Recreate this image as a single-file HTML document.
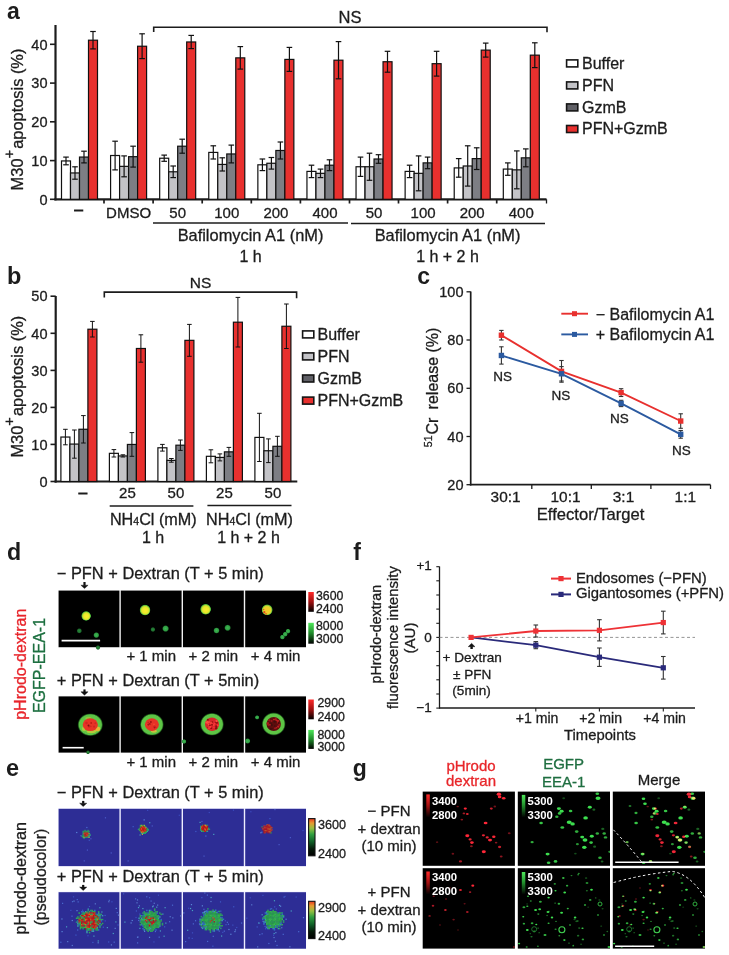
<!DOCTYPE html>
<html><head><meta charset="utf-8"><title>Figure</title>
<style>
html,body{margin:0;padding:0;background:#fff;}
svg{display:block;font-family:"Liberation Sans", Arial, sans-serif;}
</style></head><body>
<svg width="729" height="955" viewBox="0 0 729 955">
<defs>
<radialGradient id="gyel"><stop offset="0" stop-color="#f6f22a"/><stop offset="0.55" stop-color="#e2e426"/><stop offset="0.78" stop-color="#6cc83a"/><stop offset="1" stop-color="#2aa036" stop-opacity="0"/></radialGradient>
<radialGradient id="ggrn"><stop offset="0" stop-color="#4cd050"/><stop offset="0.6" stop-color="#32b03e"/><stop offset="1" stop-color="#1e8a2c" stop-opacity="0"/></radialGradient>
<radialGradient id="ggrn2"><stop offset="0" stop-color="#3cb448"/><stop offset="0.6" stop-color="#2a9a38"/><stop offset="1" stop-color="#1e8a2c" stop-opacity="0"/></radialGradient>
<radialGradient id="gring"><stop offset="0" stop-color="#5cc45c"/><stop offset="0.85" stop-color="#58c258"/><stop offset="1" stop-color="#3aa840" stop-opacity="0.2"/></radialGradient>
<radialGradient id="gred"><stop offset="0" stop-color="#e82a22"/><stop offset="0.8" stop-color="#e02a20"/><stop offset="1" stop-color="#c83a20"/></radialGradient>
<radialGradient id="gdred"><stop offset="0" stop-color="#7a1010"/><stop offset="0.8" stop-color="#5c0c0c"/><stop offset="1" stop-color="#6a2a10"/></radialGradient>
<linearGradient id="cbr" x1="0" y1="0" x2="0" y2="1"><stop offset="0" stop-color="#ff2a2a"/><stop offset="0.5" stop-color="#a01010"/><stop offset="1" stop-color="#000"/></linearGradient>
<linearGradient id="cbg" x1="0" y1="0" x2="0" y2="1"><stop offset="0" stop-color="#4ee85a"/><stop offset="0.5" stop-color="#1f8a2a"/><stop offset="1" stop-color="#000"/></linearGradient>
<linearGradient id="cbj" x1="0" y1="0" x2="0" y2="1"><stop offset="0" stop-color="#e83820"/><stop offset="0.12" stop-color="#e89a30"/><stop offset="0.26" stop-color="#98c040"/><stop offset="0.42" stop-color="#30a040"/><stop offset="0.62" stop-color="#106028"/><stop offset="0.82" stop-color="#041808"/><stop offset="1" stop-color="#000"/></linearGradient>
<radialGradient id="eg1"><stop offset="0" stop-color="#cc1a10"/><stop offset="0.45" stop-color="#d02818"/><stop offset="0.6" stop-color="#c8c030"/><stop offset="0.75" stop-color="#30b060"/><stop offset="1" stop-color="#2e5ab0" stop-opacity="0"/></radialGradient>
<radialGradient id="gdot_r"><stop offset="0" stop-color="#ff3040"/><stop offset="1" stop-color="#c01020" stop-opacity="0"/></radialGradient>
<radialGradient id="gdot_g"><stop offset="0" stop-color="#50e060"/><stop offset="1" stop-color="#20a030" stop-opacity="0"/></radialGradient>

<filter id="bl6" x="-50%" y="-50%" width="200%" height="200%"><feGaussianBlur stdDeviation="0.6"/></filter>
<filter id="bl9" x="-50%" y="-50%" width="200%" height="200%"><feGaussianBlur stdDeviation="0.9"/></filter>
<filter id="bl4" x="-50%" y="-50%" width="200%" height="200%"><feGaussianBlur stdDeviation="0.4"/></filter>
<radialGradient id="dyel" fx="0.56" fy="0.58"><stop offset="0" stop-color="#f6ee30"/><stop offset="0.5" stop-color="#ece82a"/><stop offset="0.7" stop-color="#c4de30"/><stop offset="0.85" stop-color="#50b838"/><stop offset="1" stop-color="#1a7a22" stop-opacity="0"/></radialGradient>
<radialGradient id="dyel2" fx="0.45" fy="0.6"><stop offset="0" stop-color="#f4c82a"/><stop offset="0.5" stop-color="#f0d02a"/><stop offset="0.7" stop-color="#d8d830"/><stop offset="0.85" stop-color="#60b838"/><stop offset="1" stop-color="#1a7a22" stop-opacity="0"/></radialGradient>
<radialGradient id="dgrn"><stop offset="0" stop-color="#40b855"/><stop offset="0.65" stop-color="#2e9c42"/><stop offset="1" stop-color="#1a6e28" stop-opacity="0"/></radialGradient>
<radialGradient id="dgrn2"><stop offset="0" stop-color="#2a8a3a"/><stop offset="0.6" stop-color="#207030"/><stop offset="1" stop-color="#154a20" stop-opacity="0"/></radialGradient>
<radialGradient id="dring"><stop offset="0" stop-color="#66c846"/><stop offset="0.88" stop-color="#5cc444"/><stop offset="1" stop-color="#2a8a2a" stop-opacity="0.3"/></radialGradient>

<radialGradient id="eg1"><stop offset="0" stop-color="#d01c10"/><stop offset="0.5" stop-color="#d42414"/><stop offset="0.66" stop-color="#c0b830"/><stop offset="0.8" stop-color="#30a860"/><stop offset="1" stop-color="#2e3a9e" stop-opacity="0"/></radialGradient>
<radialGradient id="egb"><stop offset="0" stop-color="#30b048"/><stop offset="0.75" stop-color="#2eae4a"/><stop offset="0.9" stop-color="#2c8a80"/><stop offset="1" stop-color="#2e3a9e" stop-opacity="0"/></radialGradient>
<clipPath id="gclip"><rect x="422.7" y="791.6" width="92.2" height="74.2"/><rect x="517.8" y="791.6" width="92.2" height="74.2"/><rect x="612.8" y="791.6" width="92.2" height="74.2"/><rect x="422.7" y="868.2" width="92.2" height="80.4"/><rect x="517.8" y="868.2" width="92.2" height="80.4"/><rect x="612.8" y="868.2" width="92.2" height="80.4"/></clipPath></defs>
<rect width="729" height="955" fill="#fff"/>
<text x="7.0" y="18.5" font-size="23" text-anchor="start" fill="#1c1c1c" font-weight="bold">a</text>
<line x1="55.5" y1="25.0" x2="55.5" y2="200.4" stroke="#1c1c1c" stroke-width="2.2"/>
<line x1="50.0" y1="199.3" x2="55.5" y2="199.3" stroke="#1c1c1c" stroke-width="1.6"/>
<text x="47.5" y="204.5" font-size="14.5" text-anchor="end" fill="#1c1c1c" stroke="#1c1c1c" stroke-width="0.3">0</text>
<line x1="50.0" y1="160.6" x2="55.5" y2="160.6" stroke="#1c1c1c" stroke-width="1.6"/>
<text x="47.5" y="165.8" font-size="14.5" text-anchor="end" fill="#1c1c1c" stroke="#1c1c1c" stroke-width="0.3">10</text>
<line x1="50.0" y1="121.8" x2="55.5" y2="121.8" stroke="#1c1c1c" stroke-width="1.6"/>
<text x="47.5" y="127.0" font-size="14.5" text-anchor="end" fill="#1c1c1c" stroke="#1c1c1c" stroke-width="0.3">20</text>
<line x1="50.0" y1="83.1" x2="55.5" y2="83.1" stroke="#1c1c1c" stroke-width="1.6"/>
<text x="47.5" y="88.3" font-size="14.5" text-anchor="end" fill="#1c1c1c" stroke="#1c1c1c" stroke-width="0.3">30</text>
<line x1="50.0" y1="44.3" x2="55.5" y2="44.3" stroke="#1c1c1c" stroke-width="1.6"/>
<text x="47.5" y="49.5" font-size="14.5" text-anchor="end" fill="#1c1c1c" stroke="#1c1c1c" stroke-width="0.3">40</text>
<line x1="54.4" y1="199.3" x2="546.5" y2="199.3" stroke="#1c1c1c" stroke-width="2.2"/>
<line x1="104.0" y1="199.3" x2="104.0" y2="203.5" stroke="#1c1c1c" stroke-width="1.7"/>
<line x1="153.1" y1="199.3" x2="153.1" y2="203.5" stroke="#1c1c1c" stroke-width="1.7"/>
<line x1="202.2" y1="199.3" x2="202.2" y2="203.5" stroke="#1c1c1c" stroke-width="1.7"/>
<line x1="251.3" y1="199.3" x2="251.3" y2="203.5" stroke="#1c1c1c" stroke-width="1.7"/>
<line x1="300.4" y1="199.3" x2="300.4" y2="203.5" stroke="#1c1c1c" stroke-width="1.7"/>
<line x1="349.5" y1="199.3" x2="349.5" y2="203.5" stroke="#1c1c1c" stroke-width="1.7"/>
<line x1="398.5" y1="199.3" x2="398.5" y2="203.5" stroke="#1c1c1c" stroke-width="1.7"/>
<line x1="447.6" y1="199.3" x2="447.6" y2="203.5" stroke="#1c1c1c" stroke-width="1.7"/>
<line x1="496.7" y1="199.3" x2="496.7" y2="203.5" stroke="#1c1c1c" stroke-width="1.7"/>
<line x1="546.5" y1="199.3" x2="546.5" y2="203.5" stroke="#1c1c1c" stroke-width="1.3"/>
<rect x="61.50" y="160.94" width="9.00" height="38.36" fill="#ffffff" stroke="#111" stroke-width="1.2"/>
<rect x="70.50" y="172.95" width="9.00" height="26.35" fill="#c3c3c7" stroke="#111" stroke-width="1.2"/>
<rect x="79.50" y="157.06" width="9.00" height="42.24" fill="#7d7e84" stroke="#111" stroke-width="1.2"/>
<rect x="88.50" y="40.19" width="9.00" height="159.11" fill="#e8302e" stroke="#111" stroke-width="1.2"/>
<line x1="66.0" y1="157.1" x2="66.0" y2="164.8" stroke="#111" stroke-width="1.2"/>
<line x1="63.2" y1="157.1" x2="68.8" y2="157.1" stroke="#111" stroke-width="1.2"/>
<line x1="63.2" y1="164.8" x2="68.8" y2="164.8" stroke="#111" stroke-width="1.2"/>
<line x1="75.0" y1="166.8" x2="75.0" y2="179.2" stroke="#111" stroke-width="1.2"/>
<line x1="72.2" y1="166.8" x2="77.8" y2="166.8" stroke="#111" stroke-width="1.2"/>
<line x1="72.2" y1="179.2" x2="77.8" y2="179.2" stroke="#111" stroke-width="1.2"/>
<line x1="84.0" y1="151.2" x2="84.0" y2="162.9" stroke="#111" stroke-width="1.2"/>
<line x1="81.2" y1="151.2" x2="86.8" y2="151.2" stroke="#111" stroke-width="1.2"/>
<line x1="81.2" y1="162.9" x2="86.8" y2="162.9" stroke="#111" stroke-width="1.2"/>
<line x1="93.0" y1="31.5" x2="93.0" y2="48.9" stroke="#111" stroke-width="1.2"/>
<line x1="90.2" y1="31.5" x2="95.8" y2="31.5" stroke="#111" stroke-width="1.2"/>
<line x1="90.2" y1="48.9" x2="95.8" y2="48.9" stroke="#111" stroke-width="1.2"/>
<rect x="110.59" y="155.51" width="9.00" height="43.79" fill="#ffffff" stroke="#111" stroke-width="1.2"/>
<rect x="119.59" y="166.36" width="9.00" height="32.94" fill="#c3c3c7" stroke="#111" stroke-width="1.2"/>
<rect x="128.59" y="156.68" width="9.00" height="42.62" fill="#7d7e84" stroke="#111" stroke-width="1.2"/>
<rect x="137.59" y="46.24" width="9.00" height="153.06" fill="#e8302e" stroke="#111" stroke-width="1.2"/>
<line x1="115.1" y1="141.2" x2="115.1" y2="169.9" stroke="#111" stroke-width="1.2"/>
<line x1="112.3" y1="141.2" x2="117.9" y2="141.2" stroke="#111" stroke-width="1.2"/>
<line x1="112.3" y1="169.9" x2="117.9" y2="169.9" stroke="#111" stroke-width="1.2"/>
<line x1="124.1" y1="155.9" x2="124.1" y2="176.8" stroke="#111" stroke-width="1.2"/>
<line x1="121.3" y1="155.9" x2="126.9" y2="155.9" stroke="#111" stroke-width="1.2"/>
<line x1="121.3" y1="176.8" x2="126.9" y2="176.8" stroke="#111" stroke-width="1.2"/>
<line x1="133.1" y1="146.2" x2="133.1" y2="167.1" stroke="#111" stroke-width="1.2"/>
<line x1="130.3" y1="146.2" x2="135.9" y2="146.2" stroke="#111" stroke-width="1.2"/>
<line x1="130.3" y1="167.1" x2="135.9" y2="167.1" stroke="#111" stroke-width="1.2"/>
<line x1="142.1" y1="33.8" x2="142.1" y2="58.6" stroke="#111" stroke-width="1.2"/>
<line x1="139.3" y1="33.8" x2="144.9" y2="33.8" stroke="#111" stroke-width="1.2"/>
<line x1="139.3" y1="58.6" x2="144.9" y2="58.6" stroke="#111" stroke-width="1.2"/>
<rect x="159.68" y="158.23" width="9.00" height="41.07" fill="#ffffff" stroke="#111" stroke-width="1.2"/>
<rect x="168.68" y="171.79" width="9.00" height="27.51" fill="#c3c3c7" stroke="#111" stroke-width="1.2"/>
<rect x="177.68" y="146.21" width="9.00" height="53.09" fill="#7d7e84" stroke="#111" stroke-width="1.2"/>
<rect x="186.68" y="41.97" width="9.00" height="157.33" fill="#e8302e" stroke="#111" stroke-width="1.2"/>
<line x1="164.2" y1="155.1" x2="164.2" y2="161.3" stroke="#111" stroke-width="1.2"/>
<line x1="161.4" y1="155.1" x2="167.0" y2="155.1" stroke="#111" stroke-width="1.2"/>
<line x1="161.4" y1="161.3" x2="167.0" y2="161.3" stroke="#111" stroke-width="1.2"/>
<line x1="173.2" y1="166.0" x2="173.2" y2="177.6" stroke="#111" stroke-width="1.2"/>
<line x1="170.4" y1="166.0" x2="176.0" y2="166.0" stroke="#111" stroke-width="1.2"/>
<line x1="170.4" y1="177.6" x2="176.0" y2="177.6" stroke="#111" stroke-width="1.2"/>
<line x1="182.2" y1="139.2" x2="182.2" y2="153.2" stroke="#111" stroke-width="1.2"/>
<line x1="179.4" y1="139.2" x2="185.0" y2="139.2" stroke="#111" stroke-width="1.2"/>
<line x1="179.4" y1="153.2" x2="185.0" y2="153.2" stroke="#111" stroke-width="1.2"/>
<line x1="191.2" y1="35.4" x2="191.2" y2="48.6" stroke="#111" stroke-width="1.2"/>
<line x1="188.4" y1="35.4" x2="194.0" y2="35.4" stroke="#111" stroke-width="1.2"/>
<line x1="188.4" y1="48.6" x2="194.0" y2="48.6" stroke="#111" stroke-width="1.2"/>
<rect x="208.77" y="152.41" width="9.00" height="46.89" fill="#ffffff" stroke="#111" stroke-width="1.2"/>
<rect x="217.77" y="164.43" width="9.00" height="34.88" fill="#c3c3c7" stroke="#111" stroke-width="1.2"/>
<rect x="226.77" y="153.96" width="9.00" height="45.34" fill="#7d7e84" stroke="#111" stroke-width="1.2"/>
<rect x="235.77" y="57.86" width="9.00" height="141.44" fill="#e8302e" stroke="#111" stroke-width="1.2"/>
<line x1="213.3" y1="145.8" x2="213.3" y2="159.0" stroke="#111" stroke-width="1.2"/>
<line x1="210.5" y1="145.8" x2="216.1" y2="145.8" stroke="#111" stroke-width="1.2"/>
<line x1="210.5" y1="159.0" x2="216.1" y2="159.0" stroke="#111" stroke-width="1.2"/>
<line x1="222.3" y1="157.8" x2="222.3" y2="171.0" stroke="#111" stroke-width="1.2"/>
<line x1="219.5" y1="157.8" x2="225.1" y2="157.8" stroke="#111" stroke-width="1.2"/>
<line x1="219.5" y1="171.0" x2="225.1" y2="171.0" stroke="#111" stroke-width="1.2"/>
<line x1="231.3" y1="145.1" x2="231.3" y2="162.9" stroke="#111" stroke-width="1.2"/>
<line x1="228.5" y1="145.1" x2="234.1" y2="145.1" stroke="#111" stroke-width="1.2"/>
<line x1="228.5" y1="162.9" x2="234.1" y2="162.9" stroke="#111" stroke-width="1.2"/>
<line x1="240.3" y1="46.6" x2="240.3" y2="69.1" stroke="#111" stroke-width="1.2"/>
<line x1="237.5" y1="46.6" x2="243.1" y2="46.6" stroke="#111" stroke-width="1.2"/>
<line x1="237.5" y1="69.1" x2="243.1" y2="69.1" stroke="#111" stroke-width="1.2"/>
<rect x="257.86" y="164.81" width="9.00" height="34.49" fill="#ffffff" stroke="#111" stroke-width="1.2"/>
<rect x="266.86" y="163.26" width="9.00" height="36.04" fill="#c3c3c7" stroke="#111" stroke-width="1.2"/>
<rect x="275.86" y="150.48" width="9.00" height="48.82" fill="#7d7e84" stroke="#111" stroke-width="1.2"/>
<rect x="284.86" y="59.41" width="9.00" height="139.89" fill="#e8302e" stroke="#111" stroke-width="1.2"/>
<line x1="262.4" y1="159.0" x2="262.4" y2="170.6" stroke="#111" stroke-width="1.2"/>
<line x1="259.6" y1="159.0" x2="265.2" y2="159.0" stroke="#111" stroke-width="1.2"/>
<line x1="259.6" y1="170.6" x2="265.2" y2="170.6" stroke="#111" stroke-width="1.2"/>
<line x1="271.4" y1="157.5" x2="271.4" y2="169.1" stroke="#111" stroke-width="1.2"/>
<line x1="268.6" y1="157.5" x2="274.2" y2="157.5" stroke="#111" stroke-width="1.2"/>
<line x1="268.6" y1="169.1" x2="274.2" y2="169.1" stroke="#111" stroke-width="1.2"/>
<line x1="280.4" y1="142.0" x2="280.4" y2="159.0" stroke="#111" stroke-width="1.2"/>
<line x1="277.6" y1="142.0" x2="283.2" y2="142.0" stroke="#111" stroke-width="1.2"/>
<line x1="277.6" y1="159.0" x2="283.2" y2="159.0" stroke="#111" stroke-width="1.2"/>
<line x1="289.4" y1="47.4" x2="289.4" y2="71.4" stroke="#111" stroke-width="1.2"/>
<line x1="286.6" y1="47.4" x2="292.2" y2="47.4" stroke="#111" stroke-width="1.2"/>
<line x1="286.6" y1="71.4" x2="292.2" y2="71.4" stroke="#111" stroke-width="1.2"/>
<rect x="306.95" y="171.40" width="9.00" height="27.90" fill="#ffffff" stroke="#111" stroke-width="1.2"/>
<rect x="315.95" y="173.34" width="9.00" height="25.96" fill="#c3c3c7" stroke="#111" stroke-width="1.2"/>
<rect x="324.95" y="165.20" width="9.00" height="34.10" fill="#7d7e84" stroke="#111" stroke-width="1.2"/>
<rect x="333.95" y="60.19" width="9.00" height="139.11" fill="#e8302e" stroke="#111" stroke-width="1.2"/>
<line x1="311.5" y1="165.2" x2="311.5" y2="177.6" stroke="#111" stroke-width="1.2"/>
<line x1="308.7" y1="165.2" x2="314.3" y2="165.2" stroke="#111" stroke-width="1.2"/>
<line x1="308.7" y1="177.6" x2="314.3" y2="177.6" stroke="#111" stroke-width="1.2"/>
<line x1="320.5" y1="169.1" x2="320.5" y2="177.6" stroke="#111" stroke-width="1.2"/>
<line x1="317.7" y1="169.1" x2="323.3" y2="169.1" stroke="#111" stroke-width="1.2"/>
<line x1="317.7" y1="177.6" x2="323.3" y2="177.6" stroke="#111" stroke-width="1.2"/>
<line x1="329.5" y1="159.8" x2="329.5" y2="170.6" stroke="#111" stroke-width="1.2"/>
<line x1="326.7" y1="159.8" x2="332.3" y2="159.8" stroke="#111" stroke-width="1.2"/>
<line x1="326.7" y1="170.6" x2="332.3" y2="170.6" stroke="#111" stroke-width="1.2"/>
<line x1="338.5" y1="41.6" x2="338.5" y2="78.8" stroke="#111" stroke-width="1.2"/>
<line x1="335.7" y1="41.6" x2="341.3" y2="41.6" stroke="#111" stroke-width="1.2"/>
<line x1="335.7" y1="78.8" x2="341.3" y2="78.8" stroke="#111" stroke-width="1.2"/>
<rect x="356.04" y="166.75" width="9.00" height="32.55" fill="#ffffff" stroke="#111" stroke-width="1.2"/>
<rect x="365.04" y="166.75" width="9.00" height="32.55" fill="#c3c3c7" stroke="#111" stroke-width="1.2"/>
<rect x="374.04" y="159.00" width="9.00" height="40.30" fill="#7d7e84" stroke="#111" stroke-width="1.2"/>
<rect x="383.04" y="61.74" width="9.00" height="137.56" fill="#e8302e" stroke="#111" stroke-width="1.2"/>
<line x1="360.5" y1="157.1" x2="360.5" y2="176.4" stroke="#111" stroke-width="1.2"/>
<line x1="357.7" y1="157.1" x2="363.3" y2="157.1" stroke="#111" stroke-width="1.2"/>
<line x1="357.7" y1="176.4" x2="363.3" y2="176.4" stroke="#111" stroke-width="1.2"/>
<line x1="369.5" y1="153.2" x2="369.5" y2="180.3" stroke="#111" stroke-width="1.2"/>
<line x1="366.7" y1="153.2" x2="372.3" y2="153.2" stroke="#111" stroke-width="1.2"/>
<line x1="366.7" y1="180.3" x2="372.3" y2="180.3" stroke="#111" stroke-width="1.2"/>
<line x1="378.5" y1="154.7" x2="378.5" y2="163.3" stroke="#111" stroke-width="1.2"/>
<line x1="375.7" y1="154.7" x2="381.3" y2="154.7" stroke="#111" stroke-width="1.2"/>
<line x1="375.7" y1="163.3" x2="381.3" y2="163.3" stroke="#111" stroke-width="1.2"/>
<line x1="387.5" y1="51.3" x2="387.5" y2="72.2" stroke="#111" stroke-width="1.2"/>
<line x1="384.7" y1="51.3" x2="390.3" y2="51.3" stroke="#111" stroke-width="1.2"/>
<line x1="384.7" y1="72.2" x2="390.3" y2="72.2" stroke="#111" stroke-width="1.2"/>
<rect x="405.13" y="171.40" width="9.00" height="27.90" fill="#ffffff" stroke="#111" stroke-width="1.2"/>
<rect x="414.13" y="173.34" width="9.00" height="25.96" fill="#c3c3c7" stroke="#111" stroke-width="1.2"/>
<rect x="423.13" y="162.88" width="9.00" height="36.43" fill="#7d7e84" stroke="#111" stroke-width="1.2"/>
<rect x="432.13" y="63.68" width="9.00" height="135.62" fill="#e8302e" stroke="#111" stroke-width="1.2"/>
<line x1="409.6" y1="165.2" x2="409.6" y2="177.6" stroke="#111" stroke-width="1.2"/>
<line x1="406.8" y1="165.2" x2="412.4" y2="165.2" stroke="#111" stroke-width="1.2"/>
<line x1="406.8" y1="177.6" x2="412.4" y2="177.6" stroke="#111" stroke-width="1.2"/>
<line x1="418.6" y1="155.9" x2="418.6" y2="190.8" stroke="#111" stroke-width="1.2"/>
<line x1="415.8" y1="155.9" x2="421.4" y2="155.9" stroke="#111" stroke-width="1.2"/>
<line x1="415.8" y1="190.8" x2="421.4" y2="190.8" stroke="#111" stroke-width="1.2"/>
<line x1="427.6" y1="157.1" x2="427.6" y2="168.7" stroke="#111" stroke-width="1.2"/>
<line x1="424.8" y1="157.1" x2="430.4" y2="157.1" stroke="#111" stroke-width="1.2"/>
<line x1="424.8" y1="168.7" x2="430.4" y2="168.7" stroke="#111" stroke-width="1.2"/>
<line x1="436.6" y1="51.3" x2="436.6" y2="76.1" stroke="#111" stroke-width="1.2"/>
<line x1="433.8" y1="51.3" x2="439.4" y2="51.3" stroke="#111" stroke-width="1.2"/>
<line x1="433.8" y1="76.1" x2="439.4" y2="76.1" stroke="#111" stroke-width="1.2"/>
<rect x="454.22" y="167.91" width="9.00" height="31.39" fill="#ffffff" stroke="#111" stroke-width="1.2"/>
<rect x="463.22" y="165.98" width="9.00" height="33.32" fill="#c3c3c7" stroke="#111" stroke-width="1.2"/>
<rect x="472.22" y="158.61" width="9.00" height="40.69" fill="#7d7e84" stroke="#111" stroke-width="1.2"/>
<rect x="481.22" y="50.11" width="9.00" height="149.19" fill="#e8302e" stroke="#111" stroke-width="1.2"/>
<line x1="458.7" y1="158.6" x2="458.7" y2="177.2" stroke="#111" stroke-width="1.2"/>
<line x1="455.9" y1="158.6" x2="461.5" y2="158.6" stroke="#111" stroke-width="1.2"/>
<line x1="455.9" y1="177.2" x2="461.5" y2="177.2" stroke="#111" stroke-width="1.2"/>
<line x1="467.7" y1="145.8" x2="467.7" y2="186.1" stroke="#111" stroke-width="1.2"/>
<line x1="464.9" y1="145.8" x2="470.5" y2="145.8" stroke="#111" stroke-width="1.2"/>
<line x1="464.9" y1="186.1" x2="470.5" y2="186.1" stroke="#111" stroke-width="1.2"/>
<line x1="476.7" y1="147.8" x2="476.7" y2="169.5" stroke="#111" stroke-width="1.2"/>
<line x1="473.9" y1="147.8" x2="479.5" y2="147.8" stroke="#111" stroke-width="1.2"/>
<line x1="473.9" y1="169.5" x2="479.5" y2="169.5" stroke="#111" stroke-width="1.2"/>
<line x1="485.7" y1="43.1" x2="485.7" y2="57.1" stroke="#111" stroke-width="1.2"/>
<line x1="482.9" y1="43.1" x2="488.5" y2="43.1" stroke="#111" stroke-width="1.2"/>
<line x1="482.9" y1="57.1" x2="488.5" y2="57.1" stroke="#111" stroke-width="1.2"/>
<rect x="503.31" y="169.08" width="9.00" height="30.22" fill="#ffffff" stroke="#111" stroke-width="1.2"/>
<rect x="512.31" y="169.85" width="9.00" height="29.45" fill="#c3c3c7" stroke="#111" stroke-width="1.2"/>
<rect x="521.31" y="157.84" width="9.00" height="41.46" fill="#7d7e84" stroke="#111" stroke-width="1.2"/>
<rect x="530.31" y="55.15" width="9.00" height="144.15" fill="#e8302e" stroke="#111" stroke-width="1.2"/>
<line x1="507.8" y1="162.9" x2="507.8" y2="175.3" stroke="#111" stroke-width="1.2"/>
<line x1="505.0" y1="162.9" x2="510.6" y2="162.9" stroke="#111" stroke-width="1.2"/>
<line x1="505.0" y1="175.3" x2="510.6" y2="175.3" stroke="#111" stroke-width="1.2"/>
<line x1="516.8" y1="150.9" x2="516.8" y2="188.8" stroke="#111" stroke-width="1.2"/>
<line x1="514.0" y1="150.9" x2="519.6" y2="150.9" stroke="#111" stroke-width="1.2"/>
<line x1="514.0" y1="188.8" x2="519.6" y2="188.8" stroke="#111" stroke-width="1.2"/>
<line x1="525.8" y1="148.9" x2="525.8" y2="166.8" stroke="#111" stroke-width="1.2"/>
<line x1="523.0" y1="148.9" x2="528.6" y2="148.9" stroke="#111" stroke-width="1.2"/>
<line x1="523.0" y1="166.8" x2="528.6" y2="166.8" stroke="#111" stroke-width="1.2"/>
<line x1="534.8" y1="42.8" x2="534.8" y2="67.6" stroke="#111" stroke-width="1.2"/>
<line x1="532.0" y1="42.8" x2="537.6" y2="42.8" stroke="#111" stroke-width="1.2"/>
<line x1="532.0" y1="67.6" x2="537.6" y2="67.6" stroke="#111" stroke-width="1.2"/>
<path d="M153.7,32 V27.2 H547 V32.2" stroke="#1c1c1c" stroke-width="1.6" fill="none"/>
<text x="350.0" y="23.0" font-size="16.5" text-anchor="middle" fill="#1c1c1c" stroke="#1c1c1c" stroke-width="0.3">NS</text>
<text x="78.7" y="214.3" font-size="15" text-anchor="middle" fill="#1c1c1c" stroke="#1c1c1c" stroke-width="0.9">–</text>
<text x="128.6" y="218.0" font-size="15" text-anchor="middle" fill="#1c1c1c" stroke="#1c1c1c" stroke-width="0.3">DMSO</text>
<text x="177.7" y="218.0" font-size="15" text-anchor="middle" fill="#1c1c1c" stroke="#1c1c1c" stroke-width="0.3">50</text>
<text x="226.8" y="218.0" font-size="15" text-anchor="middle" fill="#1c1c1c" stroke="#1c1c1c" stroke-width="0.3">100</text>
<text x="275.9" y="218.0" font-size="15" text-anchor="middle" fill="#1c1c1c" stroke="#1c1c1c" stroke-width="0.3">200</text>
<text x="325.0" y="218.0" font-size="15" text-anchor="middle" fill="#1c1c1c" stroke="#1c1c1c" stroke-width="0.3">400</text>
<text x="374.0" y="218.0" font-size="15" text-anchor="middle" fill="#1c1c1c" stroke="#1c1c1c" stroke-width="0.3">50</text>
<text x="423.1" y="218.0" font-size="15" text-anchor="middle" fill="#1c1c1c" stroke="#1c1c1c" stroke-width="0.3">100</text>
<text x="472.2" y="218.0" font-size="15" text-anchor="middle" fill="#1c1c1c" stroke="#1c1c1c" stroke-width="0.3">200</text>
<text x="521.3" y="218.0" font-size="15" text-anchor="middle" fill="#1c1c1c" stroke="#1c1c1c" stroke-width="0.3">400</text>
<line x1="153.0" y1="223.0" x2="348.0" y2="223.0" stroke="#1c1c1c" stroke-width="1.5"/>
<line x1="351.0" y1="223.5" x2="545.0" y2="223.5" stroke="#1c1c1c" stroke-width="1.5"/>
<text x="250.5" y="241.3" font-size="16.4" text-anchor="middle" fill="#1c1c1c" stroke="#1c1c1c" stroke-width="0.3">Bafilomycin A1 (nM)</text>
<text x="250.5" y="261.5" font-size="16" text-anchor="middle" fill="#1c1c1c" stroke="#1c1c1c" stroke-width="0.3">1 h</text>
<text x="447.5" y="241.3" font-size="16.4" text-anchor="middle" fill="#1c1c1c" stroke="#1c1c1c" stroke-width="0.3">Bafilomycin A1 (nM)</text>
<text x="447.5" y="261.5" font-size="16" text-anchor="middle" fill="#1c1c1c" stroke="#1c1c1c" stroke-width="0.3">1 h + 2 h</text>
<text transform="translate(23,119.5) rotate(-90)" font-size="16.4" text-anchor="middle" fill="#1c1c1c" stroke="#1c1c1c" stroke-width="0.3">M30<tspan dy="-9" font-size="14.5">+</tspan><tspan dy="9" dx="1.2">apoptosis (%)</tspan></text>
<rect x="566.60" y="59.90" width="11.20" height="7.00" fill="#ffffff" stroke="#151515" stroke-width="1.6"/>
<text x="582.0" y="68.6" font-size="16" text-anchor="start" fill="#1c1c1c" stroke="#1c1c1c" stroke-width="0.3">Buffer</text>
<rect x="566.60" y="81.90" width="11.20" height="7.00" fill="#c3c3c7" stroke="#151515" stroke-width="1.6"/>
<text x="582.0" y="90.6" font-size="16" text-anchor="start" fill="#1c1c1c" stroke="#1c1c1c" stroke-width="0.3">PFN</text>
<rect x="566.60" y="103.90" width="11.20" height="7.00" fill="#606066" stroke="#151515" stroke-width="1.6"/>
<text x="582.0" y="112.6" font-size="16" text-anchor="start" fill="#1c1c1c" stroke="#1c1c1c" stroke-width="0.3">GzmB</text>
<rect x="566.60" y="125.50" width="11.20" height="7.00" fill="#e8302e" stroke="#151515" stroke-width="1.6"/>
<text x="582.0" y="134.2" font-size="16" text-anchor="start" fill="#1c1c1c" stroke="#1c1c1c" stroke-width="0.3">PFN+GzmB</text>
<text x="7.0" y="284.0" font-size="23.5" text-anchor="start" fill="#1c1c1c" font-weight="bold">b</text>
<line x1="55.7" y1="296.0" x2="55.7" y2="482.6" stroke="#1c1c1c" stroke-width="2.2"/>
<line x1="50.5" y1="481.5" x2="55.7" y2="481.5" stroke="#1c1c1c" stroke-width="1.6"/>
<text x="47.5" y="486.7" font-size="14.5" text-anchor="end" fill="#1c1c1c" stroke="#1c1c1c" stroke-width="0.3">0</text>
<line x1="50.5" y1="444.4" x2="55.7" y2="444.4" stroke="#1c1c1c" stroke-width="1.6"/>
<text x="47.5" y="449.6" font-size="14.5" text-anchor="end" fill="#1c1c1c" stroke="#1c1c1c" stroke-width="0.3">10</text>
<line x1="50.5" y1="407.4" x2="55.7" y2="407.4" stroke="#1c1c1c" stroke-width="1.6"/>
<text x="47.5" y="412.6" font-size="14.5" text-anchor="end" fill="#1c1c1c" stroke="#1c1c1c" stroke-width="0.3">20</text>
<line x1="50.5" y1="370.4" x2="55.7" y2="370.4" stroke="#1c1c1c" stroke-width="1.6"/>
<text x="47.5" y="375.6" font-size="14.5" text-anchor="end" fill="#1c1c1c" stroke="#1c1c1c" stroke-width="0.3">30</text>
<line x1="50.5" y1="333.3" x2="55.7" y2="333.3" stroke="#1c1c1c" stroke-width="1.6"/>
<text x="47.5" y="338.5" font-size="14.5" text-anchor="end" fill="#1c1c1c" stroke="#1c1c1c" stroke-width="0.3">40</text>
<line x1="50.5" y1="296.2" x2="55.7" y2="296.2" stroke="#1c1c1c" stroke-width="1.6"/>
<text x="47.5" y="301.4" font-size="14.5" text-anchor="end" fill="#1c1c1c" stroke="#1c1c1c" stroke-width="0.3">50</text>
<line x1="54.6" y1="481.5" x2="297.3" y2="481.5" stroke="#1c1c1c" stroke-width="2.2"/>
<rect x="60.90" y="437.04" width="9.00" height="44.46" fill="#ffffff" stroke="#111" stroke-width="1.2"/>
<rect x="69.90" y="444.08" width="9.00" height="37.42" fill="#c3c3c7" stroke="#111" stroke-width="1.2"/>
<rect x="78.90" y="429.26" width="9.00" height="52.24" fill="#7d7e84" stroke="#111" stroke-width="1.2"/>
<rect x="87.90" y="329.22" width="9.00" height="152.28" fill="#e8302e" stroke="#111" stroke-width="1.2"/>
<line x1="65.4" y1="429.3" x2="65.4" y2="444.8" stroke="#111" stroke-width="1.0"/>
<line x1="63.1" y1="429.3" x2="67.7" y2="429.3" stroke="#111" stroke-width="1.0"/>
<line x1="63.1" y1="444.8" x2="67.7" y2="444.8" stroke="#111" stroke-width="1.0"/>
<line x1="74.4" y1="430.0" x2="74.4" y2="458.2" stroke="#111" stroke-width="1.0"/>
<line x1="72.1" y1="430.0" x2="76.7" y2="430.0" stroke="#111" stroke-width="1.0"/>
<line x1="72.1" y1="458.2" x2="76.7" y2="458.2" stroke="#111" stroke-width="1.0"/>
<line x1="83.4" y1="415.6" x2="83.4" y2="443.0" stroke="#111" stroke-width="1.0"/>
<line x1="81.1" y1="415.6" x2="85.7" y2="415.6" stroke="#111" stroke-width="1.0"/>
<line x1="81.1" y1="443.0" x2="85.7" y2="443.0" stroke="#111" stroke-width="1.0"/>
<line x1="92.4" y1="321.4" x2="92.4" y2="337.0" stroke="#111" stroke-width="1.0"/>
<line x1="90.1" y1="321.4" x2="94.7" y2="321.4" stroke="#111" stroke-width="1.0"/>
<line x1="90.1" y1="337.0" x2="94.7" y2="337.0" stroke="#111" stroke-width="1.0"/>
<rect x="109.40" y="453.34" width="9.00" height="28.16" fill="#ffffff" stroke="#111" stroke-width="1.2"/>
<rect x="118.40" y="455.94" width="9.00" height="25.56" fill="#c3c3c7" stroke="#111" stroke-width="1.2"/>
<rect x="127.40" y="444.45" width="9.00" height="37.05" fill="#7d7e84" stroke="#111" stroke-width="1.2"/>
<rect x="136.40" y="348.49" width="9.00" height="133.01" fill="#e8302e" stroke="#111" stroke-width="1.2"/>
<line x1="113.9" y1="449.6" x2="113.9" y2="457.0" stroke="#111" stroke-width="1.0"/>
<line x1="111.6" y1="449.6" x2="116.2" y2="449.6" stroke="#111" stroke-width="1.0"/>
<line x1="111.6" y1="457.0" x2="116.2" y2="457.0" stroke="#111" stroke-width="1.0"/>
<line x1="122.9" y1="454.8" x2="122.9" y2="457.0" stroke="#111" stroke-width="1.0"/>
<line x1="120.6" y1="454.8" x2="125.2" y2="454.8" stroke="#111" stroke-width="1.0"/>
<line x1="120.6" y1="457.0" x2="125.2" y2="457.0" stroke="#111" stroke-width="1.0"/>
<line x1="131.9" y1="432.6" x2="131.9" y2="456.3" stroke="#111" stroke-width="1.0"/>
<line x1="129.6" y1="432.6" x2="134.2" y2="432.6" stroke="#111" stroke-width="1.0"/>
<line x1="129.6" y1="456.3" x2="134.2" y2="456.3" stroke="#111" stroke-width="1.0"/>
<line x1="140.9" y1="334.8" x2="140.9" y2="362.2" stroke="#111" stroke-width="1.0"/>
<line x1="138.6" y1="334.8" x2="143.2" y2="334.8" stroke="#111" stroke-width="1.0"/>
<line x1="138.6" y1="362.2" x2="143.2" y2="362.2" stroke="#111" stroke-width="1.0"/>
<rect x="157.90" y="447.78" width="9.00" height="33.72" fill="#ffffff" stroke="#111" stroke-width="1.2"/>
<rect x="166.90" y="460.38" width="9.00" height="21.12" fill="#c3c3c7" stroke="#111" stroke-width="1.2"/>
<rect x="175.90" y="445.19" width="9.00" height="36.31" fill="#7d7e84" stroke="#111" stroke-width="1.2"/>
<rect x="184.90" y="340.34" width="9.00" height="141.16" fill="#e8302e" stroke="#111" stroke-width="1.2"/>
<line x1="162.4" y1="444.4" x2="162.4" y2="451.1" stroke="#111" stroke-width="1.0"/>
<line x1="160.1" y1="444.4" x2="164.7" y2="444.4" stroke="#111" stroke-width="1.0"/>
<line x1="160.1" y1="451.1" x2="164.7" y2="451.1" stroke="#111" stroke-width="1.0"/>
<line x1="171.4" y1="458.5" x2="171.4" y2="462.2" stroke="#111" stroke-width="1.0"/>
<line x1="169.1" y1="458.5" x2="173.7" y2="458.5" stroke="#111" stroke-width="1.0"/>
<line x1="169.1" y1="462.2" x2="173.7" y2="462.2" stroke="#111" stroke-width="1.0"/>
<line x1="180.4" y1="440.0" x2="180.4" y2="450.4" stroke="#111" stroke-width="1.0"/>
<line x1="178.1" y1="440.0" x2="182.7" y2="440.0" stroke="#111" stroke-width="1.0"/>
<line x1="178.1" y1="450.4" x2="182.7" y2="450.4" stroke="#111" stroke-width="1.0"/>
<line x1="189.4" y1="324.4" x2="189.4" y2="356.3" stroke="#111" stroke-width="1.0"/>
<line x1="187.1" y1="324.4" x2="191.7" y2="324.4" stroke="#111" stroke-width="1.0"/>
<line x1="187.1" y1="356.3" x2="191.7" y2="356.3" stroke="#111" stroke-width="1.0"/>
<rect x="206.40" y="456.31" width="9.00" height="25.19" fill="#ffffff" stroke="#111" stroke-width="1.2"/>
<rect x="215.40" y="457.42" width="9.00" height="24.08" fill="#c3c3c7" stroke="#111" stroke-width="1.2"/>
<rect x="224.40" y="451.86" width="9.00" height="29.64" fill="#7d7e84" stroke="#111" stroke-width="1.2"/>
<rect x="233.40" y="322.19" width="9.00" height="159.31" fill="#e8302e" stroke="#111" stroke-width="1.2"/>
<line x1="210.9" y1="449.8" x2="210.9" y2="462.8" stroke="#111" stroke-width="1.0"/>
<line x1="208.6" y1="449.8" x2="213.2" y2="449.8" stroke="#111" stroke-width="1.0"/>
<line x1="208.6" y1="462.8" x2="213.2" y2="462.8" stroke="#111" stroke-width="1.0"/>
<line x1="219.9" y1="453.9" x2="219.9" y2="460.9" stroke="#111" stroke-width="1.0"/>
<line x1="217.6" y1="453.9" x2="222.2" y2="453.9" stroke="#111" stroke-width="1.0"/>
<line x1="217.6" y1="460.9" x2="222.2" y2="460.9" stroke="#111" stroke-width="1.0"/>
<line x1="228.9" y1="447.4" x2="228.9" y2="456.3" stroke="#111" stroke-width="1.0"/>
<line x1="226.6" y1="447.4" x2="231.2" y2="447.4" stroke="#111" stroke-width="1.0"/>
<line x1="226.6" y1="456.3" x2="231.2" y2="456.3" stroke="#111" stroke-width="1.0"/>
<line x1="237.9" y1="297.4" x2="237.9" y2="347.0" stroke="#111" stroke-width="1.0"/>
<line x1="235.6" y1="297.4" x2="240.2" y2="297.4" stroke="#111" stroke-width="1.0"/>
<line x1="235.6" y1="347.0" x2="240.2" y2="347.0" stroke="#111" stroke-width="1.0"/>
<rect x="254.90" y="437.41" width="9.00" height="44.09" fill="#ffffff" stroke="#111" stroke-width="1.2"/>
<rect x="263.90" y="450.75" width="9.00" height="30.75" fill="#c3c3c7" stroke="#111" stroke-width="1.2"/>
<rect x="272.90" y="446.30" width="9.00" height="35.20" fill="#7d7e84" stroke="#111" stroke-width="1.2"/>
<rect x="281.90" y="326.26" width="9.00" height="155.24" fill="#e8302e" stroke="#111" stroke-width="1.2"/>
<line x1="259.4" y1="413.3" x2="259.4" y2="461.5" stroke="#111" stroke-width="1.0"/>
<line x1="257.1" y1="413.3" x2="261.7" y2="413.3" stroke="#111" stroke-width="1.0"/>
<line x1="257.1" y1="461.5" x2="261.7" y2="461.5" stroke="#111" stroke-width="1.0"/>
<line x1="268.4" y1="438.9" x2="268.4" y2="462.6" stroke="#111" stroke-width="1.0"/>
<line x1="266.1" y1="438.9" x2="270.7" y2="438.9" stroke="#111" stroke-width="1.0"/>
<line x1="266.1" y1="462.6" x2="270.7" y2="462.6" stroke="#111" stroke-width="1.0"/>
<line x1="277.4" y1="436.3" x2="277.4" y2="456.3" stroke="#111" stroke-width="1.0"/>
<line x1="275.1" y1="436.3" x2="279.7" y2="436.3" stroke="#111" stroke-width="1.0"/>
<line x1="275.1" y1="456.3" x2="279.7" y2="456.3" stroke="#111" stroke-width="1.0"/>
<line x1="286.4" y1="304.0" x2="286.4" y2="348.5" stroke="#111" stroke-width="1.0"/>
<line x1="284.1" y1="304.0" x2="288.7" y2="304.0" stroke="#111" stroke-width="1.0"/>
<line x1="284.1" y1="348.5" x2="288.7" y2="348.5" stroke="#111" stroke-width="1.0"/>
<path d="M104.3,297.4 V292.1 H296.6 V298.3" stroke="#1c1c1c" stroke-width="1.6" fill="none"/>
<text x="200.5" y="288.0" font-size="15.5" text-anchor="middle" fill="#1c1c1c" stroke="#1c1c1c" stroke-width="0.3">NS</text>
<text x="82.8" y="497.3" font-size="15" text-anchor="middle" fill="#1c1c1c" stroke="#1c1c1c" stroke-width="0.9">–</text>
<text x="127.4" y="498.3" font-size="15" text-anchor="middle" fill="#1c1c1c" stroke="#1c1c1c" stroke-width="0.3">25</text>
<text x="175.9" y="498.3" font-size="15" text-anchor="middle" fill="#1c1c1c" stroke="#1c1c1c" stroke-width="0.3">50</text>
<text x="224.4" y="498.3" font-size="15" text-anchor="middle" fill="#1c1c1c" stroke="#1c1c1c" stroke-width="0.3">25</text>
<text x="272.9" y="498.3" font-size="15" text-anchor="middle" fill="#1c1c1c" stroke="#1c1c1c" stroke-width="0.3">50</text>
<line x1="109.7" y1="506.0" x2="193.4" y2="506.0" stroke="#1c1c1c" stroke-width="1.5"/>
<line x1="207.4" y1="505.5" x2="291.5" y2="505.5" stroke="#1c1c1c" stroke-width="1.5"/>
<text x="153.3" y="524.5" font-size="16.2" text-anchor="middle" fill="#1c1c1c" stroke="#1c1c1c" stroke-width="0.3">NH<tspan font-size="10.5" dy="0.3">4</tspan><tspan dy="-0.3">Cl (mM)</tspan></text>
<text x="249.5" y="524.5" font-size="16.2" text-anchor="middle" fill="#1c1c1c" stroke="#1c1c1c" stroke-width="0.3">NH<tspan font-size="10.5" dy="0.3">4</tspan><tspan dy="-0.3">Cl (mM)</tspan></text>
<text x="153.0" y="543.0" font-size="16" text-anchor="middle" fill="#1c1c1c" stroke="#1c1c1c" stroke-width="0.3">1 h</text>
<text x="248.5" y="543.0" font-size="16" text-anchor="middle" fill="#1c1c1c" stroke="#1c1c1c" stroke-width="0.3">1 h + 2 h</text>
<text transform="translate(23,386.7) rotate(-90)" font-size="16.4" text-anchor="middle" fill="#1c1c1c" stroke="#1c1c1c" stroke-width="0.3">M30<tspan dy="-9" font-size="14.5">+</tspan><tspan dy="9" dx="1.2">apoptosis (%)</tspan></text>
<rect x="302.60" y="330.90" width="11.20" height="7.00" fill="#ffffff" stroke="#151515" stroke-width="1.6"/>
<text x="317.5" y="339.6" font-size="16" text-anchor="start" fill="#1c1c1c" stroke="#1c1c1c" stroke-width="0.3">Buffer</text>
<rect x="302.60" y="352.90" width="11.20" height="7.00" fill="#c3c3c7" stroke="#151515" stroke-width="1.6"/>
<text x="317.5" y="361.6" font-size="16" text-anchor="start" fill="#1c1c1c" stroke="#1c1c1c" stroke-width="0.3">PFN</text>
<rect x="302.60" y="375.00" width="11.20" height="7.00" fill="#606066" stroke="#151515" stroke-width="1.6"/>
<text x="317.5" y="383.7" font-size="16" text-anchor="start" fill="#1c1c1c" stroke="#1c1c1c" stroke-width="0.3">GzmB</text>
<rect x="302.60" y="397.10" width="11.20" height="7.00" fill="#e8302e" stroke="#151515" stroke-width="1.6"/>
<text x="317.5" y="405.8" font-size="16" text-anchor="start" fill="#1c1c1c" stroke="#1c1c1c" stroke-width="0.3">PFN+GzmB</text>
<text x="417.2" y="284.4" font-size="23" text-anchor="start" fill="#1c1c1c" font-weight="bold">c</text>
<line x1="470.7" y1="291.5" x2="470.7" y2="485.5" stroke="#1c1c1c" stroke-width="1.7"/>
<line x1="466.5" y1="484.7" x2="470.7" y2="484.7" stroke="#1c1c1c" stroke-width="1.3"/>
<text x="463.5" y="489.7" font-size="14.5" text-anchor="end" fill="#1c1c1c" stroke="#1c1c1c" stroke-width="0.3">20</text>
<line x1="466.5" y1="436.5" x2="470.7" y2="436.5" stroke="#1c1c1c" stroke-width="1.3"/>
<text x="463.5" y="441.5" font-size="14.5" text-anchor="end" fill="#1c1c1c" stroke="#1c1c1c" stroke-width="0.3">40</text>
<line x1="466.5" y1="388.3" x2="470.7" y2="388.3" stroke="#1c1c1c" stroke-width="1.3"/>
<text x="463.5" y="393.3" font-size="14.5" text-anchor="end" fill="#1c1c1c" stroke="#1c1c1c" stroke-width="0.3">60</text>
<line x1="466.5" y1="340.0" x2="470.7" y2="340.0" stroke="#1c1c1c" stroke-width="1.3"/>
<text x="463.5" y="345.0" font-size="14.5" text-anchor="end" fill="#1c1c1c" stroke="#1c1c1c" stroke-width="0.3">80</text>
<line x1="466.5" y1="291.8" x2="470.7" y2="291.8" stroke="#1c1c1c" stroke-width="1.3"/>
<text x="463.5" y="296.8" font-size="14.5" text-anchor="end" fill="#1c1c1c" stroke="#1c1c1c" stroke-width="0.3">100</text>
<line x1="469.9" y1="484.7" x2="710.5" y2="484.7" stroke="#1c1c1c" stroke-width="1.7"/>
<line x1="531.8" y1="484.7" x2="531.8" y2="489.0" stroke="#1c1c1c" stroke-width="1.3"/>
<line x1="591.3" y1="484.7" x2="591.3" y2="489.0" stroke="#1c1c1c" stroke-width="1.3"/>
<line x1="650.9" y1="484.7" x2="650.9" y2="489.0" stroke="#1c1c1c" stroke-width="1.3"/>
<line x1="710.5" y1="484.7" x2="710.5" y2="489.0" stroke="#1c1c1c" stroke-width="1.3"/>
<path d="M501.4,355.5 L561.5,373.8 L621.1,403.4 L680.7,434.3" stroke="#2b5aa0" stroke-width="1.9" fill="none"/>
<path d="M501.4,335.2 L561.5,371.4 L621.1,392.6 L680.7,421.0" stroke="#e8302e" stroke-width="1.9" fill="none"/>
<line x1="501.4" y1="330.4" x2="501.4" y2="340.0" stroke="#333" stroke-width="1.1"/>
<line x1="499.2" y1="330.4" x2="503.6" y2="330.4" stroke="#333" stroke-width="1.1"/>
<line x1="499.2" y1="340.0" x2="503.6" y2="340.0" stroke="#333" stroke-width="1.1"/>
<line x1="561.5" y1="360.5" x2="561.5" y2="382.2" stroke="#333" stroke-width="1.1"/>
<line x1="559.3" y1="360.5" x2="563.7" y2="360.5" stroke="#333" stroke-width="1.1"/>
<line x1="559.3" y1="382.2" x2="563.7" y2="382.2" stroke="#333" stroke-width="1.1"/>
<line x1="621.1" y1="388.7" x2="621.1" y2="396.5" stroke="#333" stroke-width="1.1"/>
<line x1="618.9" y1="388.7" x2="623.3" y2="388.7" stroke="#333" stroke-width="1.1"/>
<line x1="618.9" y1="396.5" x2="623.3" y2="396.5" stroke="#333" stroke-width="1.1"/>
<line x1="680.7" y1="413.8" x2="680.7" y2="428.3" stroke="#333" stroke-width="1.1"/>
<line x1="678.5" y1="413.8" x2="682.9" y2="413.8" stroke="#333" stroke-width="1.1"/>
<line x1="678.5" y1="428.3" x2="682.9" y2="428.3" stroke="#333" stroke-width="1.1"/>
<line x1="501.4" y1="346.8" x2="501.4" y2="364.1" stroke="#333" stroke-width="1.1"/>
<line x1="499.2" y1="346.8" x2="503.6" y2="346.8" stroke="#333" stroke-width="1.1"/>
<line x1="499.2" y1="364.1" x2="503.6" y2="364.1" stroke="#333" stroke-width="1.1"/>
<line x1="561.5" y1="366.6" x2="561.5" y2="381.0" stroke="#333" stroke-width="1.1"/>
<line x1="559.3" y1="366.6" x2="563.7" y2="366.6" stroke="#333" stroke-width="1.1"/>
<line x1="559.3" y1="381.0" x2="563.7" y2="381.0" stroke="#333" stroke-width="1.1"/>
<line x1="621.1" y1="400.3" x2="621.1" y2="406.6" stroke="#333" stroke-width="1.1"/>
<line x1="618.9" y1="400.3" x2="623.3" y2="400.3" stroke="#333" stroke-width="1.1"/>
<line x1="618.9" y1="406.6" x2="623.3" y2="406.6" stroke="#333" stroke-width="1.1"/>
<line x1="680.7" y1="430.5" x2="680.7" y2="438.2" stroke="#333" stroke-width="1.1"/>
<line x1="678.5" y1="430.5" x2="682.9" y2="430.5" stroke="#333" stroke-width="1.1"/>
<line x1="678.5" y1="438.2" x2="682.9" y2="438.2" stroke="#333" stroke-width="1.1"/>
<rect x="498.70" y="332.52" width="5.40" height="5.40" fill="#e8302e"/>
<rect x="558.80" y="368.68" width="5.40" height="5.40" fill="#e8302e"/>
<rect x="618.40" y="389.90" width="5.40" height="5.40" fill="#e8302e"/>
<rect x="678.00" y="418.35" width="5.40" height="5.40" fill="#e8302e"/>
<rect x="498.70" y="352.77" width="5.40" height="5.40" fill="#2b5aa0"/>
<rect x="558.80" y="371.09" width="5.40" height="5.40" fill="#2b5aa0"/>
<rect x="618.40" y="400.75" width="5.40" height="5.40" fill="#2b5aa0"/>
<rect x="678.00" y="431.61" width="5.40" height="5.40" fill="#2b5aa0"/>
<text x="502.7" y="381.4" font-size="13.5" text-anchor="middle" fill="#1c1c1c" stroke="#1c1c1c" stroke-width="0.3">NS</text>
<text x="560.9" y="400.3" font-size="13.5" text-anchor="middle" fill="#1c1c1c" stroke="#1c1c1c" stroke-width="0.3">NS</text>
<text x="619.3" y="422.9" font-size="13.5" text-anchor="middle" fill="#1c1c1c" stroke="#1c1c1c" stroke-width="0.3">NS</text>
<text x="681.5" y="454.5" font-size="13.5" text-anchor="middle" fill="#1c1c1c" stroke="#1c1c1c" stroke-width="0.3">NS</text>
<text x="505.6" y="501.5" font-size="15.4" text-anchor="middle" fill="#1c1c1c" stroke="#1c1c1c" stroke-width="0.3">30:1</text>
<text x="565.5" y="501.5" font-size="15.4" text-anchor="middle" fill="#1c1c1c" stroke="#1c1c1c" stroke-width="0.3">10:1</text>
<text x="623.5" y="501.5" font-size="15.4" text-anchor="middle" fill="#1c1c1c" stroke="#1c1c1c" stroke-width="0.3">3:1</text>
<text x="685.3" y="501.5" font-size="15.4" text-anchor="middle" fill="#1c1c1c" stroke="#1c1c1c" stroke-width="0.3">1:1</text>
<text x="590.6" y="520.0" font-size="16.6" text-anchor="middle" fill="#1c1c1c" stroke="#1c1c1c" stroke-width="0.3">Effector/Target</text>
<text transform="translate(437.6,387.4) rotate(-90)" font-size="16" text-anchor="middle" fill="#1c1c1c" stroke="#1c1c1c" stroke-width="0.3"><tspan font-size="10.5" dy="-6">51</tspan><tspan dy="6" dx="1">Cr</tspan><tspan dx="3.8"> release (%)</tspan></text>
<line x1="561.3" y1="313.7" x2="588.0" y2="313.7" stroke="#e8302e" stroke-width="1.9"/>
<rect x="572.00" y="311.20" width="5.00" height="5.00" fill="#e8302e"/>
<line x1="561.3" y1="334.4" x2="588.0" y2="334.4" stroke="#2b5aa0" stroke-width="1.9"/>
<rect x="572.00" y="331.90" width="5.00" height="5.00" fill="#2b5aa0"/>
<text x="595.7" y="319.5" font-size="16" text-anchor="start" fill="#1c1c1c" stroke="#1c1c1c" stroke-width="0.3">− Bafilomycin A1</text>
<text x="595.7" y="340.2" font-size="16" text-anchor="start" fill="#1c1c1c" stroke="#1c1c1c" stroke-width="0.3">+ Bafilomycin A1</text>
<text x="6.9" y="560.3" font-size="23.2" text-anchor="start" fill="#1c1c1c" font-weight="bold">d</text>
<text x="56.8" y="579.4" font-size="16.4" text-anchor="start" fill="#1c1c1c" stroke="#1c1c1c" stroke-width="0.3">− PFN + Dextran (T + 5 min)</text>
<line x1="84.5" y1="582.0" x2="84.5" y2="585.6" stroke="#111" stroke-width="2.2"/>
<path d="M80.9,585.2 L88.1,585.2 L84.5,588.6 Z" stroke="#111" stroke-width="0.4" fill="#111"/>
<rect x="58.00" y="590.00" width="248.20" height="57.60" fill="#f2f2f2"/>
<rect x="58.60" y="590.60" width="60.80" height="56.60" fill="#000"/>
<rect x="120.80" y="590.60" width="60.80" height="56.60" fill="#000"/>
<rect x="183.00" y="590.60" width="60.80" height="56.60" fill="#000"/>
<rect x="245.20" y="590.60" width="60.80" height="56.60" fill="#000"/>
<g filter="url(#bl4)">
<circle cx="86.1" cy="615.9" r="5.10" fill="url(#dyel)"/>
<circle cx="79.3" cy="630.8" r="2.90" fill="url(#dgrn2)"/>
<circle cx="96.3" cy="635.1" r="3.20" fill="url(#dgrn)"/>
<circle cx="98.0" cy="647.5" r="2.60" fill="url(#dgrn2)"/>
<circle cx="145.0" cy="610.0" r="5.70" fill="url(#dyel)"/>
<circle cx="152.9" cy="629.5" r="2.70" fill="url(#dgrn2)"/>
<circle cx="165.6" cy="628.6" r="3.60" fill="url(#dgrn)"/>
<circle cx="205.6" cy="609.2" r="5.70" fill="url(#dyel)"/>
<circle cx="216.5" cy="630.5" r="3.30" fill="url(#dgrn)"/>
<circle cx="227.6" cy="627.8" r="3.50" fill="url(#dgrn)"/>
<circle cx="267.2" cy="609.8" r="5.80" fill="url(#dyel2)"/>
<circle cx="264.3" cy="612.2" r="1.10" fill="#e04a20"/>
<circle cx="266.0" cy="613.8" r="0.90" fill="#e85a20"/>
<circle cx="263.6" cy="609.5" r="0.80" fill="#e06020"/>
<circle cx="282.4" cy="637.1" r="2.70" fill="url(#dgrn)"/>
<circle cx="285.2" cy="634.2" r="2.70" fill="url(#dgrn)"/>
<circle cx="288.0" cy="631.2" r="2.70" fill="url(#dgrn)"/>
</g>
<line x1="61.6" y1="640.6" x2="100.1" y2="640.6" stroke="#fff" stroke-width="1.6"/>
<text x="151.2" y="661.4" font-size="15" text-anchor="middle" fill="#1c1c1c" stroke="#1c1c1c" stroke-width="0.3">+ 1 min</text>
<text x="213.4" y="661.4" font-size="15" text-anchor="middle" fill="#1c1c1c" stroke="#1c1c1c" stroke-width="0.3">+ 2 min</text>
<text x="275.6" y="661.4" font-size="15" text-anchor="middle" fill="#1c1c1c" stroke="#1c1c1c" stroke-width="0.3">+ 4 min</text>
<rect x="308.30" y="592.00" width="5.50" height="19.80" fill="url(#cbr)"/>
<rect x="308.30" y="622.80" width="5.50" height="20.90" fill="url(#cbg)"/>
<text x="316.0" y="600.3" font-size="12.3" text-anchor="start" fill="#1c1c1c" stroke="#1c1c1c" stroke-width="0.3">3600</text>
<text x="316.0" y="613.0" font-size="12.3" text-anchor="start" fill="#1c1c1c" stroke="#1c1c1c" stroke-width="0.3">2400</text>
<text x="316.0" y="630.3" font-size="12.3" text-anchor="start" fill="#1c1c1c" stroke="#1c1c1c" stroke-width="0.3">8000</text>
<text x="316.0" y="643.2" font-size="12.3" text-anchor="start" fill="#1c1c1c" stroke="#1c1c1c" stroke-width="0.3">3000</text>
<text x="56.8" y="685.5" font-size="16.4" text-anchor="start" fill="#1c1c1c" stroke="#1c1c1c" stroke-width="0.3">+ PFN + Dextran (T + 5min)</text>
<line x1="84.5" y1="689.4" x2="84.5" y2="692.2" stroke="#111" stroke-width="2.2"/>
<path d="M80.9,691.8000000000001 L88.1,691.8000000000001 L84.5,695.2 Z" stroke="#111" stroke-width="0.4" fill="#111"/>
<rect x="58.00" y="695.80" width="248.20" height="57.00" fill="#f2f2f2"/>
<rect x="58.60" y="696.40" width="60.80" height="56.20" fill="#000"/>
<rect x="120.80" y="696.40" width="60.80" height="56.20" fill="#000"/>
<rect x="183.00" y="696.40" width="60.80" height="56.20" fill="#000"/>
<rect x="245.20" y="696.40" width="60.80" height="56.20" fill="#000"/>
<g filter="url(#bl6)">
<ellipse cx="90.3" cy="724.7" rx="12.60" ry="11.30" fill="url(#dring)"/>
<ellipse cx="96.8" cy="728.9" rx="3.40" ry="2.40" fill="#e0b830"/>
<ellipse cx="91.3" cy="731.3" rx="4.80" ry="1.90" fill="#b8c83a"/>
<ellipse cx="84.1" cy="728.7" rx="2.20" ry="2.60" fill="#a8c83c"/>
<ellipse cx="88.3" cy="718.2" rx="3.00" ry="1.50" fill="#90c83c"/>
<ellipse cx="90.3" cy="724.7" rx="7.60" ry="6.40" fill="#e83228"/>
<circle cx="89.1" cy="726.7" r="1.03" fill="#d02820"/>
<circle cx="91.2" cy="723.1" r="0.99" fill="#c01c18"/>
<circle cx="90.7" cy="726.3" r="0.91" fill="#d02820"/>
<circle cx="94.1" cy="726.7" r="1.11" fill="#d02820"/>
<circle cx="95.4" cy="723.2" r="0.99" fill="#d02820"/>
<circle cx="86.5" cy="723.0" r="1.19" fill="#d02820"/>
</g>
<circle cx="88.5" cy="725.5" r="1.00" fill="#801010"/>
<g filter="url(#bl6)">
<ellipse cx="151.9" cy="724.6" rx="11.80" ry="11.00" fill="url(#dring)"/>
<ellipse cx="153.9" cy="731.1" rx="3.00" ry="1.60" fill="#c8c040"/>
<ellipse cx="151.9" cy="724.6" rx="7.00" ry="6.30" fill="#e63228"/>
<circle cx="149.7" cy="723.9" r="0.91" fill="#a01414"/>
<circle cx="154.5" cy="726.7" r="1.11" fill="#c82020"/>
<circle cx="155.7" cy="727.2" r="0.79" fill="#c82020"/>
<circle cx="150.4" cy="724.2" r="0.73" fill="#c82020"/>
<circle cx="147.3" cy="724.7" r="1.09" fill="#f04a30"/>
<circle cx="148.3" cy="722.6" r="0.85" fill="#c82020"/>
<circle cx="150.9" cy="721.9" r="0.99" fill="#a01414"/>
<circle cx="148.2" cy="724.7" r="0.92" fill="#a01414"/>
<circle cx="154.0" cy="724.4" r="0.91" fill="#f04a30"/>
<circle cx="154.4" cy="727.8" r="0.72" fill="#a01414"/>
</g>
<g filter="url(#bl6)">
<ellipse cx="212.0" cy="724.3" rx="11.80" ry="11.30" fill="url(#dring)"/>
<ellipse cx="212.0" cy="724.3" rx="7.00" ry="6.80" fill="#d8262a"/>
<circle cx="216.2" cy="726.4" r="1.09" fill="#901010"/>
<circle cx="210.0" cy="727.4" r="0.95" fill="#901010"/>
<circle cx="213.8" cy="725.1" r="0.83" fill="#ff5040"/>
<circle cx="211.2" cy="723.0" r="1.05" fill="#ff5040"/>
<circle cx="207.4" cy="721.9" r="0.92" fill="#ff5040"/>
<circle cx="208.1" cy="727.6" r="0.71" fill="#901010"/>
<circle cx="209.0" cy="728.1" r="0.95" fill="#ff3a3a"/>
<circle cx="212.3" cy="722.1" r="0.82" fill="#901010"/>
<circle cx="215.8" cy="722.1" r="0.78" fill="#901010"/>
<circle cx="206.4" cy="722.5" r="1.11" fill="#ff5040"/>
<circle cx="211.3" cy="728.2" r="0.88" fill="#901010"/>
<circle cx="214.4" cy="723.7" r="0.79" fill="#ff3a3a"/>
<circle cx="211.6" cy="723.7" r="1.12" fill="#ff3a3a"/>
<circle cx="212.0" cy="724.7" r="0.91" fill="#901010"/>
<circle cx="209.3" cy="722.1" r="0.76" fill="#ff5040"/>
<circle cx="216.9" cy="722.8" r="1.07" fill="#901010"/>
<circle cx="216.5" cy="721.1" r="1.14" fill="#ff5040"/>
<circle cx="208.9" cy="726.7" r="0.75" fill="#ff5040"/>
<circle cx="209.8" cy="725.9" r="1.19" fill="#901010"/>
<circle cx="213.9" cy="727.3" r="0.73" fill="#ff3a3a"/>
<circle cx="207.8" cy="722.5" r="1.17" fill="#ff5040"/>
<circle cx="217.8" cy="725.2" r="1.01" fill="#ff3a3a"/>
<circle cx="207.9" cy="719.8" r="1.00" fill="#901010"/>
<circle cx="216.2" cy="728.2" r="1.20" fill="#901010"/>
<circle cx="208.5" cy="724.7" r="0.77" fill="#ff5040"/>
<circle cx="210.2" cy="726.9" r="1.11" fill="#ff3a3a"/>
</g>
<g filter="url(#bl6)">
<ellipse cx="273.7" cy="724.0" rx="11.80" ry="11.40" fill="url(#dring)"/>
<ellipse cx="273.7" cy="724.0" rx="7.20" ry="7.00" fill="#5c0c10"/>
<circle cx="270.8" cy="723.7" r="1.18" fill="#400808"/>
<circle cx="276.6" cy="727.7" r="0.71" fill="#c02020"/>
<circle cx="272.2" cy="728.8" r="0.75" fill="#400808"/>
<circle cx="267.6" cy="723.3" r="0.88" fill="#a01818"/>
<circle cx="268.1" cy="722.9" r="0.86" fill="#a01818"/>
<circle cx="269.3" cy="720.3" r="1.08" fill="#a01818"/>
<circle cx="275.7" cy="718.7" r="1.07" fill="#a01818"/>
<circle cx="275.1" cy="728.2" r="1.07" fill="#a01818"/>
<circle cx="274.8" cy="719.8" r="0.80" fill="#c02020"/>
<circle cx="277.9" cy="722.9" r="1.17" fill="#400808"/>
<circle cx="277.5" cy="722.9" r="0.81" fill="#a01818"/>
<circle cx="270.0" cy="724.7" r="0.94" fill="#c02020"/>
<circle cx="276.1" cy="720.3" r="1.03" fill="#c02020"/>
<circle cx="278.2" cy="726.6" r="1.15" fill="#c02020"/>
<circle cx="273.7" cy="719.6" r="0.79" fill="#c02020"/>
<circle cx="270.8" cy="728.9" r="1.19" fill="#400808"/>
<circle cx="268.3" cy="725.2" r="0.74" fill="#a01818"/>
<circle cx="274.8" cy="726.0" r="0.78" fill="#400808"/>
<circle cx="274.6" cy="721.7" r="1.11" fill="#400808"/>
<circle cx="271.6" cy="720.9" r="0.97" fill="#a01818"/>
<circle cx="279.4" cy="724.8" r="1.06" fill="#a01818"/>
<circle cx="267.5" cy="723.0" r="0.92" fill="#a01818"/>
<circle cx="275.1" cy="721.4" r="0.83" fill="#400808"/>
<circle cx="268.0" cy="724.0" r="0.86" fill="#c02020"/>
<circle cx="271.7" cy="725.1" r="1.16" fill="#400808"/>
<circle cx="277.9" cy="720.9" r="1.11" fill="#c02020"/>
</g>
<g filter="url(#bl4)">
<circle cx="257.1" cy="717.4" r="2.40" fill="url(#dgrn)"/>
<circle cx="247.6" cy="741.0" r="3.00" fill="url(#dgrn)"/>
<circle cx="184.0" cy="741.5" r="2.60" fill="url(#dgrn)"/>
<circle cx="88.0" cy="752.3" r="2.20" fill="url(#dgrn2)"/>
</g>
<line x1="62.6" y1="747.7" x2="83.7" y2="747.7" stroke="#fff" stroke-width="1.6"/>
<text x="151.2" y="766.6" font-size="15" text-anchor="middle" fill="#1c1c1c" stroke="#1c1c1c" stroke-width="0.3">+ 1 min</text>
<text x="213.4" y="766.6" font-size="15" text-anchor="middle" fill="#1c1c1c" stroke="#1c1c1c" stroke-width="0.3">+ 2 min</text>
<text x="275.6" y="766.6" font-size="15" text-anchor="middle" fill="#1c1c1c" stroke="#1c1c1c" stroke-width="0.3">+ 4 min</text>
<rect x="308.30" y="699.50" width="5.50" height="19.80" fill="url(#cbr)"/>
<rect x="308.30" y="729.90" width="5.50" height="19.00" fill="url(#cbg)"/>
<text x="317.5" y="707.3" font-size="12.3" text-anchor="start" fill="#1c1c1c" stroke="#1c1c1c" stroke-width="0.3">2900</text>
<text x="317.5" y="720.8" font-size="12.3" text-anchor="start" fill="#1c1c1c" stroke="#1c1c1c" stroke-width="0.3">2400</text>
<text x="317.5" y="738.5" font-size="12.3" text-anchor="start" fill="#1c1c1c" stroke="#1c1c1c" stroke-width="0.3">8000</text>
<text x="317.5" y="751.0" font-size="12.3" text-anchor="start" fill="#1c1c1c" stroke="#1c1c1c" stroke-width="0.3">3000</text>
<text transform="translate(25.6,664.2) rotate(-90)" x="0" y="0" font-size="16" text-anchor="middle" fill="#e8242a" stroke="#e8242a" stroke-width="0.3">pHrodo-dextran</text>
<text transform="translate(45.1,665.5) rotate(-90)" x="0" y="0" font-size="16" text-anchor="middle" fill="#1d7040" stroke="#1d7040" stroke-width="0.3">EGFP-EEA-1</text>
<text x="6.0" y="775.9" font-size="23.5" text-anchor="start" fill="#1c1c1c" font-weight="bold">e</text>
<text x="56.8" y="798.4" font-size="16.4" text-anchor="start" fill="#1c1c1c" stroke="#1c1c1c" stroke-width="0.3">− PFN + Dextran (T + 5 min)</text>
<line x1="83.2" y1="800.9" x2="83.2" y2="803.6" stroke="#111" stroke-width="2.2"/>
<path d="M79.60000000000001,803.2 L86.8,803.2 L83.2,806.6 Z" stroke="#111" stroke-width="0.4" fill="#111"/>
<rect x="58.00" y="808.20" width="248.20" height="58.20" fill="#eeeeff"/>
<rect x="58.00" y="891.60" width="248.20" height="57.40" fill="#eeeeff"/>
<rect x="58.60" y="808.80" width="60.80" height="57.30" fill="#2d2d95"/>
<rect x="58.60" y="892.20" width="60.80" height="56.50" fill="#2d2d95"/>
<rect x="120.80" y="808.80" width="60.80" height="57.30" fill="#2d2d95"/>
<rect x="120.80" y="892.20" width="60.80" height="56.50" fill="#2d2d95"/>
<rect x="183.00" y="808.80" width="60.80" height="57.30" fill="#2d2d95"/>
<rect x="183.00" y="892.20" width="60.80" height="56.50" fill="#2d2d95"/>
<rect x="245.20" y="808.80" width="60.80" height="57.30" fill="#2d2d95"/>
<rect x="245.20" y="892.20" width="60.80" height="56.50" fill="#2d2d95"/>
<rect x="83.67" y="860.28" width="1.20" height="1.20" fill="#4a5ac8" stroke=" opacity="0.6"" stroke-width="0"/>
<rect x="90.30" y="838.17" width="1.20" height="1.20" fill="#4a5ac8" stroke=" opacity="0.6"" stroke-width="0"/>
<rect x="110.62" y="852.36" width="1.20" height="1.20" fill="#4a5ac8" stroke=" opacity="0.6"" stroke-width="0"/>
<rect x="104.85" y="817.20" width="1.20" height="1.20" fill="#4a5ac8" stroke=" opacity="0.6"" stroke-width="0"/>
<rect x="86.82" y="849.48" width="1.20" height="1.20" fill="#4a5ac8" stroke=" opacity="0.6"" stroke-width="0"/>
<rect x="78.03" y="920.86" width="1.20" height="1.20" fill="#3c50c0" stroke=" opacity="0.6"" stroke-width="0"/>
<rect x="87.36" y="935.14" width="1.20" height="1.20" fill="#3c50c0" stroke=" opacity="0.6"" stroke-width="0"/>
<rect x="61.99" y="902.78" width="1.20" height="1.20" fill="#4a6ad0" stroke=" opacity="0.6"" stroke-width="0"/>
<rect x="104.63" y="920.28" width="1.20" height="1.20" fill="#3c50c0" stroke=" opacity="0.6"" stroke-width="0"/>
<rect x="60.26" y="941.64" width="1.20" height="1.20" fill="#4a6ad0" stroke=" opacity="0.6"" stroke-width="0"/>
<rect x="85.02" y="926.07" width="1.20" height="1.20" fill="#3c50c0" stroke=" opacity="0.6"" stroke-width="0"/>
<rect x="94.73" y="903.23" width="1.20" height="1.20" fill="#5a7ad0" stroke=" opacity="0.6"" stroke-width="0"/>
<rect x="85.56" y="921.69" width="1.20" height="1.20" fill="#5a7ad0" stroke=" opacity="0.6"" stroke-width="0"/>
<rect x="88.86" y="905.90" width="1.20" height="1.20" fill="#3c50c0" stroke=" opacity="0.6"" stroke-width="0"/>
<rect x="110.84" y="944.30" width="1.20" height="1.20" fill="#5a7ad0" stroke=" opacity="0.6"" stroke-width="0"/>
<rect x="113.60" y="941.57" width="1.20" height="1.20" fill="#4a6ad0" stroke=" opacity="0.6"" stroke-width="0"/>
<rect x="108.66" y="899.78" width="1.20" height="1.20" fill="#4a6ad0" stroke=" opacity="0.6"" stroke-width="0"/>
<rect x="81.98" y="909.67" width="1.20" height="1.20" fill="#3c50c0" stroke=" opacity="0.6"" stroke-width="0"/>
<rect x="72.94" y="896.24" width="1.20" height="1.20" fill="#3c50c0" stroke=" opacity="0.6"" stroke-width="0"/>
<rect x="76.65" y="898.97" width="1.20" height="1.20" fill="#4a6ad0" stroke=" opacity="0.6"" stroke-width="0"/>
<rect x="114.59" y="927.78" width="1.20" height="1.20" fill="#5a7ad0" stroke=" opacity="0.6"" stroke-width="0"/>
<rect x="67.12" y="941.02" width="1.20" height="1.20" fill="#5a7ad0" stroke=" opacity="0.6"" stroke-width="0"/>
<rect x="71.69" y="944.87" width="1.20" height="1.20" fill="#5a7ad0" stroke=" opacity="0.6"" stroke-width="0"/>
<rect x="111.34" y="901.20" width="1.20" height="1.20" fill="#3c50c0" stroke=" opacity="0.6"" stroke-width="0"/>
<rect x="108.21" y="901.13" width="1.20" height="1.20" fill="#5a7ad0" stroke=" opacity="0.6"" stroke-width="0"/>
<rect x="117.85" y="914.53" width="1.20" height="1.20" fill="#5a7ad0" stroke=" opacity="0.6"" stroke-width="0"/>
<rect x="70.27" y="909.81" width="1.20" height="1.20" fill="#3c50c0" stroke=" opacity="0.6"" stroke-width="0"/>
<rect x="142.61" y="827.76" width="1.20" height="1.20" fill="#3c4cc0" stroke=" opacity="0.6"" stroke-width="0"/>
<rect x="147.05" y="809.81" width="1.20" height="1.20" fill="#3c4cc0" stroke=" opacity="0.6"" stroke-width="0"/>
<rect x="151.64" y="825.37" width="1.20" height="1.20" fill="#4a5ac8" stroke=" opacity="0.6"" stroke-width="0"/>
<rect x="127.53" y="860.33" width="1.20" height="1.20" fill="#4a5ac8" stroke=" opacity="0.6"" stroke-width="0"/>
<rect x="178.71" y="814.68" width="1.20" height="1.20" fill="#3c4cc0" stroke=" opacity="0.6"" stroke-width="0"/>
<rect x="137.01" y="942.30" width="1.20" height="1.20" fill="#4a6ad0" stroke=" opacity="0.6"" stroke-width="0"/>
<rect x="136.92" y="899.36" width="1.20" height="1.20" fill="#5a7ad0" stroke=" opacity="0.6"" stroke-width="0"/>
<rect x="171.44" y="929.58" width="1.20" height="1.20" fill="#5a7ad0" stroke=" opacity="0.6"" stroke-width="0"/>
<rect x="144.99" y="921.87" width="1.20" height="1.20" fill="#3c50c0" stroke=" opacity="0.6"" stroke-width="0"/>
<rect x="154.81" y="930.93" width="1.20" height="1.20" fill="#4a6ad0" stroke=" opacity="0.6"" stroke-width="0"/>
<rect x="137.43" y="936.42" width="1.20" height="1.20" fill="#4a6ad0" stroke=" opacity="0.6"" stroke-width="0"/>
<rect x="146.15" y="896.20" width="1.20" height="1.20" fill="#4a6ad0" stroke=" opacity="0.6"" stroke-width="0"/>
<rect x="158.61" y="936.53" width="1.20" height="1.20" fill="#4a6ad0" stroke=" opacity="0.6"" stroke-width="0"/>
<rect x="157.05" y="904.50" width="1.20" height="1.20" fill="#5a7ad0" stroke=" opacity="0.6"" stroke-width="0"/>
<rect x="172.22" y="917.29" width="1.20" height="1.20" fill="#5a7ad0" stroke=" opacity="0.6"" stroke-width="0"/>
<rect x="180.06" y="915.30" width="1.20" height="1.20" fill="#5a7ad0" stroke=" opacity="0.6"" stroke-width="0"/>
<rect x="157.85" y="894.59" width="1.20" height="1.20" fill="#3c50c0" stroke=" opacity="0.6"" stroke-width="0"/>
<rect x="135.01" y="898.25" width="1.20" height="1.20" fill="#4a6ad0" stroke=" opacity="0.6"" stroke-width="0"/>
<rect x="136.41" y="902.22" width="1.20" height="1.20" fill="#5a7ad0" stroke=" opacity="0.6"" stroke-width="0"/>
<rect x="158.27" y="921.57" width="1.20" height="1.20" fill="#4a6ad0" stroke=" opacity="0.6"" stroke-width="0"/>
<rect x="138.08" y="919.85" width="1.20" height="1.20" fill="#4a6ad0" stroke=" opacity="0.6"" stroke-width="0"/>
<rect x="136.92" y="936.64" width="1.20" height="1.20" fill="#5a7ad0" stroke=" opacity="0.6"" stroke-width="0"/>
<rect x="123.00" y="893.22" width="1.20" height="1.20" fill="#3c50c0" stroke=" opacity="0.6"" stroke-width="0"/>
<rect x="153.64" y="902.68" width="1.20" height="1.20" fill="#5a7ad0" stroke=" opacity="0.6"" stroke-width="0"/>
<rect x="135.44" y="916.92" width="1.20" height="1.20" fill="#3c50c0" stroke=" opacity="0.6"" stroke-width="0"/>
<rect x="169.61" y="916.10" width="1.20" height="1.20" fill="#5a7ad0" stroke=" opacity="0.6"" stroke-width="0"/>
<rect x="153.34" y="941.35" width="1.20" height="1.20" fill="#3c50c0" stroke=" opacity="0.6"" stroke-width="0"/>
<rect x="201.34" y="820.87" width="1.20" height="1.20" fill="#4a5ac8" stroke=" opacity="0.6"" stroke-width="0"/>
<rect x="203.43" y="855.49" width="1.20" height="1.20" fill="#4a5ac8" stroke=" opacity="0.6"" stroke-width="0"/>
<rect x="207.12" y="828.30" width="1.20" height="1.20" fill="#4a5ac8" stroke=" opacity="0.6"" stroke-width="0"/>
<rect x="232.88" y="809.60" width="1.20" height="1.20" fill="#3c4cc0" stroke=" opacity="0.6"" stroke-width="0"/>
<rect x="208.67" y="811.91" width="1.20" height="1.20" fill="#3c4cc0" stroke=" opacity="0.6"" stroke-width="0"/>
<rect x="234.88" y="929.28" width="1.20" height="1.20" fill="#5a7ad0" stroke=" opacity="0.6"" stroke-width="0"/>
<rect x="218.69" y="930.51" width="1.20" height="1.20" fill="#4a6ad0" stroke=" opacity="0.6"" stroke-width="0"/>
<rect x="210.38" y="900.91" width="1.20" height="1.20" fill="#5a7ad0" stroke=" opacity="0.6"" stroke-width="0"/>
<rect x="183.22" y="912.34" width="1.20" height="1.20" fill="#5a7ad0" stroke=" opacity="0.6"" stroke-width="0"/>
<rect x="240.97" y="922.45" width="1.20" height="1.20" fill="#4a6ad0" stroke=" opacity="0.6"" stroke-width="0"/>
<rect x="185.05" y="941.00" width="1.20" height="1.20" fill="#4a6ad0" stroke=" opacity="0.6"" stroke-width="0"/>
<rect x="204.25" y="892.26" width="1.20" height="1.20" fill="#5a7ad0" stroke=" opacity="0.6"" stroke-width="0"/>
<rect x="188.00" y="907.62" width="1.20" height="1.20" fill="#3c50c0" stroke=" opacity="0.6"" stroke-width="0"/>
<rect x="194.98" y="920.11" width="1.20" height="1.20" fill="#4a6ad0" stroke=" opacity="0.6"" stroke-width="0"/>
<rect x="188.41" y="937.38" width="1.20" height="1.20" fill="#4a6ad0" stroke=" opacity="0.6"" stroke-width="0"/>
<rect x="206.81" y="894.50" width="1.20" height="1.20" fill="#4a6ad0" stroke=" opacity="0.6"" stroke-width="0"/>
<rect x="200.86" y="927.02" width="1.20" height="1.20" fill="#4a6ad0" stroke=" opacity="0.6"" stroke-width="0"/>
<rect x="217.90" y="921.46" width="1.20" height="1.20" fill="#4a6ad0" stroke=" opacity="0.6"" stroke-width="0"/>
<rect x="222.19" y="931.79" width="1.20" height="1.20" fill="#3c50c0" stroke=" opacity="0.6"" stroke-width="0"/>
<rect x="206.22" y="910.24" width="1.20" height="1.20" fill="#5a7ad0" stroke=" opacity="0.6"" stroke-width="0"/>
<rect x="191.91" y="932.25" width="1.20" height="1.20" fill="#3c50c0" stroke=" opacity="0.6"" stroke-width="0"/>
<rect x="191.63" y="937.81" width="1.20" height="1.20" fill="#3c50c0" stroke=" opacity="0.6"" stroke-width="0"/>
<rect x="236.16" y="926.89" width="1.20" height="1.20" fill="#3c50c0" stroke=" opacity="0.6"" stroke-width="0"/>
<rect x="224.78" y="920.16" width="1.20" height="1.20" fill="#3c50c0" stroke=" opacity="0.6"" stroke-width="0"/>
<rect x="227.87" y="923.64" width="1.20" height="1.20" fill="#4a6ad0" stroke=" opacity="0.6"" stroke-width="0"/>
<rect x="232.25" y="924.50" width="1.20" height="1.20" fill="#3c50c0" stroke=" opacity="0.6"" stroke-width="0"/>
<rect x="223.70" y="930.54" width="1.20" height="1.20" fill="#4a6ad0" stroke=" opacity="0.6"" stroke-width="0"/>
<rect x="250.27" y="811.15" width="1.20" height="1.20" fill="#3c4cc0" stroke=" opacity="0.6"" stroke-width="0"/>
<rect x="302.39" y="829.93" width="1.20" height="1.20" fill="#3c4cc0" stroke=" opacity="0.6"" stroke-width="0"/>
<rect x="278.49" y="844.02" width="1.20" height="1.20" fill="#4a5ac8" stroke=" opacity="0.6"" stroke-width="0"/>
<rect x="274.36" y="808.99" width="1.20" height="1.20" fill="#4a5ac8" stroke=" opacity="0.6"" stroke-width="0"/>
<rect x="289.80" y="837.02" width="1.20" height="1.20" fill="#4a5ac8" stroke=" opacity="0.6"" stroke-width="0"/>
<rect x="284.49" y="895.85" width="1.20" height="1.20" fill="#3c50c0" stroke=" opacity="0.6"" stroke-width="0"/>
<rect x="273.44" y="936.95" width="1.20" height="1.20" fill="#5a7ad0" stroke=" opacity="0.6"" stroke-width="0"/>
<rect x="259.19" y="934.03" width="1.20" height="1.20" fill="#4a6ad0" stroke=" opacity="0.6"" stroke-width="0"/>
<rect x="289.29" y="946.16" width="1.20" height="1.20" fill="#5a7ad0" stroke=" opacity="0.6"" stroke-width="0"/>
<rect x="295.59" y="896.44" width="1.20" height="1.20" fill="#3c50c0" stroke=" opacity="0.6"" stroke-width="0"/>
<rect x="262.32" y="894.79" width="1.20" height="1.20" fill="#3c50c0" stroke=" opacity="0.6"" stroke-width="0"/>
<rect x="283.51" y="896.48" width="1.20" height="1.20" fill="#4a6ad0" stroke=" opacity="0.6"" stroke-width="0"/>
<rect x="264.97" y="928.23" width="1.20" height="1.20" fill="#3c50c0" stroke=" opacity="0.6"" stroke-width="0"/>
<rect x="263.34" y="923.60" width="1.20" height="1.20" fill="#4a6ad0" stroke=" opacity="0.6"" stroke-width="0"/>
<rect x="273.95" y="919.06" width="1.20" height="1.20" fill="#3c50c0" stroke=" opacity="0.6"" stroke-width="0"/>
<rect x="251.13" y="904.24" width="1.20" height="1.20" fill="#5a7ad0" stroke=" opacity="0.6"" stroke-width="0"/>
<rect x="262.54" y="920.76" width="1.20" height="1.20" fill="#5a7ad0" stroke=" opacity="0.6"" stroke-width="0"/>
<rect x="272.97" y="934.62" width="1.20" height="1.20" fill="#3c50c0" stroke=" opacity="0.6"" stroke-width="0"/>
<rect x="257.08" y="946.29" width="1.20" height="1.20" fill="#5a7ad0" stroke=" opacity="0.6"" stroke-width="0"/>
<rect x="246.24" y="917.58" width="1.20" height="1.20" fill="#3c50c0" stroke=" opacity="0.6"" stroke-width="0"/>
<rect x="302.90" y="917.05" width="1.20" height="1.20" fill="#5a7ad0" stroke=" opacity="0.6"" stroke-width="0"/>
<rect x="268.26" y="942.89" width="1.20" height="1.20" fill="#4a6ad0" stroke=" opacity="0.6"" stroke-width="0"/>
<rect x="249.65" y="897.19" width="1.20" height="1.20" fill="#3c50c0" stroke=" opacity="0.6"" stroke-width="0"/>
<rect x="276.43" y="944.89" width="1.20" height="1.20" fill="#4a6ad0" stroke=" opacity="0.6"" stroke-width="0"/>
<rect x="281.16" y="927.13" width="1.20" height="1.20" fill="#5a7ad0" stroke=" opacity="0.6"" stroke-width="0"/>
<rect x="298.06" y="931.09" width="1.20" height="1.20" fill="#4a6ad0" stroke=" opacity="0.6"" stroke-width="0"/>
<rect x="274.87" y="940.65" width="1.20" height="1.20" fill="#5a7ad0" stroke=" opacity="0.6"" stroke-width="0"/>
<g filter="url(#bl4)">
<rect x="84.50" y="829.80" width="1.15" height="1.15" fill="#2ea85a"/>
<rect x="87.50" y="829.80" width="1.15" height="1.15" fill="#2ea85a"/>
<rect x="82.50" y="830.80" width="1.15" height="1.15" fill="#2ea85a"/>
<rect x="83.50" y="830.80" width="1.15" height="1.15" fill="#2eac46"/>
<rect x="84.50" y="830.80" width="1.15" height="1.15" fill="#2aa444"/>
<rect x="85.50" y="830.80" width="1.15" height="1.15" fill="#30b048"/>
<rect x="86.50" y="830.80" width="1.15" height="1.15" fill="#36b84e"/>
<rect x="87.50" y="830.80" width="1.15" height="1.15" fill="#2ea85a"/>
<rect x="88.50" y="830.80" width="1.15" height="1.15" fill="#2ea85a"/>
<rect x="82.50" y="831.80" width="1.15" height="1.15" fill="#2a9a70"/>
<rect x="83.50" y="831.80" width="1.15" height="1.15" fill="#2aa444"/>
<rect x="84.50" y="831.80" width="1.15" height="1.15" fill="#c01410"/>
<rect x="85.50" y="831.80" width="1.15" height="1.15" fill="#36b84e"/>
<rect x="86.50" y="831.80" width="1.15" height="1.15" fill="#d42014"/>
<rect x="87.50" y="831.80" width="1.15" height="1.15" fill="#30b048"/>
<rect x="82.50" y="832.80" width="1.15" height="1.15" fill="#2a9a70"/>
<rect x="83.50" y="832.80" width="1.15" height="1.15" fill="#e06a1a"/>
<rect x="84.50" y="832.80" width="1.15" height="1.15" fill="#d83a14"/>
<rect x="85.50" y="832.80" width="1.15" height="1.15" fill="#d83a14"/>
<rect x="86.50" y="832.80" width="1.15" height="1.15" fill="#d42014"/>
<rect x="87.50" y="832.80" width="1.15" height="1.15" fill="#d42014"/>
<rect x="88.50" y="832.80" width="1.15" height="1.15" fill="#c8c02a"/>
<rect x="82.50" y="833.80" width="1.15" height="1.15" fill="#2a9a70"/>
<rect x="83.50" y="833.80" width="1.15" height="1.15" fill="#d83a14"/>
<rect x="84.50" y="833.80" width="1.15" height="1.15" fill="#c01410"/>
<rect x="85.50" y="833.80" width="1.15" height="1.15" fill="#c81810"/>
<rect x="86.50" y="833.80" width="1.15" height="1.15" fill="#e06a1a"/>
<rect x="87.50" y="833.80" width="1.15" height="1.15" fill="#d42014"/>
<rect x="88.50" y="833.80" width="1.15" height="1.15" fill="#2aa444"/>
<rect x="89.50" y="833.80" width="1.15" height="1.15" fill="#2a9a70"/>
<rect x="82.50" y="834.80" width="1.15" height="1.15" fill="#2eac46"/>
<rect x="83.50" y="834.80" width="1.15" height="1.15" fill="#2aa444"/>
<rect x="84.50" y="834.80" width="1.15" height="1.15" fill="#c81810"/>
<rect x="85.50" y="834.80" width="1.15" height="1.15" fill="#d83a14"/>
<rect x="86.50" y="834.80" width="1.15" height="1.15" fill="#d42014"/>
<rect x="87.50" y="834.80" width="1.15" height="1.15" fill="#e06a1a"/>
<rect x="88.50" y="834.80" width="1.15" height="1.15" fill="#2eac46"/>
<rect x="89.50" y="834.80" width="1.15" height="1.15" fill="#3aa890"/>
<rect x="81.50" y="835.80" width="1.15" height="1.15" fill="#30b04c"/>
<rect x="82.50" y="835.80" width="1.15" height="1.15" fill="#30b04c"/>
<rect x="83.50" y="835.80" width="1.15" height="1.15" fill="#30b048"/>
<rect x="84.50" y="835.80" width="1.15" height="1.15" fill="#c01410"/>
<rect x="85.50" y="835.80" width="1.15" height="1.15" fill="#d83a14"/>
<rect x="86.50" y="835.80" width="1.15" height="1.15" fill="#d83a14"/>
<rect x="87.50" y="835.80" width="1.15" height="1.15" fill="#30b048"/>
<rect x="88.50" y="835.80" width="1.15" height="1.15" fill="#3aa890"/>
<rect x="82.50" y="836.80" width="1.15" height="1.15" fill="#2ea85a"/>
<rect x="83.50" y="836.80" width="1.15" height="1.15" fill="#c8c02a"/>
<rect x="84.50" y="836.80" width="1.15" height="1.15" fill="#3aa890"/>
<rect x="85.50" y="836.80" width="1.15" height="1.15" fill="#2eac46"/>
<rect x="86.50" y="836.80" width="1.15" height="1.15" fill="#2a9a70"/>
<rect x="87.50" y="836.80" width="1.15" height="1.15" fill="#2a9a70"/>
<rect x="88.50" y="836.80" width="1.15" height="1.15" fill="#c8c02a"/>
<rect x="83.50" y="837.80" width="1.15" height="1.15" fill="#2ea85a"/>
</g>
<rect x="80.40" y="835.14" width="1.20" height="1.20" fill="#4a6ad0" stroke=" opacity="0.6"" stroke-width="0"/>
<rect x="86.25" y="826.91" width="1.20" height="1.20" fill="#4a6ad0" stroke=" opacity="0.6"" stroke-width="0"/>
<rect x="88.68" y="839.65" width="1.20" height="1.20" fill="#3e5ac8" stroke=" opacity="0.6"" stroke-width="0"/>
<rect x="76.13" y="831.91" width="1.20" height="1.20" fill="#5a86d8" stroke=" opacity="0.6"" stroke-width="0"/>
<g filter="url(#bl4)">
<rect x="139.80" y="824.80" width="1.15" height="1.15" fill="#30b04c"/>
<rect x="140.80" y="824.80" width="1.15" height="1.15" fill="#c8c02a"/>
<rect x="141.80" y="824.80" width="1.15" height="1.15" fill="#2ea85a"/>
<rect x="142.80" y="824.80" width="1.15" height="1.15" fill="#2ea85a"/>
<rect x="143.80" y="824.80" width="1.15" height="1.15" fill="#c8c02a"/>
<rect x="139.80" y="825.80" width="1.15" height="1.15" fill="#2aa444"/>
<rect x="140.80" y="825.80" width="1.15" height="1.15" fill="#2eac46"/>
<rect x="141.80" y="825.80" width="1.15" height="1.15" fill="#e06a1a"/>
<rect x="142.80" y="825.80" width="1.15" height="1.15" fill="#c81810"/>
<rect x="143.80" y="825.80" width="1.15" height="1.15" fill="#30b048"/>
<rect x="144.80" y="825.80" width="1.15" height="1.15" fill="#2aa444"/>
<rect x="139.80" y="826.80" width="1.15" height="1.15" fill="#30b048"/>
<rect x="140.80" y="826.80" width="1.15" height="1.15" fill="#c01410"/>
<rect x="141.80" y="826.80" width="1.15" height="1.15" fill="#d83a14"/>
<rect x="142.80" y="826.80" width="1.15" height="1.15" fill="#d83a14"/>
<rect x="143.80" y="826.80" width="1.15" height="1.15" fill="#d42014"/>
<rect x="144.80" y="826.80" width="1.15" height="1.15" fill="#e06a1a"/>
<rect x="145.80" y="826.80" width="1.15" height="1.15" fill="#3aa890"/>
<rect x="138.80" y="827.80" width="1.15" height="1.15" fill="#2a9a70"/>
<rect x="139.80" y="827.80" width="1.15" height="1.15" fill="#c01410"/>
<rect x="140.80" y="827.80" width="1.15" height="1.15" fill="#e06a1a"/>
<rect x="141.80" y="827.80" width="1.15" height="1.15" fill="#c01410"/>
<rect x="142.80" y="827.80" width="1.15" height="1.15" fill="#d42014"/>
<rect x="143.80" y="827.80" width="1.15" height="1.15" fill="#c81810"/>
<rect x="144.80" y="827.80" width="1.15" height="1.15" fill="#e06a1a"/>
<rect x="145.80" y="827.80" width="1.15" height="1.15" fill="#d42014"/>
<rect x="146.80" y="827.80" width="1.15" height="1.15" fill="#2ea85a"/>
<rect x="137.80" y="828.80" width="1.15" height="1.15" fill="#2a9a70"/>
<rect x="138.80" y="828.80" width="1.15" height="1.15" fill="#2ea85a"/>
<rect x="139.80" y="828.80" width="1.15" height="1.15" fill="#c01410"/>
<rect x="140.80" y="828.80" width="1.15" height="1.15" fill="#e06a1a"/>
<rect x="141.80" y="828.80" width="1.15" height="1.15" fill="#d42014"/>
<rect x="142.80" y="828.80" width="1.15" height="1.15" fill="#c01410"/>
<rect x="143.80" y="828.80" width="1.15" height="1.15" fill="#d42014"/>
<rect x="144.80" y="828.80" width="1.15" height="1.15" fill="#c81810"/>
<rect x="145.80" y="828.80" width="1.15" height="1.15" fill="#2aa444"/>
<rect x="146.80" y="828.80" width="1.15" height="1.15" fill="#30b04c"/>
<rect x="147.80" y="828.80" width="1.15" height="1.15" fill="#2a9a70"/>
<rect x="138.80" y="829.80" width="1.15" height="1.15" fill="#2ea85a"/>
<rect x="139.80" y="829.80" width="1.15" height="1.15" fill="#d83a14"/>
<rect x="140.80" y="829.80" width="1.15" height="1.15" fill="#c01410"/>
<rect x="141.80" y="829.80" width="1.15" height="1.15" fill="#d42014"/>
<rect x="142.80" y="829.80" width="1.15" height="1.15" fill="#c01410"/>
<rect x="143.80" y="829.80" width="1.15" height="1.15" fill="#d83a14"/>
<rect x="144.80" y="829.80" width="1.15" height="1.15" fill="#d83a14"/>
<rect x="145.80" y="829.80" width="1.15" height="1.15" fill="#c81810"/>
<rect x="146.80" y="829.80" width="1.15" height="1.15" fill="#2a9a70"/>
<rect x="147.80" y="829.80" width="1.15" height="1.15" fill="#2a9a70"/>
<rect x="139.80" y="830.80" width="1.15" height="1.15" fill="#2eac46"/>
<rect x="140.80" y="830.80" width="1.15" height="1.15" fill="#d42014"/>
<rect x="141.80" y="830.80" width="1.15" height="1.15" fill="#e06a1a"/>
<rect x="142.80" y="830.80" width="1.15" height="1.15" fill="#d83a14"/>
<rect x="143.80" y="830.80" width="1.15" height="1.15" fill="#d42014"/>
<rect x="144.80" y="830.80" width="1.15" height="1.15" fill="#d83a14"/>
<rect x="145.80" y="830.80" width="1.15" height="1.15" fill="#30b048"/>
<rect x="146.80" y="830.80" width="1.15" height="1.15" fill="#3aa890"/>
<rect x="140.80" y="831.80" width="1.15" height="1.15" fill="#c8c02a"/>
<rect x="141.80" y="831.80" width="1.15" height="1.15" fill="#d83a14"/>
<rect x="142.80" y="831.80" width="1.15" height="1.15" fill="#e06a1a"/>
<rect x="143.80" y="831.80" width="1.15" height="1.15" fill="#36b84e"/>
<rect x="144.80" y="831.80" width="1.15" height="1.15" fill="#2ea85a"/>
<rect x="145.80" y="831.80" width="1.15" height="1.15" fill="#30b04c"/>
<rect x="140.80" y="832.80" width="1.15" height="1.15" fill="#2a9a70"/>
<rect x="141.80" y="832.80" width="1.15" height="1.15" fill="#3aa890"/>
<rect x="142.80" y="832.80" width="1.15" height="1.15" fill="#3aa890"/>
<rect x="143.80" y="832.80" width="1.15" height="1.15" fill="#2eac46"/>
<rect x="144.80" y="832.80" width="1.15" height="1.15" fill="#2a9a70"/>
<rect x="141.80" y="833.80" width="1.15" height="1.15" fill="#c8c02a"/>
</g>
<rect x="149.15" y="822.13" width="1.20" height="1.20" fill="#48a0c0" stroke=" opacity="0.6"" stroke-width="0"/>
<rect x="132.56" y="826.05" width="1.20" height="1.20" fill="#3e5ac8" stroke=" opacity="0.6"" stroke-width="0"/>
<rect x="143.55" y="819.29" width="1.20" height="1.20" fill="#5a86d8" stroke=" opacity="0.6"" stroke-width="0"/>
<rect x="139.50" y="834.41" width="1.20" height="1.20" fill="#48a0c0" stroke=" opacity="0.6"" stroke-width="0"/>
<g filter="url(#bl4)">
<rect x="202.00" y="824.70" width="1.15" height="1.15" fill="#2eac46"/>
<rect x="203.00" y="824.70" width="1.15" height="1.15" fill="#c01410"/>
<rect x="204.00" y="824.70" width="1.15" height="1.15" fill="#e06a1a"/>
<rect x="205.00" y="824.70" width="1.15" height="1.15" fill="#c8c02a"/>
<rect x="206.00" y="824.70" width="1.15" height="1.15" fill="#2a9a70"/>
<rect x="207.00" y="824.70" width="1.15" height="1.15" fill="#2a9a70"/>
<rect x="200.00" y="825.70" width="1.15" height="1.15" fill="#2a9a70"/>
<rect x="201.00" y="825.70" width="1.15" height="1.15" fill="#d83a14"/>
<rect x="202.00" y="825.70" width="1.15" height="1.15" fill="#d83a14"/>
<rect x="203.00" y="825.70" width="1.15" height="1.15" fill="#c01410"/>
<rect x="204.00" y="825.70" width="1.15" height="1.15" fill="#c01410"/>
<rect x="205.00" y="825.70" width="1.15" height="1.15" fill="#e06a1a"/>
<rect x="206.00" y="825.70" width="1.15" height="1.15" fill="#e06a1a"/>
<rect x="207.00" y="825.70" width="1.15" height="1.15" fill="#c81810"/>
<rect x="200.00" y="826.70" width="1.15" height="1.15" fill="#2a9a70"/>
<rect x="201.00" y="826.70" width="1.15" height="1.15" fill="#e06a1a"/>
<rect x="202.00" y="826.70" width="1.15" height="1.15" fill="#c81810"/>
<rect x="203.00" y="826.70" width="1.15" height="1.15" fill="#c81810"/>
<rect x="204.00" y="826.70" width="1.15" height="1.15" fill="#c01410"/>
<rect x="205.00" y="826.70" width="1.15" height="1.15" fill="#c01410"/>
<rect x="206.00" y="826.70" width="1.15" height="1.15" fill="#d83a14"/>
<rect x="207.00" y="826.70" width="1.15" height="1.15" fill="#c81810"/>
<rect x="200.00" y="827.70" width="1.15" height="1.15" fill="#3aa890"/>
<rect x="201.00" y="827.70" width="1.15" height="1.15" fill="#d42014"/>
<rect x="202.00" y="827.70" width="1.15" height="1.15" fill="#d42014"/>
<rect x="203.00" y="827.70" width="1.15" height="1.15" fill="#c01410"/>
<rect x="204.00" y="827.70" width="1.15" height="1.15" fill="#d83a14"/>
<rect x="205.00" y="827.70" width="1.15" height="1.15" fill="#c81810"/>
<rect x="206.00" y="827.70" width="1.15" height="1.15" fill="#c81810"/>
<rect x="207.00" y="827.70" width="1.15" height="1.15" fill="#c81810"/>
<rect x="208.00" y="827.70" width="1.15" height="1.15" fill="#30b04c"/>
<rect x="200.00" y="828.70" width="1.15" height="1.15" fill="#2ea85a"/>
<rect x="201.00" y="828.70" width="1.15" height="1.15" fill="#d42014"/>
<rect x="202.00" y="828.70" width="1.15" height="1.15" fill="#c01410"/>
<rect x="203.00" y="828.70" width="1.15" height="1.15" fill="#c01410"/>
<rect x="204.00" y="828.70" width="1.15" height="1.15" fill="#e06a1a"/>
<rect x="205.00" y="828.70" width="1.15" height="1.15" fill="#e06a1a"/>
<rect x="206.00" y="828.70" width="1.15" height="1.15" fill="#c81810"/>
<rect x="207.00" y="828.70" width="1.15" height="1.15" fill="#e06a1a"/>
<rect x="208.00" y="828.70" width="1.15" height="1.15" fill="#2a9a70"/>
<rect x="209.00" y="828.70" width="1.15" height="1.15" fill="#2ea85a"/>
<rect x="200.00" y="829.70" width="1.15" height="1.15" fill="#2a9a70"/>
<rect x="201.00" y="829.70" width="1.15" height="1.15" fill="#2aa444"/>
<rect x="202.00" y="829.70" width="1.15" height="1.15" fill="#c81810"/>
<rect x="203.00" y="829.70" width="1.15" height="1.15" fill="#c81810"/>
<rect x="204.00" y="829.70" width="1.15" height="1.15" fill="#c01410"/>
<rect x="205.00" y="829.70" width="1.15" height="1.15" fill="#e06a1a"/>
<rect x="206.00" y="829.70" width="1.15" height="1.15" fill="#c81810"/>
<rect x="207.00" y="829.70" width="1.15" height="1.15" fill="#c81810"/>
<rect x="201.00" y="830.70" width="1.15" height="1.15" fill="#3aa890"/>
<rect x="202.00" y="830.70" width="1.15" height="1.15" fill="#30b048"/>
<rect x="203.00" y="830.70" width="1.15" height="1.15" fill="#30b04c"/>
<rect x="204.00" y="830.70" width="1.15" height="1.15" fill="#d42014"/>
<rect x="205.00" y="830.70" width="1.15" height="1.15" fill="#c81810"/>
<rect x="206.00" y="830.70" width="1.15" height="1.15" fill="#2a9a70"/>
<rect x="207.00" y="830.70" width="1.15" height="1.15" fill="#3aa890"/>
</g>
<rect x="195.25" y="830.91" width="1.20" height="1.20" fill="#3e5ac8" stroke=" opacity="0.6"" stroke-width="0"/>
<rect x="199.47" y="821.80" width="1.20" height="1.20" fill="#48a0c0" stroke=" opacity="0.6"" stroke-width="0"/>
<rect x="205.25" y="835.43" width="1.20" height="1.20" fill="#4a6ad0" stroke=" opacity="0.6"" stroke-width="0"/>
<rect x="213.15" y="833.81" width="1.20" height="1.20" fill="#48a0c0" stroke=" opacity="0.6"" stroke-width="0"/>
<g filter="url(#bl4)">
<rect x="266.50" y="824.30" width="1.15" height="1.15" fill="#e06a1a"/>
<rect x="267.50" y="824.30" width="1.15" height="1.15" fill="#d42014"/>
<rect x="268.50" y="824.30" width="1.15" height="1.15" fill="#d83a14"/>
<rect x="263.50" y="825.30" width="1.15" height="1.15" fill="#d83a14"/>
<rect x="265.50" y="825.30" width="1.15" height="1.15" fill="#d83a14"/>
<rect x="266.50" y="825.30" width="1.15" height="1.15" fill="#c01410"/>
<rect x="267.50" y="825.30" width="1.15" height="1.15" fill="#c01410"/>
<rect x="268.50" y="825.30" width="1.15" height="1.15" fill="#e06a1a"/>
<rect x="269.50" y="825.30" width="1.15" height="1.15" fill="#d83a14"/>
<rect x="261.50" y="826.30" width="1.15" height="1.15" fill="#2ea85a"/>
<rect x="263.50" y="826.30" width="1.15" height="1.15" fill="#d42014"/>
<rect x="264.50" y="826.30" width="1.15" height="1.15" fill="#d42014"/>
<rect x="265.50" y="826.30" width="1.15" height="1.15" fill="#c01410"/>
<rect x="266.50" y="826.30" width="1.15" height="1.15" fill="#c01410"/>
<rect x="267.50" y="826.30" width="1.15" height="1.15" fill="#d42014"/>
<rect x="268.50" y="826.30" width="1.15" height="1.15" fill="#c01410"/>
<rect x="269.50" y="826.30" width="1.15" height="1.15" fill="#d83a14"/>
<rect x="270.50" y="826.30" width="1.15" height="1.15" fill="#c01410"/>
<rect x="261.50" y="827.30" width="1.15" height="1.15" fill="#c81810"/>
<rect x="263.50" y="827.30" width="1.15" height="1.15" fill="#d42014"/>
<rect x="264.50" y="827.30" width="1.15" height="1.15" fill="#e06a1a"/>
<rect x="265.50" y="827.30" width="1.15" height="1.15" fill="#c81810"/>
<rect x="266.50" y="827.30" width="1.15" height="1.15" fill="#d83a14"/>
<rect x="267.50" y="827.30" width="1.15" height="1.15" fill="#c81810"/>
<rect x="268.50" y="827.30" width="1.15" height="1.15" fill="#d42014"/>
<rect x="269.50" y="827.30" width="1.15" height="1.15" fill="#c01410"/>
<rect x="270.50" y="827.30" width="1.15" height="1.15" fill="#e06a1a"/>
<rect x="271.50" y="827.30" width="1.15" height="1.15" fill="#d83a14"/>
<rect x="262.50" y="828.30" width="1.15" height="1.15" fill="#e06a1a"/>
<rect x="263.50" y="828.30" width="1.15" height="1.15" fill="#c81810"/>
<rect x="264.50" y="828.30" width="1.15" height="1.15" fill="#c81810"/>
<rect x="265.50" y="828.30" width="1.15" height="1.15" fill="#c81810"/>
<rect x="266.50" y="828.30" width="1.15" height="1.15" fill="#c81810"/>
<rect x="267.50" y="828.30" width="1.15" height="1.15" fill="#e06a1a"/>
<rect x="268.50" y="828.30" width="1.15" height="1.15" fill="#d83a14"/>
<rect x="269.50" y="828.30" width="1.15" height="1.15" fill="#e06a1a"/>
<rect x="262.50" y="829.30" width="1.15" height="1.15" fill="#c81810"/>
<rect x="263.50" y="829.30" width="1.15" height="1.15" fill="#c81810"/>
<rect x="264.50" y="829.30" width="1.15" height="1.15" fill="#c01410"/>
<rect x="265.50" y="829.30" width="1.15" height="1.15" fill="#c01410"/>
<rect x="266.50" y="829.30" width="1.15" height="1.15" fill="#c01410"/>
<rect x="267.50" y="829.30" width="1.15" height="1.15" fill="#d83a14"/>
<rect x="268.50" y="829.30" width="1.15" height="1.15" fill="#d83a14"/>
<rect x="269.50" y="829.30" width="1.15" height="1.15" fill="#e06a1a"/>
<rect x="270.50" y="829.30" width="1.15" height="1.15" fill="#d83a14"/>
<rect x="271.50" y="829.30" width="1.15" height="1.15" fill="#d83a14"/>
<rect x="263.50" y="830.30" width="1.15" height="1.15" fill="#c81810"/>
<rect x="264.50" y="830.30" width="1.15" height="1.15" fill="#e06a1a"/>
<rect x="265.50" y="830.30" width="1.15" height="1.15" fill="#e06a1a"/>
<rect x="266.50" y="830.30" width="1.15" height="1.15" fill="#d83a14"/>
<rect x="267.50" y="830.30" width="1.15" height="1.15" fill="#c81810"/>
<rect x="268.50" y="830.30" width="1.15" height="1.15" fill="#d42014"/>
<rect x="269.50" y="830.30" width="1.15" height="1.15" fill="#d42014"/>
<rect x="270.50" y="830.30" width="1.15" height="1.15" fill="#d83a14"/>
<rect x="263.50" y="831.30" width="1.15" height="1.15" fill="#c01410"/>
<rect x="264.50" y="831.30" width="1.15" height="1.15" fill="#c81810"/>
<rect x="265.50" y="831.30" width="1.15" height="1.15" fill="#c01410"/>
<rect x="266.50" y="831.30" width="1.15" height="1.15" fill="#c01410"/>
<rect x="267.50" y="831.30" width="1.15" height="1.15" fill="#d42014"/>
<rect x="268.50" y="831.30" width="1.15" height="1.15" fill="#e06a1a"/>
<rect x="269.50" y="831.30" width="1.15" height="1.15" fill="#e06a1a"/>
<rect x="263.50" y="832.30" width="1.15" height="1.15" fill="#c01410"/>
<rect x="264.50" y="832.30" width="1.15" height="1.15" fill="#d83a14"/>
<rect x="267.50" y="832.30" width="1.15" height="1.15" fill="#c01410"/>
<rect x="269.50" y="832.30" width="1.15" height="1.15" fill="#d42014"/>
<rect x="270.50" y="832.30" width="1.15" height="1.15" fill="#30b04c"/>
</g>
<rect x="269.32" y="818.01" width="1.20" height="1.20" fill="#3e5ac8" stroke=" opacity="0.6"" stroke-width="0"/>
<rect x="261.21" y="831.58" width="1.20" height="1.20" fill="#4a6ad0" stroke=" opacity="0.6"" stroke-width="0"/>
<rect x="260.28" y="832.17" width="1.20" height="1.20" fill="#5a86d8" stroke=" opacity="0.6"" stroke-width="0"/>
<g filter="url(#bl4)">
<rect x="87.55" y="908.45" width="1.45" height="1.45" fill="#3a9ab0"/>
<rect x="87.55" y="909.75" width="1.45" height="1.45" fill="#2a9a70"/>
<rect x="90.15" y="909.75" width="1.45" height="1.45" fill="#2a9a70"/>
<rect x="91.45" y="909.75" width="1.45" height="1.45" fill="#30b04c"/>
<rect x="94.05" y="909.75" width="1.45" height="1.45" fill="#3070c0"/>
<rect x="81.05" y="911.05" width="1.45" height="1.45" fill="#3070c0"/>
<rect x="82.35" y="911.05" width="1.45" height="1.45" fill="#3070c0"/>
<rect x="84.95" y="911.05" width="1.45" height="1.45" fill="#3a9ab0"/>
<rect x="86.25" y="911.05" width="1.45" height="1.45" fill="#2eac46"/>
<rect x="88.85" y="911.05" width="1.45" height="1.45" fill="#36b84e"/>
<rect x="91.45" y="911.05" width="1.45" height="1.45" fill="#2ea85a"/>
<rect x="92.75" y="911.05" width="1.45" height="1.45" fill="#30b04c"/>
<rect x="94.05" y="911.05" width="1.45" height="1.45" fill="#30b04c"/>
<rect x="97.95" y="911.05" width="1.45" height="1.45" fill="#2ea85a"/>
<rect x="78.45" y="912.35" width="1.45" height="1.45" fill="#30b04c"/>
<rect x="82.35" y="912.35" width="1.45" height="1.45" fill="#30b04c"/>
<rect x="83.65" y="912.35" width="1.45" height="1.45" fill="#36b84e"/>
<rect x="84.95" y="912.35" width="1.45" height="1.45" fill="#30b04c"/>
<rect x="86.25" y="912.35" width="1.45" height="1.45" fill="#e06a1a"/>
<rect x="87.55" y="912.35" width="1.45" height="1.45" fill="#30b048"/>
<rect x="88.85" y="912.35" width="1.45" height="1.45" fill="#d83a14"/>
<rect x="90.15" y="912.35" width="1.45" height="1.45" fill="#d42014"/>
<rect x="91.45" y="912.35" width="1.45" height="1.45" fill="#d83a14"/>
<rect x="92.75" y="912.35" width="1.45" height="1.45" fill="#c81810"/>
<rect x="94.05" y="912.35" width="1.45" height="1.45" fill="#d83a14"/>
<rect x="97.95" y="912.35" width="1.45" height="1.45" fill="#3a9ab0"/>
<rect x="81.05" y="913.65" width="1.45" height="1.45" fill="#2a9a70"/>
<rect x="82.35" y="913.65" width="1.45" height="1.45" fill="#30b048"/>
<rect x="83.65" y="913.65" width="1.45" height="1.45" fill="#2ea85a"/>
<rect x="84.95" y="913.65" width="1.45" height="1.45" fill="#c01410"/>
<rect x="86.25" y="913.65" width="1.45" height="1.45" fill="#c81810"/>
<rect x="87.55" y="913.65" width="1.45" height="1.45" fill="#d83a14"/>
<rect x="88.85" y="913.65" width="1.45" height="1.45" fill="#e06a1a"/>
<rect x="90.15" y="913.65" width="1.45" height="1.45" fill="#2eac46"/>
<rect x="91.45" y="913.65" width="1.45" height="1.45" fill="#36b84e"/>
<rect x="92.75" y="913.65" width="1.45" height="1.45" fill="#d83a14"/>
<rect x="94.05" y="913.65" width="1.45" height="1.45" fill="#d42014"/>
<rect x="95.35" y="913.65" width="1.45" height="1.45" fill="#2a9a70"/>
<rect x="96.65" y="913.65" width="1.45" height="1.45" fill="#3070c0"/>
<rect x="97.95" y="913.65" width="1.45" height="1.45" fill="#2ea85a"/>
<rect x="99.25" y="913.65" width="1.45" height="1.45" fill="#30b04c"/>
<rect x="100.55" y="913.65" width="1.45" height="1.45" fill="#2a9a70"/>
<rect x="79.75" y="914.95" width="1.45" height="1.45" fill="#2ea85a"/>
<rect x="81.05" y="914.95" width="1.45" height="1.45" fill="#c81810"/>
<rect x="82.35" y="914.95" width="1.45" height="1.45" fill="#c01410"/>
<rect x="83.65" y="914.95" width="1.45" height="1.45" fill="#e06a1a"/>
<rect x="84.95" y="914.95" width="1.45" height="1.45" fill="#d83a14"/>
<rect x="86.25" y="914.95" width="1.45" height="1.45" fill="#c01410"/>
<rect x="87.55" y="914.95" width="1.45" height="1.45" fill="#d42014"/>
<rect x="88.85" y="914.95" width="1.45" height="1.45" fill="#c81810"/>
<rect x="90.15" y="914.95" width="1.45" height="1.45" fill="#e06a1a"/>
<rect x="91.45" y="914.95" width="1.45" height="1.45" fill="#e06a1a"/>
<rect x="92.75" y="914.95" width="1.45" height="1.45" fill="#c81810"/>
<rect x="94.05" y="914.95" width="1.45" height="1.45" fill="#d42014"/>
<rect x="95.35" y="914.95" width="1.45" height="1.45" fill="#c81810"/>
<rect x="96.65" y="914.95" width="1.45" height="1.45" fill="#2eac46"/>
<rect x="97.95" y="914.95" width="1.45" height="1.45" fill="#3070c0"/>
<rect x="99.25" y="914.95" width="1.45" height="1.45" fill="#3a9ab0"/>
<rect x="101.85" y="914.95" width="1.45" height="1.45" fill="#3a9ab0"/>
<rect x="77.15" y="916.25" width="1.45" height="1.45" fill="#30b04c"/>
<rect x="79.75" y="916.25" width="1.45" height="1.45" fill="#2aa444"/>
<rect x="81.05" y="916.25" width="1.45" height="1.45" fill="#36b84e"/>
<rect x="82.35" y="916.25" width="1.45" height="1.45" fill="#e06a1a"/>
<rect x="83.65" y="916.25" width="1.45" height="1.45" fill="#c01410"/>
<rect x="84.95" y="916.25" width="1.45" height="1.45" fill="#2aa444"/>
<rect x="86.25" y="916.25" width="1.45" height="1.45" fill="#d42014"/>
<rect x="87.55" y="916.25" width="1.45" height="1.45" fill="#e06a1a"/>
<rect x="88.85" y="916.25" width="1.45" height="1.45" fill="#36b84e"/>
<rect x="90.15" y="916.25" width="1.45" height="1.45" fill="#d83a14"/>
<rect x="91.45" y="916.25" width="1.45" height="1.45" fill="#d83a14"/>
<rect x="92.75" y="916.25" width="1.45" height="1.45" fill="#c01410"/>
<rect x="94.05" y="916.25" width="1.45" height="1.45" fill="#2eac46"/>
<rect x="95.35" y="916.25" width="1.45" height="1.45" fill="#e06a1a"/>
<rect x="96.65" y="916.25" width="1.45" height="1.45" fill="#c01410"/>
<rect x="97.95" y="916.25" width="1.45" height="1.45" fill="#2eac46"/>
<rect x="99.25" y="916.25" width="1.45" height="1.45" fill="#30b04c"/>
<rect x="75.85" y="917.55" width="1.45" height="1.45" fill="#30b04c"/>
<rect x="77.15" y="917.55" width="1.45" height="1.45" fill="#2a9a70"/>
<rect x="78.45" y="917.55" width="1.45" height="1.45" fill="#30b04c"/>
<rect x="79.75" y="917.55" width="1.45" height="1.45" fill="#c81810"/>
<rect x="81.05" y="917.55" width="1.45" height="1.45" fill="#36b84e"/>
<rect x="82.35" y="917.55" width="1.45" height="1.45" fill="#2aa444"/>
<rect x="83.65" y="917.55" width="1.45" height="1.45" fill="#2eac46"/>
<rect x="84.95" y="917.55" width="1.45" height="1.45" fill="#c81810"/>
<rect x="86.25" y="917.55" width="1.45" height="1.45" fill="#d42014"/>
<rect x="87.55" y="917.55" width="1.45" height="1.45" fill="#c01410"/>
<rect x="88.85" y="917.55" width="1.45" height="1.45" fill="#d42014"/>
<rect x="90.15" y="917.55" width="1.45" height="1.45" fill="#d83a14"/>
<rect x="91.45" y="917.55" width="1.45" height="1.45" fill="#c01410"/>
<rect x="92.75" y="917.55" width="1.45" height="1.45" fill="#c81810"/>
<rect x="94.05" y="917.55" width="1.45" height="1.45" fill="#c81810"/>
<rect x="95.35" y="917.55" width="1.45" height="1.45" fill="#30b048"/>
<rect x="96.65" y="917.55" width="1.45" height="1.45" fill="#30b048"/>
<rect x="97.95" y="917.55" width="1.45" height="1.45" fill="#d83a14"/>
<rect x="99.25" y="917.55" width="1.45" height="1.45" fill="#3070c0"/>
<rect x="78.45" y="918.85" width="1.45" height="1.45" fill="#d83a14"/>
<rect x="79.75" y="918.85" width="1.45" height="1.45" fill="#30b048"/>
<rect x="81.05" y="918.85" width="1.45" height="1.45" fill="#c81810"/>
<rect x="82.35" y="918.85" width="1.45" height="1.45" fill="#c01410"/>
<rect x="83.65" y="918.85" width="1.45" height="1.45" fill="#2aa444"/>
<rect x="84.95" y="918.85" width="1.45" height="1.45" fill="#e06a1a"/>
<rect x="86.25" y="918.85" width="1.45" height="1.45" fill="#e06a1a"/>
<rect x="87.55" y="918.85" width="1.45" height="1.45" fill="#c81810"/>
<rect x="88.85" y="918.85" width="1.45" height="1.45" fill="#c81810"/>
<rect x="90.15" y="918.85" width="1.45" height="1.45" fill="#e06a1a"/>
<rect x="91.45" y="918.85" width="1.45" height="1.45" fill="#d42014"/>
<rect x="92.75" y="918.85" width="1.45" height="1.45" fill="#d42014"/>
<rect x="94.05" y="918.85" width="1.45" height="1.45" fill="#30b048"/>
<rect x="95.35" y="918.85" width="1.45" height="1.45" fill="#36b84e"/>
<rect x="96.65" y="918.85" width="1.45" height="1.45" fill="#e06a1a"/>
<rect x="97.95" y="918.85" width="1.45" height="1.45" fill="#2aa444"/>
<rect x="99.25" y="918.85" width="1.45" height="1.45" fill="#2ea85a"/>
<rect x="100.55" y="918.85" width="1.45" height="1.45" fill="#30b04c"/>
<rect x="101.85" y="918.85" width="1.45" height="1.45" fill="#2a9a70"/>
<rect x="77.15" y="920.15" width="1.45" height="1.45" fill="#2a9a70"/>
<rect x="78.45" y="920.15" width="1.45" height="1.45" fill="#c01410"/>
<rect x="79.75" y="920.15" width="1.45" height="1.45" fill="#d83a14"/>
<rect x="81.05" y="920.15" width="1.45" height="1.45" fill="#d83a14"/>
<rect x="82.35" y="920.15" width="1.45" height="1.45" fill="#d83a14"/>
<rect x="83.65" y="920.15" width="1.45" height="1.45" fill="#2eac46"/>
<rect x="84.95" y="920.15" width="1.45" height="1.45" fill="#e06a1a"/>
<rect x="86.25" y="920.15" width="1.45" height="1.45" fill="#c81810"/>
<rect x="87.55" y="920.15" width="1.45" height="1.45" fill="#c81810"/>
<rect x="88.85" y="920.15" width="1.45" height="1.45" fill="#c01410"/>
<rect x="90.15" y="920.15" width="1.45" height="1.45" fill="#d83a14"/>
<rect x="91.45" y="920.15" width="1.45" height="1.45" fill="#d83a14"/>
<rect x="92.75" y="920.15" width="1.45" height="1.45" fill="#d42014"/>
<rect x="94.05" y="920.15" width="1.45" height="1.45" fill="#c01410"/>
<rect x="95.35" y="920.15" width="1.45" height="1.45" fill="#2eac46"/>
<rect x="96.65" y="920.15" width="1.45" height="1.45" fill="#30b048"/>
<rect x="97.95" y="920.15" width="1.45" height="1.45" fill="#c01410"/>
<rect x="99.25" y="920.15" width="1.45" height="1.45" fill="#d42014"/>
<rect x="100.55" y="920.15" width="1.45" height="1.45" fill="#3070c0"/>
<rect x="75.85" y="921.45" width="1.45" height="1.45" fill="#2a9a70"/>
<rect x="77.15" y="921.45" width="1.45" height="1.45" fill="#3070c0"/>
<rect x="78.45" y="921.45" width="1.45" height="1.45" fill="#d83a14"/>
<rect x="79.75" y="921.45" width="1.45" height="1.45" fill="#2eac46"/>
<rect x="81.05" y="921.45" width="1.45" height="1.45" fill="#c81810"/>
<rect x="82.35" y="921.45" width="1.45" height="1.45" fill="#c81810"/>
<rect x="83.65" y="921.45" width="1.45" height="1.45" fill="#c01410"/>
<rect x="84.95" y="921.45" width="1.45" height="1.45" fill="#c01410"/>
<rect x="86.25" y="921.45" width="1.45" height="1.45" fill="#c01410"/>
<rect x="87.55" y="921.45" width="1.45" height="1.45" fill="#e06a1a"/>
<rect x="88.85" y="921.45" width="1.45" height="1.45" fill="#d83a14"/>
<rect x="90.15" y="921.45" width="1.45" height="1.45" fill="#36b84e"/>
<rect x="91.45" y="921.45" width="1.45" height="1.45" fill="#36b84e"/>
<rect x="92.75" y="921.45" width="1.45" height="1.45" fill="#c01410"/>
<rect x="94.05" y="921.45" width="1.45" height="1.45" fill="#d42014"/>
<rect x="95.35" y="921.45" width="1.45" height="1.45" fill="#36b84e"/>
<rect x="96.65" y="921.45" width="1.45" height="1.45" fill="#c01410"/>
<rect x="97.95" y="921.45" width="1.45" height="1.45" fill="#2a9a70"/>
<rect x="99.25" y="921.45" width="1.45" height="1.45" fill="#c81810"/>
<rect x="77.15" y="922.75" width="1.45" height="1.45" fill="#3a9ab0"/>
<rect x="78.45" y="922.75" width="1.45" height="1.45" fill="#30b04c"/>
<rect x="79.75" y="922.75" width="1.45" height="1.45" fill="#30b048"/>
<rect x="81.05" y="922.75" width="1.45" height="1.45" fill="#c01410"/>
<rect x="82.35" y="922.75" width="1.45" height="1.45" fill="#2eac46"/>
<rect x="83.65" y="922.75" width="1.45" height="1.45" fill="#d83a14"/>
<rect x="84.95" y="922.75" width="1.45" height="1.45" fill="#d42014"/>
<rect x="86.25" y="922.75" width="1.45" height="1.45" fill="#c81810"/>
<rect x="87.55" y="922.75" width="1.45" height="1.45" fill="#30b048"/>
<rect x="88.85" y="922.75" width="1.45" height="1.45" fill="#d42014"/>
<rect x="90.15" y="922.75" width="1.45" height="1.45" fill="#30b048"/>
<rect x="91.45" y="922.75" width="1.45" height="1.45" fill="#c01410"/>
<rect x="92.75" y="922.75" width="1.45" height="1.45" fill="#c81810"/>
<rect x="94.05" y="922.75" width="1.45" height="1.45" fill="#d83a14"/>
<rect x="95.35" y="922.75" width="1.45" height="1.45" fill="#e06a1a"/>
<rect x="96.65" y="922.75" width="1.45" height="1.45" fill="#2aa444"/>
<rect x="97.95" y="922.75" width="1.45" height="1.45" fill="#c01410"/>
<rect x="99.25" y="922.75" width="1.45" height="1.45" fill="#3a9ab0"/>
<rect x="101.85" y="922.75" width="1.45" height="1.45" fill="#30b04c"/>
<rect x="77.15" y="924.05" width="1.45" height="1.45" fill="#2a9a70"/>
<rect x="78.45" y="924.05" width="1.45" height="1.45" fill="#3070c0"/>
<rect x="79.75" y="924.05" width="1.45" height="1.45" fill="#2aa444"/>
<rect x="81.05" y="924.05" width="1.45" height="1.45" fill="#e06a1a"/>
<rect x="82.35" y="924.05" width="1.45" height="1.45" fill="#d83a14"/>
<rect x="83.65" y="924.05" width="1.45" height="1.45" fill="#36b84e"/>
<rect x="84.95" y="924.05" width="1.45" height="1.45" fill="#e06a1a"/>
<rect x="86.25" y="924.05" width="1.45" height="1.45" fill="#30b048"/>
<rect x="87.55" y="924.05" width="1.45" height="1.45" fill="#d83a14"/>
<rect x="88.85" y="924.05" width="1.45" height="1.45" fill="#d42014"/>
<rect x="90.15" y="924.05" width="1.45" height="1.45" fill="#e06a1a"/>
<rect x="91.45" y="924.05" width="1.45" height="1.45" fill="#c81810"/>
<rect x="92.75" y="924.05" width="1.45" height="1.45" fill="#c81810"/>
<rect x="94.05" y="924.05" width="1.45" height="1.45" fill="#c81810"/>
<rect x="95.35" y="924.05" width="1.45" height="1.45" fill="#d42014"/>
<rect x="96.65" y="924.05" width="1.45" height="1.45" fill="#2aa444"/>
<rect x="97.95" y="924.05" width="1.45" height="1.45" fill="#30b04c"/>
<rect x="100.55" y="924.05" width="1.45" height="1.45" fill="#30b04c"/>
<rect x="77.15" y="925.35" width="1.45" height="1.45" fill="#3a9ab0"/>
<rect x="79.75" y="925.35" width="1.45" height="1.45" fill="#30b048"/>
<rect x="81.05" y="925.35" width="1.45" height="1.45" fill="#d42014"/>
<rect x="82.35" y="925.35" width="1.45" height="1.45" fill="#d42014"/>
<rect x="83.65" y="925.35" width="1.45" height="1.45" fill="#c01410"/>
<rect x="84.95" y="925.35" width="1.45" height="1.45" fill="#30b048"/>
<rect x="86.25" y="925.35" width="1.45" height="1.45" fill="#d83a14"/>
<rect x="87.55" y="925.35" width="1.45" height="1.45" fill="#d42014"/>
<rect x="88.85" y="925.35" width="1.45" height="1.45" fill="#c01410"/>
<rect x="90.15" y="925.35" width="1.45" height="1.45" fill="#d42014"/>
<rect x="91.45" y="925.35" width="1.45" height="1.45" fill="#2aa444"/>
<rect x="92.75" y="925.35" width="1.45" height="1.45" fill="#d83a14"/>
<rect x="94.05" y="925.35" width="1.45" height="1.45" fill="#c81810"/>
<rect x="95.35" y="925.35" width="1.45" height="1.45" fill="#e06a1a"/>
<rect x="96.65" y="925.35" width="1.45" height="1.45" fill="#c01410"/>
<rect x="99.25" y="925.35" width="1.45" height="1.45" fill="#3a9ab0"/>
<rect x="79.75" y="926.65" width="1.45" height="1.45" fill="#2ea85a"/>
<rect x="81.05" y="926.65" width="1.45" height="1.45" fill="#30b04c"/>
<rect x="82.35" y="926.65" width="1.45" height="1.45" fill="#30b048"/>
<rect x="83.65" y="926.65" width="1.45" height="1.45" fill="#30b048"/>
<rect x="84.95" y="926.65" width="1.45" height="1.45" fill="#36b84e"/>
<rect x="86.25" y="926.65" width="1.45" height="1.45" fill="#e06a1a"/>
<rect x="87.55" y="926.65" width="1.45" height="1.45" fill="#d83a14"/>
<rect x="88.85" y="926.65" width="1.45" height="1.45" fill="#d42014"/>
<rect x="90.15" y="926.65" width="1.45" height="1.45" fill="#36b84e"/>
<rect x="91.45" y="926.65" width="1.45" height="1.45" fill="#d83a14"/>
<rect x="92.75" y="926.65" width="1.45" height="1.45" fill="#c01410"/>
<rect x="94.05" y="926.65" width="1.45" height="1.45" fill="#d83a14"/>
<rect x="95.35" y="926.65" width="1.45" height="1.45" fill="#d83a14"/>
<rect x="96.65" y="926.65" width="1.45" height="1.45" fill="#3a9ab0"/>
<rect x="99.25" y="926.65" width="1.45" height="1.45" fill="#2ea85a"/>
<rect x="79.75" y="927.95" width="1.45" height="1.45" fill="#30b04c"/>
<rect x="82.35" y="927.95" width="1.45" height="1.45" fill="#2eac46"/>
<rect x="84.95" y="927.95" width="1.45" height="1.45" fill="#c01410"/>
<rect x="86.25" y="927.95" width="1.45" height="1.45" fill="#2eac46"/>
<rect x="87.55" y="927.95" width="1.45" height="1.45" fill="#36b84e"/>
<rect x="88.85" y="927.95" width="1.45" height="1.45" fill="#36b84e"/>
<rect x="90.15" y="927.95" width="1.45" height="1.45" fill="#30b048"/>
<rect x="91.45" y="927.95" width="1.45" height="1.45" fill="#2eac46"/>
<rect x="92.75" y="927.95" width="1.45" height="1.45" fill="#2aa444"/>
<rect x="94.05" y="927.95" width="1.45" height="1.45" fill="#d83a14"/>
<rect x="95.35" y="927.95" width="1.45" height="1.45" fill="#2ea85a"/>
<rect x="96.65" y="927.95" width="1.45" height="1.45" fill="#30b04c"/>
<rect x="86.25" y="929.25" width="1.45" height="1.45" fill="#2eac46"/>
<rect x="87.55" y="929.25" width="1.45" height="1.45" fill="#36b84e"/>
<rect x="88.85" y="929.25" width="1.45" height="1.45" fill="#2ea85a"/>
<rect x="90.15" y="929.25" width="1.45" height="1.45" fill="#d83a14"/>
<rect x="91.45" y="929.25" width="1.45" height="1.45" fill="#2ea85a"/>
<rect x="92.75" y="929.25" width="1.45" height="1.45" fill="#3a9ab0"/>
<rect x="95.35" y="929.25" width="1.45" height="1.45" fill="#2a9a70"/>
<rect x="96.65" y="929.25" width="1.45" height="1.45" fill="#30b04c"/>
<rect x="97.95" y="929.25" width="1.45" height="1.45" fill="#3070c0"/>
<rect x="86.25" y="930.55" width="1.45" height="1.45" fill="#3a9ab0"/>
<rect x="91.45" y="930.55" width="1.45" height="1.45" fill="#3a9ab0"/>
<rect x="92.75" y="930.55" width="1.45" height="1.45" fill="#3a9ab0"/>
<rect x="86.25" y="931.85" width="1.45" height="1.45" fill="#3a9ab0"/>
<rect x="88.85" y="931.85" width="1.45" height="1.45" fill="#30b04c"/>
</g>
<rect x="77.11" y="929.43" width="1.20" height="1.20" fill="#4a6ad0" stroke=" opacity="0.6"" stroke-width="0"/>
<rect x="97.59" y="942.19" width="1.20" height="1.20" fill="#5a86d8" stroke=" opacity="0.6"" stroke-width="0"/>
<rect x="65.97" y="926.24" width="1.20" height="1.20" fill="#48a0c0" stroke=" opacity="0.6"" stroke-width="0"/>
<rect x="71.68" y="919.92" width="1.20" height="1.20" fill="#5a86d8" stroke=" opacity="0.6"" stroke-width="0"/>
<rect x="108.08" y="941.37" width="1.20" height="1.20" fill="#3e5ac8" stroke=" opacity="0.6"" stroke-width="0"/>
<rect x="102.68" y="926.62" width="1.20" height="1.20" fill="#3e5ac8" stroke=" opacity="0.6"" stroke-width="0"/>
<rect x="71.89" y="901.06" width="1.20" height="1.20" fill="#4a6ad0" stroke=" opacity="0.6"" stroke-width="0"/>
<rect x="93.33" y="935.51" width="1.20" height="1.20" fill="#48a0c0" stroke=" opacity="0.6"" stroke-width="0"/>
<rect x="104.51" y="914.86" width="1.20" height="1.20" fill="#3e5ac8" stroke=" opacity="0.6"" stroke-width="0"/>
<rect x="106.75" y="927.01" width="1.20" height="1.20" fill="#48a0c0" stroke=" opacity="0.6"" stroke-width="0"/>
<rect x="101.30" y="911.40" width="1.20" height="1.20" fill="#48a0c0" stroke=" opacity="0.6"" stroke-width="0"/>
<rect x="117.46" y="924.37" width="1.20" height="1.20" fill="#3e5ac8" stroke=" opacity="0.6"" stroke-width="0"/>
<rect x="97.65" y="940.38" width="1.20" height="1.20" fill="#48a0c0" stroke=" opacity="0.6"" stroke-width="0"/>
<rect x="73.41" y="900.51" width="1.20" height="1.20" fill="#5a86d8" stroke=" opacity="0.6"" stroke-width="0"/>
<rect x="112.70" y="932.90" width="1.20" height="1.20" fill="#48a0c0" stroke=" opacity="0.6"" stroke-width="0"/>
<rect x="75.33" y="934.49" width="1.20" height="1.20" fill="#3e5ac8" stroke=" opacity="0.6"" stroke-width="0"/>
<rect x="76.42" y="910.04" width="1.20" height="1.20" fill="#5a86d8" stroke=" opacity="0.6"" stroke-width="0"/>
<rect x="77.56" y="901.31" width="1.20" height="1.20" fill="#4a6ad0" stroke=" opacity="0.6"" stroke-width="0"/>
<rect x="92.28" y="941.83" width="1.20" height="1.20" fill="#3e5ac8" stroke=" opacity="0.6"" stroke-width="0"/>
<rect x="116.64" y="912.01" width="1.20" height="1.20" fill="#4a6ad0" stroke=" opacity="0.6"" stroke-width="0"/>
<rect x="71.41" y="915.58" width="1.20" height="1.20" fill="#4a6ad0" stroke=" opacity="0.6"" stroke-width="0"/>
<rect x="99.29" y="907.11" width="1.20" height="1.20" fill="#48a0c0" stroke=" opacity="0.6"" stroke-width="0"/>
<rect x="115.29" y="921.33" width="1.20" height="1.20" fill="#48a0c0" stroke=" opacity="0.6"" stroke-width="0"/>
<rect x="115.66" y="907.81" width="1.20" height="1.20" fill="#5a86d8" stroke=" opacity="0.6"" stroke-width="0"/>
<rect x="61.48" y="931.01" width="1.20" height="1.20" fill="#5a86d8" stroke=" opacity="0.6"" stroke-width="0"/>
<rect x="61.34" y="918.40" width="1.20" height="1.20" fill="#5a86d8" stroke=" opacity="0.6"" stroke-width="0"/>
<g filter="url(#bl4)">
<rect x="153.95" y="908.45" width="1.45" height="1.45" fill="#30b04c"/>
<rect x="146.15" y="909.75" width="1.45" height="1.45" fill="#3070c0"/>
<rect x="148.75" y="909.75" width="1.45" height="1.45" fill="#3a9ab0"/>
<rect x="150.05" y="909.75" width="1.45" height="1.45" fill="#3070c0"/>
<rect x="153.95" y="909.75" width="1.45" height="1.45" fill="#2a9a70"/>
<rect x="143.55" y="911.05" width="1.45" height="1.45" fill="#2ea85a"/>
<rect x="148.75" y="911.05" width="1.45" height="1.45" fill="#36b84e"/>
<rect x="150.05" y="911.05" width="1.45" height="1.45" fill="#2aa444"/>
<rect x="151.35" y="911.05" width="1.45" height="1.45" fill="#2aa444"/>
<rect x="155.25" y="911.05" width="1.45" height="1.45" fill="#2ea85a"/>
<rect x="156.55" y="911.05" width="1.45" height="1.45" fill="#2ea85a"/>
<rect x="142.25" y="912.35" width="1.45" height="1.45" fill="#2a9a70"/>
<rect x="143.55" y="912.35" width="1.45" height="1.45" fill="#2ea85a"/>
<rect x="144.85" y="912.35" width="1.45" height="1.45" fill="#2a9a70"/>
<rect x="146.15" y="912.35" width="1.45" height="1.45" fill="#2aa444"/>
<rect x="147.45" y="912.35" width="1.45" height="1.45" fill="#3070c0"/>
<rect x="148.75" y="912.35" width="1.45" height="1.45" fill="#36b84e"/>
<rect x="150.05" y="912.35" width="1.45" height="1.45" fill="#36b84e"/>
<rect x="151.35" y="912.35" width="1.45" height="1.45" fill="#30b048"/>
<rect x="152.65" y="912.35" width="1.45" height="1.45" fill="#30b048"/>
<rect x="153.95" y="912.35" width="1.45" height="1.45" fill="#36b84e"/>
<rect x="155.25" y="912.35" width="1.45" height="1.45" fill="#30b04c"/>
<rect x="156.55" y="912.35" width="1.45" height="1.45" fill="#3070c0"/>
<rect x="159.15" y="912.35" width="1.45" height="1.45" fill="#2ea85a"/>
<rect x="143.55" y="913.65" width="1.45" height="1.45" fill="#2a9a70"/>
<rect x="144.85" y="913.65" width="1.45" height="1.45" fill="#30b04c"/>
<rect x="146.15" y="913.65" width="1.45" height="1.45" fill="#36b84e"/>
<rect x="147.45" y="913.65" width="1.45" height="1.45" fill="#36b84e"/>
<rect x="148.75" y="913.65" width="1.45" height="1.45" fill="#36b84e"/>
<rect x="150.05" y="913.65" width="1.45" height="1.45" fill="#2eac46"/>
<rect x="151.35" y="913.65" width="1.45" height="1.45" fill="#2eac46"/>
<rect x="152.65" y="913.65" width="1.45" height="1.45" fill="#2eac46"/>
<rect x="153.95" y="913.65" width="1.45" height="1.45" fill="#2aa444"/>
<rect x="155.25" y="913.65" width="1.45" height="1.45" fill="#30b04c"/>
<rect x="160.45" y="913.65" width="1.45" height="1.45" fill="#30b04c"/>
<rect x="139.65" y="914.95" width="1.45" height="1.45" fill="#30b04c"/>
<rect x="140.95" y="914.95" width="1.45" height="1.45" fill="#3070c0"/>
<rect x="142.25" y="914.95" width="1.45" height="1.45" fill="#2a9a70"/>
<rect x="143.55" y="914.95" width="1.45" height="1.45" fill="#3070c0"/>
<rect x="144.85" y="914.95" width="1.45" height="1.45" fill="#2eac46"/>
<rect x="146.15" y="914.95" width="1.45" height="1.45" fill="#2aa444"/>
<rect x="147.45" y="914.95" width="1.45" height="1.45" fill="#2aa444"/>
<rect x="148.75" y="914.95" width="1.45" height="1.45" fill="#2aa444"/>
<rect x="150.05" y="914.95" width="1.45" height="1.45" fill="#2eac46"/>
<rect x="151.35" y="914.95" width="1.45" height="1.45" fill="#36b84e"/>
<rect x="152.65" y="914.95" width="1.45" height="1.45" fill="#2eac46"/>
<rect x="153.95" y="914.95" width="1.45" height="1.45" fill="#2aa444"/>
<rect x="155.25" y="914.95" width="1.45" height="1.45" fill="#30b048"/>
<rect x="156.55" y="914.95" width="1.45" height="1.45" fill="#2aa444"/>
<rect x="157.85" y="914.95" width="1.45" height="1.45" fill="#2a9a70"/>
<rect x="139.65" y="916.25" width="1.45" height="1.45" fill="#2ea85a"/>
<rect x="142.25" y="916.25" width="1.45" height="1.45" fill="#2aa444"/>
<rect x="143.55" y="916.25" width="1.45" height="1.45" fill="#2eac46"/>
<rect x="144.85" y="916.25" width="1.45" height="1.45" fill="#30b048"/>
<rect x="146.15" y="916.25" width="1.45" height="1.45" fill="#c81810"/>
<rect x="147.45" y="916.25" width="1.45" height="1.45" fill="#2aa444"/>
<rect x="148.75" y="916.25" width="1.45" height="1.45" fill="#e06a1a"/>
<rect x="150.05" y="916.25" width="1.45" height="1.45" fill="#30b048"/>
<rect x="151.35" y="916.25" width="1.45" height="1.45" fill="#30b048"/>
<rect x="152.65" y="916.25" width="1.45" height="1.45" fill="#2aa444"/>
<rect x="153.95" y="916.25" width="1.45" height="1.45" fill="#2aa444"/>
<rect x="155.25" y="916.25" width="1.45" height="1.45" fill="#2aa444"/>
<rect x="156.55" y="916.25" width="1.45" height="1.45" fill="#36b84e"/>
<rect x="157.85" y="916.25" width="1.45" height="1.45" fill="#30b04c"/>
<rect x="159.15" y="916.25" width="1.45" height="1.45" fill="#3a9ab0"/>
<rect x="138.35" y="917.55" width="1.45" height="1.45" fill="#3a9ab0"/>
<rect x="140.95" y="917.55" width="1.45" height="1.45" fill="#3a9ab0"/>
<rect x="142.25" y="917.55" width="1.45" height="1.45" fill="#2aa444"/>
<rect x="143.55" y="917.55" width="1.45" height="1.45" fill="#2eac46"/>
<rect x="144.85" y="917.55" width="1.45" height="1.45" fill="#c81810"/>
<rect x="146.15" y="917.55" width="1.45" height="1.45" fill="#d83a14"/>
<rect x="147.45" y="917.55" width="1.45" height="1.45" fill="#36b84e"/>
<rect x="148.75" y="917.55" width="1.45" height="1.45" fill="#36b84e"/>
<rect x="150.05" y="917.55" width="1.45" height="1.45" fill="#d83a14"/>
<rect x="151.35" y="917.55" width="1.45" height="1.45" fill="#d83a14"/>
<rect x="152.65" y="917.55" width="1.45" height="1.45" fill="#c01410"/>
<rect x="153.95" y="917.55" width="1.45" height="1.45" fill="#30b048"/>
<rect x="155.25" y="917.55" width="1.45" height="1.45" fill="#2aa444"/>
<rect x="156.55" y="917.55" width="1.45" height="1.45" fill="#2aa444"/>
<rect x="157.85" y="917.55" width="1.45" height="1.45" fill="#3a9ab0"/>
<rect x="139.65" y="918.85" width="1.45" height="1.45" fill="#2aa444"/>
<rect x="140.95" y="918.85" width="1.45" height="1.45" fill="#36b84e"/>
<rect x="142.25" y="918.85" width="1.45" height="1.45" fill="#3a9ab0"/>
<rect x="143.55" y="918.85" width="1.45" height="1.45" fill="#36b84e"/>
<rect x="144.85" y="918.85" width="1.45" height="1.45" fill="#30b048"/>
<rect x="146.15" y="918.85" width="1.45" height="1.45" fill="#2eac46"/>
<rect x="147.45" y="918.85" width="1.45" height="1.45" fill="#d42014"/>
<rect x="148.75" y="918.85" width="1.45" height="1.45" fill="#c81810"/>
<rect x="150.05" y="918.85" width="1.45" height="1.45" fill="#c81810"/>
<rect x="151.35" y="918.85" width="1.45" height="1.45" fill="#36b84e"/>
<rect x="152.65" y="918.85" width="1.45" height="1.45" fill="#30b048"/>
<rect x="153.95" y="918.85" width="1.45" height="1.45" fill="#e06a1a"/>
<rect x="155.25" y="918.85" width="1.45" height="1.45" fill="#2eac46"/>
<rect x="156.55" y="918.85" width="1.45" height="1.45" fill="#2eac46"/>
<rect x="157.85" y="918.85" width="1.45" height="1.45" fill="#2eac46"/>
<rect x="160.45" y="918.85" width="1.45" height="1.45" fill="#3070c0"/>
<rect x="139.65" y="920.15" width="1.45" height="1.45" fill="#3070c0"/>
<rect x="140.95" y="920.15" width="1.45" height="1.45" fill="#30b04c"/>
<rect x="142.25" y="920.15" width="1.45" height="1.45" fill="#36b84e"/>
<rect x="143.55" y="920.15" width="1.45" height="1.45" fill="#36b84e"/>
<rect x="144.85" y="920.15" width="1.45" height="1.45" fill="#d42014"/>
<rect x="146.15" y="920.15" width="1.45" height="1.45" fill="#e06a1a"/>
<rect x="147.45" y="920.15" width="1.45" height="1.45" fill="#2aa444"/>
<rect x="148.75" y="920.15" width="1.45" height="1.45" fill="#c01410"/>
<rect x="150.05" y="920.15" width="1.45" height="1.45" fill="#36b84e"/>
<rect x="151.35" y="920.15" width="1.45" height="1.45" fill="#36b84e"/>
<rect x="152.65" y="920.15" width="1.45" height="1.45" fill="#c01410"/>
<rect x="153.95" y="920.15" width="1.45" height="1.45" fill="#2aa444"/>
<rect x="155.25" y="920.15" width="1.45" height="1.45" fill="#c81810"/>
<rect x="156.55" y="920.15" width="1.45" height="1.45" fill="#2eac46"/>
<rect x="157.85" y="920.15" width="1.45" height="1.45" fill="#30b048"/>
<rect x="159.15" y="920.15" width="1.45" height="1.45" fill="#2aa444"/>
<rect x="160.45" y="920.15" width="1.45" height="1.45" fill="#30b04c"/>
<rect x="139.65" y="921.45" width="1.45" height="1.45" fill="#30b04c"/>
<rect x="140.95" y="921.45" width="1.45" height="1.45" fill="#2aa444"/>
<rect x="142.25" y="921.45" width="1.45" height="1.45" fill="#2aa444"/>
<rect x="143.55" y="921.45" width="1.45" height="1.45" fill="#2aa444"/>
<rect x="144.85" y="921.45" width="1.45" height="1.45" fill="#30b048"/>
<rect x="146.15" y="921.45" width="1.45" height="1.45" fill="#c01410"/>
<rect x="147.45" y="921.45" width="1.45" height="1.45" fill="#30b048"/>
<rect x="148.75" y="921.45" width="1.45" height="1.45" fill="#2aa444"/>
<rect x="150.05" y="921.45" width="1.45" height="1.45" fill="#c01410"/>
<rect x="151.35" y="921.45" width="1.45" height="1.45" fill="#d42014"/>
<rect x="152.65" y="921.45" width="1.45" height="1.45" fill="#c81810"/>
<rect x="153.95" y="921.45" width="1.45" height="1.45" fill="#c81810"/>
<rect x="155.25" y="921.45" width="1.45" height="1.45" fill="#2aa444"/>
<rect x="156.55" y="921.45" width="1.45" height="1.45" fill="#2eac46"/>
<rect x="157.85" y="921.45" width="1.45" height="1.45" fill="#30b048"/>
<rect x="159.15" y="921.45" width="1.45" height="1.45" fill="#36b84e"/>
<rect x="140.95" y="922.75" width="1.45" height="1.45" fill="#2ea85a"/>
<rect x="142.25" y="922.75" width="1.45" height="1.45" fill="#2eac46"/>
<rect x="143.55" y="922.75" width="1.45" height="1.45" fill="#30b048"/>
<rect x="144.85" y="922.75" width="1.45" height="1.45" fill="#2eac46"/>
<rect x="146.15" y="922.75" width="1.45" height="1.45" fill="#36b84e"/>
<rect x="147.45" y="922.75" width="1.45" height="1.45" fill="#30b048"/>
<rect x="148.75" y="922.75" width="1.45" height="1.45" fill="#2eac46"/>
<rect x="150.05" y="922.75" width="1.45" height="1.45" fill="#2eac46"/>
<rect x="151.35" y="922.75" width="1.45" height="1.45" fill="#c01410"/>
<rect x="152.65" y="922.75" width="1.45" height="1.45" fill="#d83a14"/>
<rect x="153.95" y="922.75" width="1.45" height="1.45" fill="#2aa444"/>
<rect x="155.25" y="922.75" width="1.45" height="1.45" fill="#2eac46"/>
<rect x="156.55" y="922.75" width="1.45" height="1.45" fill="#30b048"/>
<rect x="157.85" y="922.75" width="1.45" height="1.45" fill="#2eac46"/>
<rect x="159.15" y="922.75" width="1.45" height="1.45" fill="#30b04c"/>
<rect x="161.75" y="922.75" width="1.45" height="1.45" fill="#2a9a70"/>
<rect x="139.65" y="924.05" width="1.45" height="1.45" fill="#30b04c"/>
<rect x="140.95" y="924.05" width="1.45" height="1.45" fill="#3070c0"/>
<rect x="142.25" y="924.05" width="1.45" height="1.45" fill="#30b048"/>
<rect x="143.55" y="924.05" width="1.45" height="1.45" fill="#36b84e"/>
<rect x="144.85" y="924.05" width="1.45" height="1.45" fill="#2eac46"/>
<rect x="146.15" y="924.05" width="1.45" height="1.45" fill="#2eac46"/>
<rect x="147.45" y="924.05" width="1.45" height="1.45" fill="#2aa444"/>
<rect x="148.75" y="924.05" width="1.45" height="1.45" fill="#d83a14"/>
<rect x="150.05" y="924.05" width="1.45" height="1.45" fill="#2eac46"/>
<rect x="151.35" y="924.05" width="1.45" height="1.45" fill="#d83a14"/>
<rect x="152.65" y="924.05" width="1.45" height="1.45" fill="#2aa444"/>
<rect x="153.95" y="924.05" width="1.45" height="1.45" fill="#2eac46"/>
<rect x="155.25" y="924.05" width="1.45" height="1.45" fill="#2aa444"/>
<rect x="156.55" y="924.05" width="1.45" height="1.45" fill="#2aa444"/>
<rect x="157.85" y="924.05" width="1.45" height="1.45" fill="#30b04c"/>
<rect x="159.15" y="924.05" width="1.45" height="1.45" fill="#36b84e"/>
<rect x="161.75" y="924.05" width="1.45" height="1.45" fill="#2ea85a"/>
<rect x="142.25" y="925.35" width="1.45" height="1.45" fill="#3070c0"/>
<rect x="143.55" y="925.35" width="1.45" height="1.45" fill="#2aa444"/>
<rect x="144.85" y="925.35" width="1.45" height="1.45" fill="#36b84e"/>
<rect x="146.15" y="925.35" width="1.45" height="1.45" fill="#2eac46"/>
<rect x="147.45" y="925.35" width="1.45" height="1.45" fill="#30b048"/>
<rect x="148.75" y="925.35" width="1.45" height="1.45" fill="#c01410"/>
<rect x="150.05" y="925.35" width="1.45" height="1.45" fill="#2aa444"/>
<rect x="151.35" y="925.35" width="1.45" height="1.45" fill="#30b048"/>
<rect x="152.65" y="925.35" width="1.45" height="1.45" fill="#2eac46"/>
<rect x="153.95" y="925.35" width="1.45" height="1.45" fill="#36b84e"/>
<rect x="155.25" y="925.35" width="1.45" height="1.45" fill="#36b84e"/>
<rect x="156.55" y="925.35" width="1.45" height="1.45" fill="#2aa444"/>
<rect x="157.85" y="925.35" width="1.45" height="1.45" fill="#30b048"/>
<rect x="159.15" y="925.35" width="1.45" height="1.45" fill="#3a9ab0"/>
<rect x="143.55" y="926.65" width="1.45" height="1.45" fill="#30b048"/>
<rect x="144.85" y="926.65" width="1.45" height="1.45" fill="#2ea85a"/>
<rect x="146.15" y="926.65" width="1.45" height="1.45" fill="#2aa444"/>
<rect x="147.45" y="926.65" width="1.45" height="1.45" fill="#2aa444"/>
<rect x="148.75" y="926.65" width="1.45" height="1.45" fill="#36b84e"/>
<rect x="150.05" y="926.65" width="1.45" height="1.45" fill="#30b048"/>
<rect x="151.35" y="926.65" width="1.45" height="1.45" fill="#30b048"/>
<rect x="152.65" y="926.65" width="1.45" height="1.45" fill="#30b048"/>
<rect x="153.95" y="926.65" width="1.45" height="1.45" fill="#2eac46"/>
<rect x="155.25" y="926.65" width="1.45" height="1.45" fill="#2eac46"/>
<rect x="156.55" y="926.65" width="1.45" height="1.45" fill="#2aa444"/>
<rect x="157.85" y="926.65" width="1.45" height="1.45" fill="#2ea85a"/>
<rect x="142.25" y="927.95" width="1.45" height="1.45" fill="#3070c0"/>
<rect x="144.85" y="927.95" width="1.45" height="1.45" fill="#2aa444"/>
<rect x="146.15" y="927.95" width="1.45" height="1.45" fill="#36b84e"/>
<rect x="147.45" y="927.95" width="1.45" height="1.45" fill="#2ea85a"/>
<rect x="148.75" y="927.95" width="1.45" height="1.45" fill="#36b84e"/>
<rect x="150.05" y="927.95" width="1.45" height="1.45" fill="#3a9ab0"/>
<rect x="151.35" y="927.95" width="1.45" height="1.45" fill="#30b04c"/>
<rect x="152.65" y="927.95" width="1.45" height="1.45" fill="#2aa444"/>
<rect x="153.95" y="927.95" width="1.45" height="1.45" fill="#2a9a70"/>
<rect x="143.55" y="929.25" width="1.45" height="1.45" fill="#3a9ab0"/>
<rect x="146.15" y="929.25" width="1.45" height="1.45" fill="#30b048"/>
<rect x="147.45" y="929.25" width="1.45" height="1.45" fill="#2ea85a"/>
<rect x="148.75" y="929.25" width="1.45" height="1.45" fill="#3a9ab0"/>
<rect x="150.05" y="929.25" width="1.45" height="1.45" fill="#30b048"/>
<rect x="151.35" y="929.25" width="1.45" height="1.45" fill="#30b048"/>
<rect x="152.65" y="929.25" width="1.45" height="1.45" fill="#36b84e"/>
<rect x="155.25" y="929.25" width="1.45" height="1.45" fill="#3070c0"/>
<rect x="147.45" y="930.55" width="1.45" height="1.45" fill="#30b04c"/>
<rect x="150.05" y="930.55" width="1.45" height="1.45" fill="#2ea85a"/>
<rect x="151.35" y="930.55" width="1.45" height="1.45" fill="#2ea85a"/>
</g>
<rect x="171.93" y="904.59" width="1.20" height="1.20" fill="#4a6ad0" stroke=" opacity="0.6"" stroke-width="0"/>
<rect x="152.02" y="906.12" width="1.20" height="1.20" fill="#48a0c0" stroke=" opacity="0.6"" stroke-width="0"/>
<rect x="152.69" y="905.39" width="1.20" height="1.20" fill="#5a86d8" stroke=" opacity="0.6"" stroke-width="0"/>
<rect x="165.26" y="922.51" width="1.20" height="1.20" fill="#48a0c0" stroke=" opacity="0.6"" stroke-width="0"/>
<rect x="169.02" y="921.11" width="1.20" height="1.20" fill="#4a6ad0" stroke=" opacity="0.6"" stroke-width="0"/>
<rect x="164.52" y="907.08" width="1.20" height="1.20" fill="#48a0c0" stroke=" opacity="0.6"" stroke-width="0"/>
<rect x="138.76" y="905.27" width="1.20" height="1.20" fill="#5a86d8" stroke=" opacity="0.6"" stroke-width="0"/>
<rect x="142.30" y="907.97" width="1.20" height="1.20" fill="#48a0c0" stroke=" opacity="0.6"" stroke-width="0"/>
<rect x="139.23" y="913.49" width="1.20" height="1.20" fill="#3e5ac8" stroke=" opacity="0.6"" stroke-width="0"/>
<rect x="159.82" y="930.37" width="1.20" height="1.20" fill="#48a0c0" stroke=" opacity="0.6"" stroke-width="0"/>
<rect x="162.26" y="913.47" width="1.20" height="1.20" fill="#48a0c0" stroke=" opacity="0.6"" stroke-width="0"/>
<rect x="124.31" y="921.50" width="1.20" height="1.20" fill="#48a0c0" stroke=" opacity="0.6"" stroke-width="0"/>
<rect x="135.80" y="910.38" width="1.20" height="1.20" fill="#3e5ac8" stroke=" opacity="0.6"" stroke-width="0"/>
<rect x="148.94" y="936.76" width="1.20" height="1.20" fill="#5a86d8" stroke=" opacity="0.6"" stroke-width="0"/>
<rect x="164.05" y="926.22" width="1.20" height="1.20" fill="#3e5ac8" stroke=" opacity="0.6"" stroke-width="0"/>
<rect x="131.63" y="919.91" width="1.20" height="1.20" fill="#5a86d8" stroke=" opacity="0.6"" stroke-width="0"/>
<rect x="137.92" y="906.98" width="1.20" height="1.20" fill="#48a0c0" stroke=" opacity="0.6"" stroke-width="0"/>
<rect x="144.04" y="930.80" width="1.20" height="1.20" fill="#5a86d8" stroke=" opacity="0.6"" stroke-width="0"/>
<rect x="139.29" y="927.78" width="1.20" height="1.20" fill="#48a0c0" stroke=" opacity="0.6"" stroke-width="0"/>
<rect x="156.16" y="906.56" width="1.20" height="1.20" fill="#48a0c0" stroke=" opacity="0.6"" stroke-width="0"/>
<rect x="149.01" y="897.07" width="1.20" height="1.20" fill="#3e5ac8" stroke=" opacity="0.6"" stroke-width="0"/>
<rect x="163.51" y="935.61" width="1.20" height="1.20" fill="#48a0c0" stroke=" opacity="0.6"" stroke-width="0"/>
<rect x="130.51" y="922.35" width="1.20" height="1.20" fill="#5a86d8" stroke=" opacity="0.6"" stroke-width="0"/>
<rect x="150.51" y="900.46" width="1.20" height="1.20" fill="#4a6ad0" stroke=" opacity="0.6"" stroke-width="0"/>
<g filter="url(#bl4)">
<rect x="207.15" y="908.15" width="1.45" height="1.45" fill="#2a9a70"/>
<rect x="212.35" y="909.45" width="1.45" height="1.45" fill="#30b04c"/>
<rect x="214.95" y="909.45" width="1.45" height="1.45" fill="#3070c0"/>
<rect x="204.55" y="910.75" width="1.45" height="1.45" fill="#3a9ab0"/>
<rect x="205.85" y="910.75" width="1.45" height="1.45" fill="#3070c0"/>
<rect x="207.15" y="910.75" width="1.45" height="1.45" fill="#3070c0"/>
<rect x="208.45" y="910.75" width="1.45" height="1.45" fill="#2ea85a"/>
<rect x="209.75" y="910.75" width="1.45" height="1.45" fill="#30b04c"/>
<rect x="211.05" y="910.75" width="1.45" height="1.45" fill="#30b04c"/>
<rect x="212.35" y="910.75" width="1.45" height="1.45" fill="#3a9ab0"/>
<rect x="213.65" y="910.75" width="1.45" height="1.45" fill="#3a9ab0"/>
<rect x="214.95" y="910.75" width="1.45" height="1.45" fill="#2aa444"/>
<rect x="217.55" y="910.75" width="1.45" height="1.45" fill="#3070c0"/>
<rect x="218.85" y="910.75" width="1.45" height="1.45" fill="#2ea85a"/>
<rect x="201.95" y="912.05" width="1.45" height="1.45" fill="#3070c0"/>
<rect x="203.25" y="912.05" width="1.45" height="1.45" fill="#2ea85a"/>
<rect x="205.85" y="912.05" width="1.45" height="1.45" fill="#2ea85a"/>
<rect x="207.15" y="912.05" width="1.45" height="1.45" fill="#3070c0"/>
<rect x="208.45" y="912.05" width="1.45" height="1.45" fill="#30b048"/>
<rect x="209.75" y="912.05" width="1.45" height="1.45" fill="#2eac46"/>
<rect x="211.05" y="912.05" width="1.45" height="1.45" fill="#2a9a70"/>
<rect x="212.35" y="912.05" width="1.45" height="1.45" fill="#2eac46"/>
<rect x="213.65" y="912.05" width="1.45" height="1.45" fill="#36b84e"/>
<rect x="214.95" y="912.05" width="1.45" height="1.45" fill="#30b048"/>
<rect x="216.25" y="912.05" width="1.45" height="1.45" fill="#3a9ab0"/>
<rect x="203.25" y="913.35" width="1.45" height="1.45" fill="#2a9a70"/>
<rect x="204.55" y="913.35" width="1.45" height="1.45" fill="#3a9ab0"/>
<rect x="205.85" y="913.35" width="1.45" height="1.45" fill="#2aa444"/>
<rect x="207.15" y="913.35" width="1.45" height="1.45" fill="#2eac46"/>
<rect x="208.45" y="913.35" width="1.45" height="1.45" fill="#30b048"/>
<rect x="209.75" y="913.35" width="1.45" height="1.45" fill="#2aa444"/>
<rect x="211.05" y="913.35" width="1.45" height="1.45" fill="#2aa444"/>
<rect x="212.35" y="913.35" width="1.45" height="1.45" fill="#30b048"/>
<rect x="213.65" y="913.35" width="1.45" height="1.45" fill="#2eac46"/>
<rect x="214.95" y="913.35" width="1.45" height="1.45" fill="#2aa444"/>
<rect x="216.25" y="913.35" width="1.45" height="1.45" fill="#2aa444"/>
<rect x="217.55" y="913.35" width="1.45" height="1.45" fill="#2aa444"/>
<rect x="218.85" y="913.35" width="1.45" height="1.45" fill="#2aa444"/>
<rect x="220.15" y="913.35" width="1.45" height="1.45" fill="#2ea85a"/>
<rect x="203.25" y="914.65" width="1.45" height="1.45" fill="#3070c0"/>
<rect x="204.55" y="914.65" width="1.45" height="1.45" fill="#30b048"/>
<rect x="205.85" y="914.65" width="1.45" height="1.45" fill="#2eac46"/>
<rect x="207.15" y="914.65" width="1.45" height="1.45" fill="#30b048"/>
<rect x="208.45" y="914.65" width="1.45" height="1.45" fill="#2eac46"/>
<rect x="209.75" y="914.65" width="1.45" height="1.45" fill="#36b84e"/>
<rect x="211.05" y="914.65" width="1.45" height="1.45" fill="#36b84e"/>
<rect x="212.35" y="914.65" width="1.45" height="1.45" fill="#36b84e"/>
<rect x="213.65" y="914.65" width="1.45" height="1.45" fill="#2eac46"/>
<rect x="214.95" y="914.65" width="1.45" height="1.45" fill="#2eac46"/>
<rect x="216.25" y="914.65" width="1.45" height="1.45" fill="#2a9a70"/>
<rect x="217.55" y="914.65" width="1.45" height="1.45" fill="#36b84e"/>
<rect x="218.85" y="914.65" width="1.45" height="1.45" fill="#30b048"/>
<rect x="220.15" y="914.65" width="1.45" height="1.45" fill="#2ea85a"/>
<rect x="221.45" y="914.65" width="1.45" height="1.45" fill="#2ea85a"/>
<rect x="200.65" y="915.95" width="1.45" height="1.45" fill="#2a9a70"/>
<rect x="203.25" y="915.95" width="1.45" height="1.45" fill="#2a9a70"/>
<rect x="204.55" y="915.95" width="1.45" height="1.45" fill="#2aa444"/>
<rect x="205.85" y="915.95" width="1.45" height="1.45" fill="#2aa444"/>
<rect x="207.15" y="915.95" width="1.45" height="1.45" fill="#2eac46"/>
<rect x="208.45" y="915.95" width="1.45" height="1.45" fill="#2aa444"/>
<rect x="209.75" y="915.95" width="1.45" height="1.45" fill="#2aa444"/>
<rect x="211.05" y="915.95" width="1.45" height="1.45" fill="#30b048"/>
<rect x="212.35" y="915.95" width="1.45" height="1.45" fill="#30b048"/>
<rect x="213.65" y="915.95" width="1.45" height="1.45" fill="#30b048"/>
<rect x="214.95" y="915.95" width="1.45" height="1.45" fill="#2eac46"/>
<rect x="216.25" y="915.95" width="1.45" height="1.45" fill="#2eac46"/>
<rect x="217.55" y="915.95" width="1.45" height="1.45" fill="#30b048"/>
<rect x="218.85" y="915.95" width="1.45" height="1.45" fill="#2eac46"/>
<rect x="201.95" y="917.25" width="1.45" height="1.45" fill="#2a9a70"/>
<rect x="203.25" y="917.25" width="1.45" height="1.45" fill="#30b048"/>
<rect x="204.55" y="917.25" width="1.45" height="1.45" fill="#2eac46"/>
<rect x="205.85" y="917.25" width="1.45" height="1.45" fill="#30b048"/>
<rect x="207.15" y="917.25" width="1.45" height="1.45" fill="#30b048"/>
<rect x="208.45" y="917.25" width="1.45" height="1.45" fill="#36b84e"/>
<rect x="209.75" y="917.25" width="1.45" height="1.45" fill="#36b84e"/>
<rect x="211.05" y="917.25" width="1.45" height="1.45" fill="#2aa444"/>
<rect x="212.35" y="917.25" width="1.45" height="1.45" fill="#e06a1a"/>
<rect x="213.65" y="917.25" width="1.45" height="1.45" fill="#30b048"/>
<rect x="214.95" y="917.25" width="1.45" height="1.45" fill="#30b048"/>
<rect x="216.25" y="917.25" width="1.45" height="1.45" fill="#36b84e"/>
<rect x="217.55" y="917.25" width="1.45" height="1.45" fill="#36b84e"/>
<rect x="218.85" y="917.25" width="1.45" height="1.45" fill="#2eac46"/>
<rect x="220.15" y="917.25" width="1.45" height="1.45" fill="#3a9ab0"/>
<rect x="221.45" y="917.25" width="1.45" height="1.45" fill="#3070c0"/>
<rect x="199.35" y="918.55" width="1.45" height="1.45" fill="#3a9ab0"/>
<rect x="200.65" y="918.55" width="1.45" height="1.45" fill="#30b04c"/>
<rect x="201.95" y="918.55" width="1.45" height="1.45" fill="#2ea85a"/>
<rect x="203.25" y="918.55" width="1.45" height="1.45" fill="#30b048"/>
<rect x="204.55" y="918.55" width="1.45" height="1.45" fill="#2eac46"/>
<rect x="205.85" y="918.55" width="1.45" height="1.45" fill="#2eac46"/>
<rect x="207.15" y="918.55" width="1.45" height="1.45" fill="#36b84e"/>
<rect x="208.45" y="918.55" width="1.45" height="1.45" fill="#2eac46"/>
<rect x="209.75" y="918.55" width="1.45" height="1.45" fill="#2eac46"/>
<rect x="211.05" y="918.55" width="1.45" height="1.45" fill="#2aa444"/>
<rect x="212.35" y="918.55" width="1.45" height="1.45" fill="#2aa444"/>
<rect x="213.65" y="918.55" width="1.45" height="1.45" fill="#d83a14"/>
<rect x="214.95" y="918.55" width="1.45" height="1.45" fill="#30b048"/>
<rect x="216.25" y="918.55" width="1.45" height="1.45" fill="#2eac46"/>
<rect x="217.55" y="918.55" width="1.45" height="1.45" fill="#2eac46"/>
<rect x="218.85" y="918.55" width="1.45" height="1.45" fill="#36b84e"/>
<rect x="220.15" y="918.55" width="1.45" height="1.45" fill="#30b04c"/>
<rect x="221.45" y="918.55" width="1.45" height="1.45" fill="#2eac46"/>
<rect x="222.75" y="918.55" width="1.45" height="1.45" fill="#3070c0"/>
<rect x="199.35" y="919.85" width="1.45" height="1.45" fill="#3070c0"/>
<rect x="200.65" y="919.85" width="1.45" height="1.45" fill="#2a9a70"/>
<rect x="201.95" y="919.85" width="1.45" height="1.45" fill="#30b04c"/>
<rect x="203.25" y="919.85" width="1.45" height="1.45" fill="#2eac46"/>
<rect x="204.55" y="919.85" width="1.45" height="1.45" fill="#30b048"/>
<rect x="205.85" y="919.85" width="1.45" height="1.45" fill="#2eac46"/>
<rect x="207.15" y="919.85" width="1.45" height="1.45" fill="#30b048"/>
<rect x="208.45" y="919.85" width="1.45" height="1.45" fill="#2aa444"/>
<rect x="209.75" y="919.85" width="1.45" height="1.45" fill="#2aa444"/>
<rect x="211.05" y="919.85" width="1.45" height="1.45" fill="#d42014"/>
<rect x="212.35" y="919.85" width="1.45" height="1.45" fill="#2aa444"/>
<rect x="213.65" y="919.85" width="1.45" height="1.45" fill="#36b84e"/>
<rect x="214.95" y="919.85" width="1.45" height="1.45" fill="#2eac46"/>
<rect x="216.25" y="919.85" width="1.45" height="1.45" fill="#36b84e"/>
<rect x="217.55" y="919.85" width="1.45" height="1.45" fill="#2eac46"/>
<rect x="218.85" y="919.85" width="1.45" height="1.45" fill="#30b048"/>
<rect x="220.15" y="919.85" width="1.45" height="1.45" fill="#30b048"/>
<rect x="221.45" y="919.85" width="1.45" height="1.45" fill="#3a9ab0"/>
<rect x="199.35" y="921.15" width="1.45" height="1.45" fill="#2ea85a"/>
<rect x="200.65" y="921.15" width="1.45" height="1.45" fill="#2ea85a"/>
<rect x="203.25" y="921.15" width="1.45" height="1.45" fill="#2a9a70"/>
<rect x="204.55" y="921.15" width="1.45" height="1.45" fill="#2aa444"/>
<rect x="205.85" y="921.15" width="1.45" height="1.45" fill="#30b048"/>
<rect x="207.15" y="921.15" width="1.45" height="1.45" fill="#2eac46"/>
<rect x="208.45" y="921.15" width="1.45" height="1.45" fill="#2aa444"/>
<rect x="209.75" y="921.15" width="1.45" height="1.45" fill="#d83a14"/>
<rect x="211.05" y="921.15" width="1.45" height="1.45" fill="#30b048"/>
<rect x="212.35" y="921.15" width="1.45" height="1.45" fill="#2eac46"/>
<rect x="213.65" y="921.15" width="1.45" height="1.45" fill="#c01410"/>
<rect x="214.95" y="921.15" width="1.45" height="1.45" fill="#36b84e"/>
<rect x="216.25" y="921.15" width="1.45" height="1.45" fill="#36b84e"/>
<rect x="217.55" y="921.15" width="1.45" height="1.45" fill="#2aa444"/>
<rect x="218.85" y="921.15" width="1.45" height="1.45" fill="#30b048"/>
<rect x="200.65" y="922.45" width="1.45" height="1.45" fill="#30b04c"/>
<rect x="201.95" y="922.45" width="1.45" height="1.45" fill="#3a9ab0"/>
<rect x="203.25" y="922.45" width="1.45" height="1.45" fill="#3070c0"/>
<rect x="204.55" y="922.45" width="1.45" height="1.45" fill="#30b048"/>
<rect x="205.85" y="922.45" width="1.45" height="1.45" fill="#2aa444"/>
<rect x="207.15" y="922.45" width="1.45" height="1.45" fill="#36b84e"/>
<rect x="208.45" y="922.45" width="1.45" height="1.45" fill="#2eac46"/>
<rect x="209.75" y="922.45" width="1.45" height="1.45" fill="#2eac46"/>
<rect x="211.05" y="922.45" width="1.45" height="1.45" fill="#2aa444"/>
<rect x="212.35" y="922.45" width="1.45" height="1.45" fill="#30b048"/>
<rect x="213.65" y="922.45" width="1.45" height="1.45" fill="#2aa444"/>
<rect x="214.95" y="922.45" width="1.45" height="1.45" fill="#36b84e"/>
<rect x="216.25" y="922.45" width="1.45" height="1.45" fill="#30b048"/>
<rect x="217.55" y="922.45" width="1.45" height="1.45" fill="#2aa444"/>
<rect x="218.85" y="922.45" width="1.45" height="1.45" fill="#3070c0"/>
<rect x="220.15" y="922.45" width="1.45" height="1.45" fill="#2aa444"/>
<rect x="199.35" y="923.75" width="1.45" height="1.45" fill="#3a9ab0"/>
<rect x="200.65" y="923.75" width="1.45" height="1.45" fill="#3a9ab0"/>
<rect x="201.95" y="923.75" width="1.45" height="1.45" fill="#3070c0"/>
<rect x="203.25" y="923.75" width="1.45" height="1.45" fill="#3070c0"/>
<rect x="204.55" y="923.75" width="1.45" height="1.45" fill="#3a9ab0"/>
<rect x="205.85" y="923.75" width="1.45" height="1.45" fill="#30b048"/>
<rect x="207.15" y="923.75" width="1.45" height="1.45" fill="#36b84e"/>
<rect x="208.45" y="923.75" width="1.45" height="1.45" fill="#30b048"/>
<rect x="209.75" y="923.75" width="1.45" height="1.45" fill="#2eac46"/>
<rect x="211.05" y="923.75" width="1.45" height="1.45" fill="#36b84e"/>
<rect x="212.35" y="923.75" width="1.45" height="1.45" fill="#2aa444"/>
<rect x="213.65" y="923.75" width="1.45" height="1.45" fill="#2aa444"/>
<rect x="214.95" y="923.75" width="1.45" height="1.45" fill="#2eac46"/>
<rect x="216.25" y="923.75" width="1.45" height="1.45" fill="#2aa444"/>
<rect x="217.55" y="923.75" width="1.45" height="1.45" fill="#2aa444"/>
<rect x="218.85" y="923.75" width="1.45" height="1.45" fill="#30b04c"/>
<rect x="200.65" y="925.05" width="1.45" height="1.45" fill="#30b04c"/>
<rect x="203.25" y="925.05" width="1.45" height="1.45" fill="#36b84e"/>
<rect x="204.55" y="925.05" width="1.45" height="1.45" fill="#36b84e"/>
<rect x="205.85" y="925.05" width="1.45" height="1.45" fill="#2eac46"/>
<rect x="207.15" y="925.05" width="1.45" height="1.45" fill="#2aa444"/>
<rect x="208.45" y="925.05" width="1.45" height="1.45" fill="#2aa444"/>
<rect x="209.75" y="925.05" width="1.45" height="1.45" fill="#30b048"/>
<rect x="211.05" y="925.05" width="1.45" height="1.45" fill="#30b048"/>
<rect x="212.35" y="925.05" width="1.45" height="1.45" fill="#2eac46"/>
<rect x="213.65" y="925.05" width="1.45" height="1.45" fill="#36b84e"/>
<rect x="214.95" y="925.05" width="1.45" height="1.45" fill="#2eac46"/>
<rect x="216.25" y="925.05" width="1.45" height="1.45" fill="#36b84e"/>
<rect x="217.55" y="925.05" width="1.45" height="1.45" fill="#30b04c"/>
<rect x="218.85" y="925.05" width="1.45" height="1.45" fill="#2a9a70"/>
<rect x="220.15" y="925.05" width="1.45" height="1.45" fill="#30b04c"/>
<rect x="221.45" y="925.05" width="1.45" height="1.45" fill="#30b04c"/>
<rect x="201.95" y="926.35" width="1.45" height="1.45" fill="#2ea85a"/>
<rect x="203.25" y="926.35" width="1.45" height="1.45" fill="#3070c0"/>
<rect x="204.55" y="926.35" width="1.45" height="1.45" fill="#36b84e"/>
<rect x="205.85" y="926.35" width="1.45" height="1.45" fill="#3a9ab0"/>
<rect x="207.15" y="926.35" width="1.45" height="1.45" fill="#2eac46"/>
<rect x="208.45" y="926.35" width="1.45" height="1.45" fill="#36b84e"/>
<rect x="209.75" y="926.35" width="1.45" height="1.45" fill="#36b84e"/>
<rect x="211.05" y="926.35" width="1.45" height="1.45" fill="#2eac46"/>
<rect x="212.35" y="926.35" width="1.45" height="1.45" fill="#2aa444"/>
<rect x="213.65" y="926.35" width="1.45" height="1.45" fill="#2eac46"/>
<rect x="214.95" y="926.35" width="1.45" height="1.45" fill="#2aa444"/>
<rect x="216.25" y="926.35" width="1.45" height="1.45" fill="#2ea85a"/>
<rect x="217.55" y="926.35" width="1.45" height="1.45" fill="#2ea85a"/>
<rect x="218.85" y="926.35" width="1.45" height="1.45" fill="#3070c0"/>
<rect x="201.95" y="927.65" width="1.45" height="1.45" fill="#3a9ab0"/>
<rect x="204.55" y="927.65" width="1.45" height="1.45" fill="#3a9ab0"/>
<rect x="205.85" y="927.65" width="1.45" height="1.45" fill="#2eac46"/>
<rect x="207.15" y="927.65" width="1.45" height="1.45" fill="#2aa444"/>
<rect x="208.45" y="927.65" width="1.45" height="1.45" fill="#2aa444"/>
<rect x="209.75" y="927.65" width="1.45" height="1.45" fill="#2aa444"/>
<rect x="211.05" y="927.65" width="1.45" height="1.45" fill="#2eac46"/>
<rect x="212.35" y="927.65" width="1.45" height="1.45" fill="#30b048"/>
<rect x="213.65" y="927.65" width="1.45" height="1.45" fill="#2ea85a"/>
<rect x="214.95" y="927.65" width="1.45" height="1.45" fill="#30b048"/>
<rect x="216.25" y="927.65" width="1.45" height="1.45" fill="#2eac46"/>
<rect x="217.55" y="927.65" width="1.45" height="1.45" fill="#30b048"/>
<rect x="220.15" y="927.65" width="1.45" height="1.45" fill="#2a9a70"/>
<rect x="204.55" y="928.95" width="1.45" height="1.45" fill="#2a9a70"/>
<rect x="205.85" y="928.95" width="1.45" height="1.45" fill="#30b04c"/>
<rect x="208.45" y="928.95" width="1.45" height="1.45" fill="#36b84e"/>
<rect x="209.75" y="928.95" width="1.45" height="1.45" fill="#2eac46"/>
<rect x="212.35" y="928.95" width="1.45" height="1.45" fill="#2ea85a"/>
<rect x="213.65" y="928.95" width="1.45" height="1.45" fill="#36b84e"/>
<rect x="216.25" y="928.95" width="1.45" height="1.45" fill="#3070c0"/>
<rect x="217.55" y="928.95" width="1.45" height="1.45" fill="#3a9ab0"/>
<rect x="209.75" y="930.25" width="1.45" height="1.45" fill="#30b04c"/>
<rect x="212.35" y="930.25" width="1.45" height="1.45" fill="#3070c0"/>
<rect x="213.65" y="930.25" width="1.45" height="1.45" fill="#3a9ab0"/>
<rect x="209.75" y="931.55" width="1.45" height="1.45" fill="#2a9a70"/>
</g>
<rect x="220.26" y="910.53" width="1.20" height="1.20" fill="#3e5ac8" stroke=" opacity="0.6"" stroke-width="0"/>
<rect x="221.00" y="935.42" width="1.20" height="1.20" fill="#48a0c0" stroke=" opacity="0.6"" stroke-width="0"/>
<rect x="204.05" y="911.23" width="1.20" height="1.20" fill="#5a86d8" stroke=" opacity="0.6"" stroke-width="0"/>
<rect x="203.48" y="911.74" width="1.20" height="1.20" fill="#5a86d8" stroke=" opacity="0.6"" stroke-width="0"/>
<rect x="201.77" y="905.23" width="1.20" height="1.20" fill="#5a86d8" stroke=" opacity="0.6"" stroke-width="0"/>
<rect x="192.76" y="923.28" width="1.20" height="1.20" fill="#4a6ad0" stroke=" opacity="0.6"" stroke-width="0"/>
<rect x="228.34" y="928.91" width="1.20" height="1.20" fill="#5a86d8" stroke=" opacity="0.6"" stroke-width="0"/>
<rect x="187.07" y="929.67" width="1.20" height="1.20" fill="#48a0c0" stroke=" opacity="0.6"" stroke-width="0"/>
<rect x="212.27" y="945.58" width="1.20" height="1.20" fill="#3e5ac8" stroke=" opacity="0.6"" stroke-width="0"/>
<rect x="207.02" y="940.84" width="1.20" height="1.20" fill="#4a6ad0" stroke=" opacity="0.6"" stroke-width="0"/>
<rect x="230.27" y="933.68" width="1.20" height="1.20" fill="#5a86d8" stroke=" opacity="0.6"" stroke-width="0"/>
<rect x="189.96" y="907.92" width="1.20" height="1.20" fill="#48a0c0" stroke=" opacity="0.6"" stroke-width="0"/>
<rect x="201.28" y="897.04" width="1.20" height="1.20" fill="#3e5ac8" stroke=" opacity="0.6"" stroke-width="0"/>
<rect x="219.90" y="901.30" width="1.20" height="1.20" fill="#3e5ac8" stroke=" opacity="0.6"" stroke-width="0"/>
<rect x="212.66" y="935.72" width="1.20" height="1.20" fill="#4a6ad0" stroke=" opacity="0.6"" stroke-width="0"/>
<rect x="234.35" y="931.01" width="1.20" height="1.20" fill="#5a86d8" stroke=" opacity="0.6"" stroke-width="0"/>
<rect x="191.87" y="909.92" width="1.20" height="1.20" fill="#48a0c0" stroke=" opacity="0.6"" stroke-width="0"/>
<rect x="190.87" y="904.01" width="1.20" height="1.20" fill="#5a86d8" stroke=" opacity="0.6"" stroke-width="0"/>
<rect x="203.32" y="908.68" width="1.20" height="1.20" fill="#4a6ad0" stroke=" opacity="0.6"" stroke-width="0"/>
<rect x="198.89" y="923.27" width="1.20" height="1.20" fill="#4a6ad0" stroke=" opacity="0.6"" stroke-width="0"/>
<rect x="226.77" y="921.72" width="1.20" height="1.20" fill="#4a6ad0" stroke=" opacity="0.6"" stroke-width="0"/>
<rect x="225.43" y="924.09" width="1.20" height="1.20" fill="#3e5ac8" stroke=" opacity="0.6"" stroke-width="0"/>
<rect x="210.49" y="896.92" width="1.20" height="1.20" fill="#48a0c0" stroke=" opacity="0.6"" stroke-width="0"/>
<rect x="233.12" y="906.19" width="1.20" height="1.20" fill="#3e5ac8" stroke=" opacity="0.6"" stroke-width="0"/>
<g filter="url(#bl4)">
<rect x="269.85" y="908.35" width="1.45" height="1.45" fill="#3070c0"/>
<rect x="267.25" y="909.65" width="1.45" height="1.45" fill="#2ea85a"/>
<rect x="272.45" y="909.65" width="1.45" height="1.45" fill="#2ea85a"/>
<rect x="265.95" y="910.95" width="1.45" height="1.45" fill="#2ea85a"/>
<rect x="267.25" y="910.95" width="1.45" height="1.45" fill="#30b04c"/>
<rect x="268.55" y="910.95" width="1.45" height="1.45" fill="#2aa444"/>
<rect x="269.85" y="910.95" width="1.45" height="1.45" fill="#30b048"/>
<rect x="271.15" y="910.95" width="1.45" height="1.45" fill="#30b04c"/>
<rect x="272.45" y="910.95" width="1.45" height="1.45" fill="#2eac46"/>
<rect x="273.75" y="910.95" width="1.45" height="1.45" fill="#2eac46"/>
<rect x="275.05" y="910.95" width="1.45" height="1.45" fill="#30b048"/>
<rect x="264.65" y="912.25" width="1.45" height="1.45" fill="#3070c0"/>
<rect x="265.95" y="912.25" width="1.45" height="1.45" fill="#3a9ab0"/>
<rect x="267.25" y="912.25" width="1.45" height="1.45" fill="#2aa444"/>
<rect x="268.55" y="912.25" width="1.45" height="1.45" fill="#2eac46"/>
<rect x="269.85" y="912.25" width="1.45" height="1.45" fill="#2eac46"/>
<rect x="271.15" y="912.25" width="1.45" height="1.45" fill="#36b84e"/>
<rect x="272.45" y="912.25" width="1.45" height="1.45" fill="#2eac46"/>
<rect x="273.75" y="912.25" width="1.45" height="1.45" fill="#30b048"/>
<rect x="275.05" y="912.25" width="1.45" height="1.45" fill="#2eac46"/>
<rect x="276.35" y="912.25" width="1.45" height="1.45" fill="#2eac46"/>
<rect x="277.65" y="912.25" width="1.45" height="1.45" fill="#3070c0"/>
<rect x="278.95" y="912.25" width="1.45" height="1.45" fill="#30b04c"/>
<rect x="280.25" y="912.25" width="1.45" height="1.45" fill="#2ea85a"/>
<rect x="281.55" y="912.25" width="1.45" height="1.45" fill="#2a9a70"/>
<rect x="265.95" y="913.55" width="1.45" height="1.45" fill="#3070c0"/>
<rect x="267.25" y="913.55" width="1.45" height="1.45" fill="#3a9ab0"/>
<rect x="268.55" y="913.55" width="1.45" height="1.45" fill="#2eac46"/>
<rect x="269.85" y="913.55" width="1.45" height="1.45" fill="#2aa444"/>
<rect x="271.15" y="913.55" width="1.45" height="1.45" fill="#2aa444"/>
<rect x="272.45" y="913.55" width="1.45" height="1.45" fill="#2aa444"/>
<rect x="273.75" y="913.55" width="1.45" height="1.45" fill="#30b048"/>
<rect x="275.05" y="913.55" width="1.45" height="1.45" fill="#36b84e"/>
<rect x="276.35" y="913.55" width="1.45" height="1.45" fill="#30b048"/>
<rect x="277.65" y="913.55" width="1.45" height="1.45" fill="#2eac46"/>
<rect x="278.95" y="913.55" width="1.45" height="1.45" fill="#2eac46"/>
<rect x="281.55" y="913.55" width="1.45" height="1.45" fill="#3070c0"/>
<rect x="264.65" y="914.85" width="1.45" height="1.45" fill="#2eac46"/>
<rect x="265.95" y="914.85" width="1.45" height="1.45" fill="#30b048"/>
<rect x="267.25" y="914.85" width="1.45" height="1.45" fill="#2eac46"/>
<rect x="268.55" y="914.85" width="1.45" height="1.45" fill="#2aa444"/>
<rect x="269.85" y="914.85" width="1.45" height="1.45" fill="#2eac46"/>
<rect x="271.15" y="914.85" width="1.45" height="1.45" fill="#30b048"/>
<rect x="272.45" y="914.85" width="1.45" height="1.45" fill="#36b84e"/>
<rect x="273.75" y="914.85" width="1.45" height="1.45" fill="#2eac46"/>
<rect x="275.05" y="914.85" width="1.45" height="1.45" fill="#2eac46"/>
<rect x="276.35" y="914.85" width="1.45" height="1.45" fill="#36b84e"/>
<rect x="277.65" y="914.85" width="1.45" height="1.45" fill="#30b048"/>
<rect x="278.95" y="914.85" width="1.45" height="1.45" fill="#2eac46"/>
<rect x="280.25" y="914.85" width="1.45" height="1.45" fill="#2a9a70"/>
<rect x="281.55" y="914.85" width="1.45" height="1.45" fill="#2ea85a"/>
<rect x="282.85" y="914.85" width="1.45" height="1.45" fill="#2a9a70"/>
<rect x="263.35" y="916.15" width="1.45" height="1.45" fill="#3a9ab0"/>
<rect x="264.65" y="916.15" width="1.45" height="1.45" fill="#36b84e"/>
<rect x="265.95" y="916.15" width="1.45" height="1.45" fill="#2aa444"/>
<rect x="267.25" y="916.15" width="1.45" height="1.45" fill="#2eac46"/>
<rect x="268.55" y="916.15" width="1.45" height="1.45" fill="#2eac46"/>
<rect x="269.85" y="916.15" width="1.45" height="1.45" fill="#2aa444"/>
<rect x="271.15" y="916.15" width="1.45" height="1.45" fill="#2eac46"/>
<rect x="272.45" y="916.15" width="1.45" height="1.45" fill="#36b84e"/>
<rect x="273.75" y="916.15" width="1.45" height="1.45" fill="#2eac46"/>
<rect x="275.05" y="916.15" width="1.45" height="1.45" fill="#36b84e"/>
<rect x="276.35" y="916.15" width="1.45" height="1.45" fill="#36b84e"/>
<rect x="277.65" y="916.15" width="1.45" height="1.45" fill="#2eac46"/>
<rect x="278.95" y="916.15" width="1.45" height="1.45" fill="#2eac46"/>
<rect x="280.25" y="916.15" width="1.45" height="1.45" fill="#2a9a70"/>
<rect x="281.55" y="916.15" width="1.45" height="1.45" fill="#2a9a70"/>
<rect x="282.85" y="916.15" width="1.45" height="1.45" fill="#3a9ab0"/>
<rect x="262.05" y="917.45" width="1.45" height="1.45" fill="#2a9a70"/>
<rect x="263.35" y="917.45" width="1.45" height="1.45" fill="#2ea85a"/>
<rect x="264.65" y="917.45" width="1.45" height="1.45" fill="#36b84e"/>
<rect x="265.95" y="917.45" width="1.45" height="1.45" fill="#2aa444"/>
<rect x="267.25" y="917.45" width="1.45" height="1.45" fill="#2aa444"/>
<rect x="268.55" y="917.45" width="1.45" height="1.45" fill="#2eac46"/>
<rect x="269.85" y="917.45" width="1.45" height="1.45" fill="#30b048"/>
<rect x="271.15" y="917.45" width="1.45" height="1.45" fill="#2eac46"/>
<rect x="272.45" y="917.45" width="1.45" height="1.45" fill="#2aa444"/>
<rect x="273.75" y="917.45" width="1.45" height="1.45" fill="#36b84e"/>
<rect x="275.05" y="917.45" width="1.45" height="1.45" fill="#36b84e"/>
<rect x="276.35" y="917.45" width="1.45" height="1.45" fill="#30b048"/>
<rect x="277.65" y="917.45" width="1.45" height="1.45" fill="#30b048"/>
<rect x="278.95" y="917.45" width="1.45" height="1.45" fill="#36b84e"/>
<rect x="280.25" y="917.45" width="1.45" height="1.45" fill="#36b84e"/>
<rect x="281.55" y="917.45" width="1.45" height="1.45" fill="#2a9a70"/>
<rect x="262.05" y="918.75" width="1.45" height="1.45" fill="#3070c0"/>
<rect x="264.65" y="918.75" width="1.45" height="1.45" fill="#3a9ab0"/>
<rect x="265.95" y="918.75" width="1.45" height="1.45" fill="#2aa444"/>
<rect x="267.25" y="918.75" width="1.45" height="1.45" fill="#2eac46"/>
<rect x="268.55" y="918.75" width="1.45" height="1.45" fill="#36b84e"/>
<rect x="269.85" y="918.75" width="1.45" height="1.45" fill="#30b048"/>
<rect x="271.15" y="918.75" width="1.45" height="1.45" fill="#36b84e"/>
<rect x="272.45" y="918.75" width="1.45" height="1.45" fill="#30b048"/>
<rect x="273.75" y="918.75" width="1.45" height="1.45" fill="#2eac46"/>
<rect x="275.05" y="918.75" width="1.45" height="1.45" fill="#36b84e"/>
<rect x="276.35" y="918.75" width="1.45" height="1.45" fill="#2eac46"/>
<rect x="277.65" y="918.75" width="1.45" height="1.45" fill="#2aa444"/>
<rect x="278.95" y="918.75" width="1.45" height="1.45" fill="#2eac46"/>
<rect x="280.25" y="918.75" width="1.45" height="1.45" fill="#2aa444"/>
<rect x="281.55" y="918.75" width="1.45" height="1.45" fill="#36b84e"/>
<rect x="264.65" y="920.05" width="1.45" height="1.45" fill="#36b84e"/>
<rect x="265.95" y="920.05" width="1.45" height="1.45" fill="#30b048"/>
<rect x="267.25" y="920.05" width="1.45" height="1.45" fill="#2aa444"/>
<rect x="268.55" y="920.05" width="1.45" height="1.45" fill="#2eac46"/>
<rect x="269.85" y="920.05" width="1.45" height="1.45" fill="#36b84e"/>
<rect x="271.15" y="920.05" width="1.45" height="1.45" fill="#2aa444"/>
<rect x="272.45" y="920.05" width="1.45" height="1.45" fill="#30b048"/>
<rect x="273.75" y="920.05" width="1.45" height="1.45" fill="#30b048"/>
<rect x="275.05" y="920.05" width="1.45" height="1.45" fill="#2eac46"/>
<rect x="276.35" y="920.05" width="1.45" height="1.45" fill="#30b048"/>
<rect x="277.65" y="920.05" width="1.45" height="1.45" fill="#2eac46"/>
<rect x="278.95" y="920.05" width="1.45" height="1.45" fill="#2aa444"/>
<rect x="280.25" y="920.05" width="1.45" height="1.45" fill="#2aa444"/>
<rect x="282.85" y="920.05" width="1.45" height="1.45" fill="#2a9a70"/>
<rect x="263.35" y="921.35" width="1.45" height="1.45" fill="#3a9ab0"/>
<rect x="264.65" y="921.35" width="1.45" height="1.45" fill="#3a9ab0"/>
<rect x="265.95" y="921.35" width="1.45" height="1.45" fill="#2eac46"/>
<rect x="267.25" y="921.35" width="1.45" height="1.45" fill="#30b048"/>
<rect x="268.55" y="921.35" width="1.45" height="1.45" fill="#36b84e"/>
<rect x="269.85" y="921.35" width="1.45" height="1.45" fill="#2eac46"/>
<rect x="271.15" y="921.35" width="1.45" height="1.45" fill="#30b048"/>
<rect x="272.45" y="921.35" width="1.45" height="1.45" fill="#30b048"/>
<rect x="273.75" y="921.35" width="1.45" height="1.45" fill="#2aa444"/>
<rect x="275.05" y="921.35" width="1.45" height="1.45" fill="#36b84e"/>
<rect x="276.35" y="921.35" width="1.45" height="1.45" fill="#2eac46"/>
<rect x="277.65" y="921.35" width="1.45" height="1.45" fill="#30b048"/>
<rect x="278.95" y="921.35" width="1.45" height="1.45" fill="#2aa444"/>
<rect x="280.25" y="921.35" width="1.45" height="1.45" fill="#2ea85a"/>
<rect x="282.85" y="921.35" width="1.45" height="1.45" fill="#2ea85a"/>
<rect x="263.35" y="922.65" width="1.45" height="1.45" fill="#3070c0"/>
<rect x="265.95" y="922.65" width="1.45" height="1.45" fill="#2eac46"/>
<rect x="267.25" y="922.65" width="1.45" height="1.45" fill="#36b84e"/>
<rect x="268.55" y="922.65" width="1.45" height="1.45" fill="#2eac46"/>
<rect x="269.85" y="922.65" width="1.45" height="1.45" fill="#2aa444"/>
<rect x="271.15" y="922.65" width="1.45" height="1.45" fill="#2aa444"/>
<rect x="272.45" y="922.65" width="1.45" height="1.45" fill="#2aa444"/>
<rect x="273.75" y="922.65" width="1.45" height="1.45" fill="#2eac46"/>
<rect x="275.05" y="922.65" width="1.45" height="1.45" fill="#30b048"/>
<rect x="276.35" y="922.65" width="1.45" height="1.45" fill="#36b84e"/>
<rect x="277.65" y="922.65" width="1.45" height="1.45" fill="#2aa444"/>
<rect x="278.95" y="922.65" width="1.45" height="1.45" fill="#2a9a70"/>
<rect x="280.25" y="922.65" width="1.45" height="1.45" fill="#3070c0"/>
<rect x="265.95" y="923.95" width="1.45" height="1.45" fill="#2ea85a"/>
<rect x="267.25" y="923.95" width="1.45" height="1.45" fill="#2eac46"/>
<rect x="268.55" y="923.95" width="1.45" height="1.45" fill="#2aa444"/>
<rect x="269.85" y="923.95" width="1.45" height="1.45" fill="#2eac46"/>
<rect x="271.15" y="923.95" width="1.45" height="1.45" fill="#2eac46"/>
<rect x="272.45" y="923.95" width="1.45" height="1.45" fill="#36b84e"/>
<rect x="273.75" y="923.95" width="1.45" height="1.45" fill="#36b84e"/>
<rect x="275.05" y="923.95" width="1.45" height="1.45" fill="#2aa444"/>
<rect x="276.35" y="923.95" width="1.45" height="1.45" fill="#36b84e"/>
<rect x="277.65" y="923.95" width="1.45" height="1.45" fill="#36b84e"/>
<rect x="278.95" y="923.95" width="1.45" height="1.45" fill="#2a9a70"/>
<rect x="280.25" y="923.95" width="1.45" height="1.45" fill="#3a9ab0"/>
<rect x="281.55" y="923.95" width="1.45" height="1.45" fill="#30b04c"/>
<rect x="267.25" y="925.25" width="1.45" height="1.45" fill="#2aa444"/>
<rect x="268.55" y="925.25" width="1.45" height="1.45" fill="#3070c0"/>
<rect x="269.85" y="925.25" width="1.45" height="1.45" fill="#3a9ab0"/>
<rect x="271.15" y="925.25" width="1.45" height="1.45" fill="#30b048"/>
<rect x="272.45" y="925.25" width="1.45" height="1.45" fill="#36b84e"/>
<rect x="273.75" y="925.25" width="1.45" height="1.45" fill="#30b048"/>
<rect x="275.05" y="925.25" width="1.45" height="1.45" fill="#3a9ab0"/>
<rect x="276.35" y="925.25" width="1.45" height="1.45" fill="#30b048"/>
<rect x="277.65" y="925.25" width="1.45" height="1.45" fill="#3070c0"/>
<rect x="278.95" y="925.25" width="1.45" height="1.45" fill="#2ea85a"/>
<rect x="265.95" y="926.55" width="1.45" height="1.45" fill="#3a9ab0"/>
<rect x="267.25" y="926.55" width="1.45" height="1.45" fill="#30b04c"/>
<rect x="268.55" y="926.55" width="1.45" height="1.45" fill="#2eac46"/>
<rect x="269.85" y="926.55" width="1.45" height="1.45" fill="#30b048"/>
<rect x="271.15" y="926.55" width="1.45" height="1.45" fill="#36b84e"/>
<rect x="272.45" y="926.55" width="1.45" height="1.45" fill="#30b04c"/>
<rect x="273.75" y="926.55" width="1.45" height="1.45" fill="#2aa444"/>
<rect x="275.05" y="926.55" width="1.45" height="1.45" fill="#3070c0"/>
<rect x="276.35" y="926.55" width="1.45" height="1.45" fill="#30b04c"/>
<rect x="267.25" y="927.85" width="1.45" height="1.45" fill="#3a9ab0"/>
<rect x="268.55" y="927.85" width="1.45" height="1.45" fill="#2ea85a"/>
<rect x="272.45" y="927.85" width="1.45" height="1.45" fill="#3a9ab0"/>
<rect x="273.75" y="927.85" width="1.45" height="1.45" fill="#3070c0"/>
<rect x="277.65" y="927.85" width="1.45" height="1.45" fill="#3a9ab0"/>
<rect x="278.95" y="927.85" width="1.45" height="1.45" fill="#2ea85a"/>
<rect x="273.75" y="929.15" width="1.45" height="1.45" fill="#3070c0"/>
</g>
<rect x="265.51" y="927.24" width="1.20" height="1.20" fill="#3e5ac8" stroke=" opacity="0.6"" stroke-width="0"/>
<rect x="278.95" y="904.85" width="1.20" height="1.20" fill="#48a0c0" stroke=" opacity="0.6"" stroke-width="0"/>
<rect x="261.54" y="933.20" width="1.20" height="1.20" fill="#4a6ad0" stroke=" opacity="0.6"" stroke-width="0"/>
<rect x="274.06" y="906.26" width="1.20" height="1.20" fill="#3e5ac8" stroke=" opacity="0.6"" stroke-width="0"/>
<rect x="273.57" y="932.93" width="1.20" height="1.20" fill="#48a0c0" stroke=" opacity="0.6"" stroke-width="0"/>
<rect x="282.65" y="933.75" width="1.20" height="1.20" fill="#4a6ad0" stroke=" opacity="0.6"" stroke-width="0"/>
<rect x="280.00" y="905.61" width="1.20" height="1.20" fill="#5a86d8" stroke=" opacity="0.6"" stroke-width="0"/>
<rect x="290.63" y="910.39" width="1.20" height="1.20" fill="#48a0c0" stroke=" opacity="0.6"" stroke-width="0"/>
<rect x="258.89" y="922.51" width="1.20" height="1.20" fill="#3e5ac8" stroke=" opacity="0.6"" stroke-width="0"/>
<rect x="261.53" y="914.18" width="1.20" height="1.20" fill="#48a0c0" stroke=" opacity="0.6"" stroke-width="0"/>
<rect x="258.09" y="922.41" width="1.20" height="1.20" fill="#48a0c0" stroke=" opacity="0.6"" stroke-width="0"/>
<rect x="275.74" y="908.41" width="1.20" height="1.20" fill="#3e5ac8" stroke=" opacity="0.6"" stroke-width="0"/>
<rect x="264.47" y="925.81" width="1.20" height="1.20" fill="#3e5ac8" stroke=" opacity="0.6"" stroke-width="0"/>
<rect x="273.85" y="900.14" width="1.20" height="1.20" fill="#48a0c0" stroke=" opacity="0.6"" stroke-width="0"/>
<rect x="271.03" y="907.96" width="1.20" height="1.20" fill="#3e5ac8" stroke=" opacity="0.6"" stroke-width="0"/>
<rect x="285.48" y="918.63" width="1.20" height="1.20" fill="#5a86d8" stroke=" opacity="0.6"" stroke-width="0"/>
<rect x="256.59" y="926.36" width="1.20" height="1.20" fill="#3e5ac8" stroke=" opacity="0.6"" stroke-width="0"/>
<rect x="275.28" y="932.06" width="1.20" height="1.20" fill="#5a86d8" stroke=" opacity="0.6"" stroke-width="0"/>
<text x="56.8" y="881.5" font-size="16.4" text-anchor="start" fill="#1c1c1c" stroke="#1c1c1c" stroke-width="0.3">+ PFN + Dextran (T + 5 min)</text>
<line x1="83.2" y1="884.9" x2="83.2" y2="887.5" stroke="#111" stroke-width="2.2"/>
<path d="M79.60000000000001,887.1 L86.8,887.1 L83.2,890.5 Z" stroke="#111" stroke-width="0.4" fill="#111"/>
<rect x="308.60" y="818.60" width="6.40" height="37.20" fill="url(#cbj)" stroke="#111" stroke-width="1.1"/>
<rect x="308.60" y="901.30" width="6.40" height="37.30" fill="url(#cbj)" stroke="#111" stroke-width="1.1"/>
<text x="318.0" y="829.4" font-size="12.6" text-anchor="start" fill="#1c1c1c" stroke="#1c1c1c" stroke-width="0.3">3600</text>
<text x="318.0" y="857.8" font-size="12.6" text-anchor="start" fill="#1c1c1c" stroke="#1c1c1c" stroke-width="0.3">2400</text>
<text x="318.0" y="912.2" font-size="12.6" text-anchor="start" fill="#1c1c1c" stroke="#1c1c1c" stroke-width="0.3">2900</text>
<text x="318.0" y="939.8" font-size="12.6" text-anchor="start" fill="#1c1c1c" stroke="#1c1c1c" stroke-width="0.3">2400</text>
<text transform="translate(26.2,878.2) rotate(-90)" x="0" y="0" font-size="16.2" text-anchor="middle" fill="#1c1c1c" stroke="#1c1c1c" stroke-width="0.3">pHrodo-dextran</text>
<text transform="translate(45.7,877.1) rotate(-90)" x="0" y="0" font-size="15.8" text-anchor="middle" fill="#1c1c1c" stroke="#1c1c1c" stroke-width="0.3">(pseudocolor)</text>
<text x="353.3" y="559.8" font-size="23" text-anchor="start" fill="#1c1c1c" font-weight="bold">f</text>
<line x1="439.5" y1="566.5" x2="439.5" y2="708.5" stroke="#1c1c1c" stroke-width="1.3"/>
<line x1="436.3" y1="566.7" x2="439.5" y2="566.7" stroke="#1c1c1c" stroke-width="1.1"/>
<line x1="436.3" y1="580.8" x2="439.5" y2="580.8" stroke="#1c1c1c" stroke-width="1.1"/>
<line x1="436.3" y1="595.0" x2="439.5" y2="595.0" stroke="#1c1c1c" stroke-width="1.1"/>
<line x1="436.3" y1="609.1" x2="439.5" y2="609.1" stroke="#1c1c1c" stroke-width="1.1"/>
<line x1="436.3" y1="623.3" x2="439.5" y2="623.3" stroke="#1c1c1c" stroke-width="1.1"/>
<line x1="436.3" y1="637.4" x2="439.5" y2="637.4" stroke="#1c1c1c" stroke-width="1.1"/>
<line x1="436.3" y1="651.5" x2="439.5" y2="651.5" stroke="#1c1c1c" stroke-width="1.1"/>
<line x1="436.3" y1="665.7" x2="439.5" y2="665.7" stroke="#1c1c1c" stroke-width="1.1"/>
<line x1="436.3" y1="679.8" x2="439.5" y2="679.8" stroke="#1c1c1c" stroke-width="1.1"/>
<line x1="436.3" y1="694.0" x2="439.5" y2="694.0" stroke="#1c1c1c" stroke-width="1.1"/>
<line x1="436.3" y1="708.1" x2="439.5" y2="708.1" stroke="#1c1c1c" stroke-width="1.1"/>
<line x1="439.0" y1="708.0" x2="695.0" y2="708.0" stroke="#1c1c1c" stroke-width="1.3"/>
<line x1="535.8" y1="708.0" x2="535.8" y2="711.5" stroke="#1c1c1c" stroke-width="1.1"/>
<line x1="599.4" y1="708.0" x2="599.4" y2="711.5" stroke="#1c1c1c" stroke-width="1.1"/>
<line x1="663.3" y1="708.0" x2="663.3" y2="711.5" stroke="#1c1c1c" stroke-width="1.1"/>
<line x1="439.5" y1="637.4" x2="695.0" y2="637.4" stroke="#888" stroke-width="0.9" stroke-dasharray="3,2.5"/>
<text x="431.8" y="569.7" font-size="13.5" text-anchor="end" fill="#1c1c1c" stroke="#1c1c1c" stroke-width="0.3">+1</text>
<text x="431.8" y="641.7" font-size="13.5" text-anchor="end" fill="#1c1c1c" stroke="#1c1c1c" stroke-width="0.3">0</text>
<text x="431.8" y="712.4" font-size="13.5" text-anchor="end" fill="#1c1c1c" stroke="#1c1c1c" stroke-width="0.3">−1</text>
<path d="M471.1,637.4 L535.8,645.2 L599.4,657.2 L663.3,667.8" stroke="#2a2a7a" stroke-width="1.8" fill="none"/>
<path d="M471.1,637.4 L535.8,631.0 L599.4,630.3 L663.3,622.6" stroke="#ee3236" stroke-width="1.8" fill="none"/>
<line x1="535.8" y1="625.0" x2="535.8" y2="637.0" stroke="#333" stroke-width="1.1"/>
<line x1="533.5" y1="625.0" x2="538.1" y2="625.0" stroke="#333" stroke-width="1.1"/>
<line x1="533.5" y1="637.0" x2="538.1" y2="637.0" stroke="#333" stroke-width="1.1"/>
<line x1="599.4" y1="619.7" x2="599.4" y2="640.9" stroke="#333" stroke-width="1.1"/>
<line x1="597.1" y1="619.7" x2="601.7" y2="619.7" stroke="#333" stroke-width="1.1"/>
<line x1="597.1" y1="640.9" x2="601.7" y2="640.9" stroke="#333" stroke-width="1.1"/>
<line x1="663.3" y1="611.2" x2="663.3" y2="633.9" stroke="#333" stroke-width="1.1"/>
<line x1="661.0" y1="611.2" x2="665.6" y2="611.2" stroke="#333" stroke-width="1.1"/>
<line x1="661.0" y1="633.9" x2="665.6" y2="633.9" stroke="#333" stroke-width="1.1"/>
<line x1="535.8" y1="641.6" x2="535.8" y2="648.7" stroke="#333" stroke-width="1.1"/>
<line x1="533.5" y1="641.6" x2="538.1" y2="641.6" stroke="#333" stroke-width="1.1"/>
<line x1="533.5" y1="648.7" x2="538.1" y2="648.7" stroke="#333" stroke-width="1.1"/>
<line x1="599.4" y1="648.0" x2="599.4" y2="666.4" stroke="#333" stroke-width="1.1"/>
<line x1="597.1" y1="648.0" x2="601.7" y2="648.0" stroke="#333" stroke-width="1.1"/>
<line x1="597.1" y1="666.4" x2="601.7" y2="666.4" stroke="#333" stroke-width="1.1"/>
<line x1="663.3" y1="656.5" x2="663.3" y2="679.1" stroke="#333" stroke-width="1.1"/>
<line x1="661.0" y1="656.5" x2="665.6" y2="656.5" stroke="#333" stroke-width="1.1"/>
<line x1="661.0" y1="679.1" x2="665.6" y2="679.1" stroke="#333" stroke-width="1.1"/>
<rect x="533.20" y="642.58" width="5.20" height="5.20" fill="#2a2a7a"/>
<rect x="596.80" y="654.60" width="5.20" height="5.20" fill="#2a2a7a"/>
<rect x="660.70" y="665.20" width="5.20" height="5.20" fill="#2a2a7a"/>
<rect x="468.50" y="634.80" width="5.20" height="5.20" fill="#ee3236"/>
<rect x="533.20" y="628.44" width="5.20" height="5.20" fill="#ee3236"/>
<rect x="596.80" y="627.73" width="5.20" height="5.20" fill="#ee3236"/>
<rect x="660.70" y="619.95" width="5.20" height="5.20" fill="#ee3236"/>
<line x1="471.6" y1="646.3" x2="471.6" y2="649.0" stroke="#111" stroke-width="2.4"/>
<path d="M468.20000000000005,646.6999999999999 L475.0,646.6999999999999 L471.6,643.3 Z" stroke="#111" stroke-width="0.4" fill="#111"/>
<text x="442.5" y="662.1" font-size="13.6" text-anchor="start" fill="#1c1c1c" stroke="#1c1c1c" stroke-width="0.3">+ Dextran</text>
<text x="453.0" y="678.5" font-size="13.6" text-anchor="start" fill="#1c1c1c" stroke="#1c1c1c" stroke-width="0.3">± PFN</text>
<text x="452.3" y="694.5" font-size="13.6" text-anchor="start" fill="#1c1c1c" stroke="#1c1c1c" stroke-width="0.3">(5min)</text>
<text x="537.1" y="723.4" font-size="14.1" text-anchor="middle" fill="#1c1c1c" stroke="#1c1c1c" stroke-width="0.3">+1 min</text>
<text x="600.7" y="723.4" font-size="14.1" text-anchor="middle" fill="#1c1c1c" stroke="#1c1c1c" stroke-width="0.3">+2 min</text>
<text x="664.6" y="723.4" font-size="14.1" text-anchor="middle" fill="#1c1c1c" stroke="#1c1c1c" stroke-width="0.3">+4 min</text>
<text x="600.0" y="739.5" font-size="14.8" text-anchor="middle" fill="#1c1c1c" stroke="#1c1c1c" stroke-width="0.3">Timepoints</text>
<line x1="551.0" y1="578.6" x2="571.0" y2="578.6" stroke="#ee3236" stroke-width="2.0"/>
<rect x="558.40" y="576.00" width="5.20" height="5.20" fill="#ee3236"/>
<line x1="551.0" y1="594.4" x2="571.0" y2="594.4" stroke="#2a2a7a" stroke-width="2.0"/>
<rect x="558.40" y="591.80" width="5.20" height="5.20" fill="#2a2a7a"/>
<text x="575.9" y="582.6" font-size="14.85" text-anchor="start" fill="#1c1c1c" stroke="#1c1c1c" stroke-width="0.3">Endosomes (−PFN)</text>
<text x="575.9" y="598.4" font-size="14.85" text-anchor="start" fill="#1c1c1c" stroke="#1c1c1c" stroke-width="0.3">Gigantosomes (+PFN)</text>
<text transform="translate(380.6,634.2) rotate(-90)" x="0" y="0" font-size="14.2" text-anchor="middle" fill="#1c1c1c" stroke="#1c1c1c" stroke-width="0.3">pHrodo-dextran</text>
<text transform="translate(397.6,637.5) rotate(-90)" x="0" y="0" font-size="14.85" text-anchor="middle" fill="#1c1c1c" stroke="#1c1c1c" stroke-width="0.3">fluorescence intensity</text>
<text transform="translate(414.5,638.0) rotate(-90)" x="0" y="0" font-size="15" text-anchor="middle" fill="#1c1c1c" stroke="#1c1c1c" stroke-width="0.3">(AU)</text>
<text x="352.8" y="776.0" font-size="23" text-anchor="start" fill="#1c1c1c" font-weight="bold">g</text>
<text x="471.0" y="771.0" font-size="15" text-anchor="middle" fill="#e8262a" stroke="#e8262a" stroke-width="0.3">pHrodo</text>
<text x="471.0" y="785.8" font-size="15" text-anchor="middle" fill="#e8262a" stroke="#e8262a" stroke-width="0.3">dextran</text>
<text x="563.6" y="768.6" font-size="15" text-anchor="middle" fill="#1f6e40" stroke="#1f6e40" stroke-width="0.3">EGFP</text>
<text x="563.6" y="787.0" font-size="15" text-anchor="middle" fill="#1f6e40" stroke="#1f6e40" stroke-width="0.3">EEA-1</text>
<text x="659.0" y="785.2" font-size="15" text-anchor="middle" fill="#1c1c1c" stroke="#1c1c1c" stroke-width="0.3">Merge</text>
<rect x="422.70" y="791.60" width="92.20" height="74.20" fill="#000"/>
<rect x="517.80" y="791.60" width="92.20" height="74.20" fill="#000"/>
<rect x="612.80" y="791.60" width="92.20" height="74.20" fill="#000"/>
<rect x="422.70" y="868.20" width="92.20" height="80.40" fill="#000"/>
<rect x="517.80" y="868.20" width="92.20" height="80.40" fill="#000"/>
<rect x="612.80" y="868.20" width="92.20" height="80.40" fill="#000"/>
<g clip-path="url(#gclip)">
<g filter="url(#bl4)">
<ellipse cx="498.9" cy="794.2" rx="2.22" ry="1.58" fill="#ff2838" opacity="1.00"/>
<ellipse cx="503.7" cy="798.3" rx="1.81" ry="1.30" fill="#ff2838" opacity="0.99"/>
<ellipse cx="499.6" cy="796.9" rx="1.81" ry="1.30" fill="#ff2838" opacity="0.99"/>
<ellipse cx="465.3" cy="808.6" rx="1.61" ry="1.15" fill="#ff2838" opacity="0.99"/>
<ellipse cx="467.3" cy="814.1" rx="1.41" ry="1.01" fill="#ff2838" opacity="0.88"/>
<ellipse cx="463.9" cy="813.4" rx="1.31" ry="0.94" fill="#ff2838" opacity="0.66"/>
<ellipse cx="457.7" cy="806.5" rx="1.21" ry="0.86" fill="#ff2838" opacity="0.44"/>
<ellipse cx="491.3" cy="808.6" rx="1.51" ry="1.08" fill="#ff2838" opacity="0.77"/>
<ellipse cx="494.8" cy="806.5" rx="1.31" ry="0.94" fill="#ff2838" opacity="0.44"/>
<ellipse cx="461.8" cy="819.6" rx="1.31" ry="0.94" fill="#ff2838" opacity="0.55"/>
<ellipse cx="485.6" cy="823.0" rx="1.92" ry="1.37" fill="#ff2838" opacity="1.00"/>
<ellipse cx="509.2" cy="833.3" rx="1.41" ry="1.01" fill="#ff2838" opacity="0.44"/>
<ellipse cx="467.3" cy="835.7" rx="2.02" ry="1.44" fill="#ff2838" opacity="1.00"/>
<ellipse cx="470.1" cy="839.4" rx="1.61" ry="1.15" fill="#ff2838" opacity="0.88"/>
<ellipse cx="471.9" cy="842.6" rx="1.81" ry="1.30" fill="#ff2838" opacity="0.99"/>
<ellipse cx="471.4" cy="846.3" rx="1.41" ry="1.01" fill="#ff2838" opacity="0.55"/>
<ellipse cx="483.4" cy="835.3" rx="1.61" ry="1.15" fill="#ff2838" opacity="0.88"/>
<ellipse cx="487.2" cy="837.4" rx="1.61" ry="1.15" fill="#ff2838" opacity="0.88"/>
<ellipse cx="493.8" cy="836.7" rx="1.71" ry="1.22" fill="#ff2838" opacity="0.99"/>
<ellipse cx="490.0" cy="840.1" rx="2.02" ry="1.44" fill="#ff2838" opacity="1.00"/>
<ellipse cx="496.1" cy="842.6" rx="1.31" ry="0.94" fill="#ff2838" opacity="0.55"/>
<ellipse cx="499.6" cy="847.0" rx="1.61" ry="1.15" fill="#ff2838" opacity="0.77"/>
<ellipse cx="483.8" cy="851.8" rx="2.02" ry="1.44" fill="#ff2838" opacity="1.00"/>
<ellipse cx="501.2" cy="856.6" rx="1.41" ry="1.01" fill="#ff2838" opacity="0.55"/>
<ellipse cx="460.5" cy="861.4" rx="1.61" ry="1.15" fill="#ff2838" opacity="0.66"/>
<ellipse cx="452.9" cy="853.8" rx="1.31" ry="0.94" fill="#ff2838" opacity="0.44"/>
<ellipse cx="437.1" cy="842.2" rx="1.21" ry="0.86" fill="#ff2838" opacity="0.33"/>
</g>
<g filter="url(#bl4)">
<ellipse cx="597.3" cy="793.8" rx="1.81" ry="1.30" fill="#3ee050" opacity="0.88"/>
<ellipse cx="598.0" cy="798.3" rx="2.52" ry="1.80" fill="#3ee050" opacity="1.00"/>
<ellipse cx="563.7" cy="798.3" rx="1.41" ry="1.01" fill="#3ee050" opacity="0.33"/>
<ellipse cx="589.8" cy="807.2" rx="2.02" ry="1.44" fill="#3ee050" opacity="0.99"/>
<ellipse cx="593.9" cy="809.7" rx="1.51" ry="1.08" fill="#3ee050" opacity="0.44"/>
<ellipse cx="558.9" cy="808.6" rx="2.02" ry="1.44" fill="#3ee050" opacity="0.99"/>
<ellipse cx="561.6" cy="811.3" rx="2.02" ry="1.44" fill="#3ee050" opacity="0.99"/>
<ellipse cx="559.6" cy="813.4" rx="1.81" ry="1.30" fill="#3ee050" opacity="0.88"/>
<ellipse cx="570.6" cy="811.0" rx="1.81" ry="1.30" fill="#3ee050" opacity="0.88"/>
<ellipse cx="556.8" cy="816.8" rx="1.71" ry="1.22" fill="#3ee050" opacity="0.77"/>
<ellipse cx="585.6" cy="817.9" rx="2.32" ry="1.66" fill="#3ee050" opacity="1.00"/>
<ellipse cx="541.1" cy="823.0" rx="1.81" ry="1.30" fill="#3ee050" opacity="0.88"/>
<ellipse cx="569.2" cy="822.3" rx="2.52" ry="1.80" fill="#3ee050" opacity="1.00"/>
<ellipse cx="572.6" cy="823.9" rx="2.22" ry="1.58" fill="#3ee050" opacity="0.99"/>
<ellipse cx="562.3" cy="827.5" rx="1.92" ry="1.37" fill="#3ee050" opacity="0.88"/>
<ellipse cx="602.8" cy="828.9" rx="1.61" ry="1.15" fill="#3ee050" opacity="0.44"/>
<ellipse cx="576.7" cy="831.6" rx="1.81" ry="1.30" fill="#3ee050" opacity="0.77"/>
<ellipse cx="597.3" cy="833.5" rx="1.71" ry="1.22" fill="#3ee050" opacity="0.77"/>
<ellipse cx="604.2" cy="833.5" rx="1.71" ry="1.22" fill="#3ee050" opacity="0.77"/>
<ellipse cx="582.2" cy="837.1" rx="2.02" ry="1.44" fill="#3ee050" opacity="0.99"/>
<ellipse cx="591.8" cy="836.3" rx="2.02" ry="1.44" fill="#3ee050" opacity="0.99"/>
<ellipse cx="605.5" cy="837.4" rx="1.71" ry="1.22" fill="#3ee050" opacity="0.77"/>
<ellipse cx="585.0" cy="840.1" rx="2.42" ry="1.73" fill="#3ee050" opacity="1.00"/>
<ellipse cx="591.1" cy="842.6" rx="1.81" ry="1.30" fill="#3ee050" opacity="0.88"/>
<ellipse cx="532.1" cy="842.2" rx="1.61" ry="1.15" fill="#3ee050" opacity="0.77"/>
<ellipse cx="577.4" cy="844.2" rx="1.51" ry="1.08" fill="#3ee050" opacity="0.66"/>
<ellipse cx="584.3" cy="847.3" rx="2.22" ry="1.58" fill="#3ee050" opacity="1.00"/>
<ellipse cx="594.6" cy="846.7" rx="1.51" ry="1.08" fill="#3ee050" opacity="0.44"/>
<ellipse cx="609.7" cy="851.8" rx="1.51" ry="1.08" fill="#3ee050" opacity="0.66"/>
<ellipse cx="547.6" cy="854.1" rx="2.02" ry="1.44" fill="#3ee050" opacity="0.99"/>
<ellipse cx="600.0" cy="857.7" rx="1.81" ry="1.30" fill="#3ee050" opacity="0.77"/>
<ellipse cx="555.5" cy="861.4" rx="1.81" ry="1.30" fill="#3ee050" opacity="0.88"/>
<ellipse cx="548.6" cy="862.8" rx="1.81" ry="1.30" fill="#3ee050" opacity="0.88"/>
<ellipse cx="602.1" cy="861.4" rx="1.41" ry="1.01" fill="#3ee050" opacity="0.44"/>
<ellipse cx="575.4" cy="853.6" rx="1.31" ry="0.94" fill="#3ee050" opacity="0.33"/>
</g>
<g filter="url(#bl4)">
<ellipse cx="692.3" cy="793.8" rx="1.81" ry="1.30" fill="#3ee050" opacity="0.88"/>
<ellipse cx="693.0" cy="798.3" rx="2.52" ry="1.80" fill="#3ee050" opacity="1.00"/>
<ellipse cx="658.7" cy="798.3" rx="1.41" ry="1.01" fill="#3ee050" opacity="0.33"/>
<ellipse cx="684.8" cy="807.2" rx="2.02" ry="1.44" fill="#3ee050" opacity="0.99"/>
<ellipse cx="688.9" cy="809.7" rx="1.51" ry="1.08" fill="#3ee050" opacity="0.44"/>
<ellipse cx="653.9" cy="808.6" rx="2.02" ry="1.44" fill="#3ee050" opacity="0.99"/>
<ellipse cx="656.6" cy="811.3" rx="2.02" ry="1.44" fill="#3ee050" opacity="0.99"/>
<ellipse cx="654.6" cy="813.4" rx="1.81" ry="1.30" fill="#3ee050" opacity="0.88"/>
<ellipse cx="665.6" cy="811.0" rx="1.81" ry="1.30" fill="#3ee050" opacity="0.88"/>
<ellipse cx="651.8" cy="816.8" rx="1.71" ry="1.22" fill="#3ee050" opacity="0.77"/>
<ellipse cx="680.6" cy="817.9" rx="2.32" ry="1.66" fill="#3ee050" opacity="1.00"/>
<ellipse cx="636.1" cy="823.0" rx="1.81" ry="1.30" fill="#3ee050" opacity="0.88"/>
<ellipse cx="664.2" cy="822.3" rx="2.52" ry="1.80" fill="#3ee050" opacity="1.00"/>
<ellipse cx="667.6" cy="823.9" rx="2.22" ry="1.58" fill="#3ee050" opacity="0.99"/>
<ellipse cx="657.3" cy="827.5" rx="1.92" ry="1.37" fill="#3ee050" opacity="0.88"/>
<ellipse cx="697.8" cy="828.9" rx="1.61" ry="1.15" fill="#3ee050" opacity="0.44"/>
<ellipse cx="671.7" cy="831.6" rx="1.81" ry="1.30" fill="#3ee050" opacity="0.77"/>
<ellipse cx="692.3" cy="833.5" rx="1.71" ry="1.22" fill="#3ee050" opacity="0.77"/>
<ellipse cx="699.2" cy="833.5" rx="1.71" ry="1.22" fill="#3ee050" opacity="0.77"/>
<ellipse cx="677.2" cy="837.1" rx="2.02" ry="1.44" fill="#3ee050" opacity="0.99"/>
<ellipse cx="686.8" cy="836.3" rx="2.02" ry="1.44" fill="#3ee050" opacity="0.99"/>
<ellipse cx="700.5" cy="837.4" rx="1.71" ry="1.22" fill="#3ee050" opacity="0.77"/>
<ellipse cx="680.0" cy="840.1" rx="2.42" ry="1.73" fill="#3ee050" opacity="1.00"/>
<ellipse cx="686.1" cy="842.6" rx="1.81" ry="1.30" fill="#3ee050" opacity="0.88"/>
<ellipse cx="627.1" cy="842.2" rx="1.61" ry="1.15" fill="#3ee050" opacity="0.77"/>
<ellipse cx="672.4" cy="844.2" rx="1.51" ry="1.08" fill="#3ee050" opacity="0.66"/>
<ellipse cx="679.3" cy="847.3" rx="2.22" ry="1.58" fill="#3ee050" opacity="1.00"/>
<ellipse cx="689.6" cy="846.7" rx="1.51" ry="1.08" fill="#3ee050" opacity="0.44"/>
<ellipse cx="704.7" cy="851.8" rx="1.51" ry="1.08" fill="#3ee050" opacity="0.66"/>
<ellipse cx="642.6" cy="854.1" rx="2.02" ry="1.44" fill="#3ee050" opacity="0.99"/>
<ellipse cx="695.0" cy="857.7" rx="1.81" ry="1.30" fill="#3ee050" opacity="0.77"/>
<ellipse cx="650.5" cy="861.4" rx="1.81" ry="1.30" fill="#3ee050" opacity="0.88"/>
<ellipse cx="643.6" cy="862.8" rx="1.81" ry="1.30" fill="#3ee050" opacity="0.88"/>
<ellipse cx="697.1" cy="861.4" rx="1.41" ry="1.01" fill="#3ee050" opacity="0.44"/>
<ellipse cx="670.4" cy="853.6" rx="1.31" ry="0.94" fill="#3ee050" opacity="0.33"/>
<ellipse cx="643.5" cy="798.7" rx="1.81" ry="1.30" fill="#3ee050" opacity="0.99"/>
<ellipse cx="645.0" cy="803.7" rx="1.81" ry="1.30" fill="#3ee050" opacity="0.99"/>
<ellipse cx="636.0" cy="813.0" rx="1.61" ry="1.15" fill="#3ee050" opacity="0.77"/>
<ellipse cx="630.0" cy="806.0" rx="1.41" ry="1.01" fill="#3ee050" opacity="0.55"/>
</g>
<g filter="url(#bl4)" style="mix-blend-mode:screen">
<ellipse cx="688.9" cy="794.2" rx="2.22" ry="1.58" fill="#f02838" opacity="1.00"/>
<ellipse cx="693.7" cy="798.3" rx="1.81" ry="1.30" fill="#f02838" opacity="0.99"/>
<ellipse cx="689.6" cy="796.9" rx="1.81" ry="1.30" fill="#f02838" opacity="0.99"/>
<ellipse cx="655.3" cy="808.6" rx="1.61" ry="1.15" fill="#f02838" opacity="0.99"/>
<ellipse cx="657.3" cy="814.1" rx="1.41" ry="1.01" fill="#f02838" opacity="0.88"/>
<ellipse cx="653.9" cy="813.4" rx="1.31" ry="0.94" fill="#f02838" opacity="0.66"/>
<ellipse cx="647.7" cy="806.5" rx="1.21" ry="0.86" fill="#f02838" opacity="0.44"/>
<ellipse cx="681.3" cy="808.6" rx="1.51" ry="1.08" fill="#f02838" opacity="0.77"/>
<ellipse cx="684.8" cy="806.5" rx="1.31" ry="0.94" fill="#f02838" opacity="0.44"/>
<ellipse cx="651.8" cy="819.6" rx="1.31" ry="0.94" fill="#f02838" opacity="0.55"/>
<ellipse cx="675.6" cy="823.0" rx="1.92" ry="1.37" fill="#f02838" opacity="1.00"/>
<ellipse cx="699.2" cy="833.3" rx="1.41" ry="1.01" fill="#f02838" opacity="0.44"/>
<ellipse cx="657.3" cy="835.7" rx="2.02" ry="1.44" fill="#f02838" opacity="1.00"/>
<ellipse cx="660.1" cy="839.4" rx="1.61" ry="1.15" fill="#f02838" opacity="0.88"/>
<ellipse cx="661.9" cy="842.6" rx="1.81" ry="1.30" fill="#f02838" opacity="0.99"/>
<ellipse cx="661.4" cy="846.3" rx="1.41" ry="1.01" fill="#f02838" opacity="0.55"/>
<ellipse cx="673.4" cy="835.3" rx="1.61" ry="1.15" fill="#f02838" opacity="0.88"/>
<ellipse cx="677.2" cy="837.4" rx="1.61" ry="1.15" fill="#f02838" opacity="0.88"/>
<ellipse cx="683.8" cy="836.7" rx="1.71" ry="1.22" fill="#f02838" opacity="0.99"/>
<ellipse cx="680.0" cy="840.1" rx="2.02" ry="1.44" fill="#f02838" opacity="1.00"/>
<ellipse cx="686.1" cy="842.6" rx="1.31" ry="0.94" fill="#f02838" opacity="0.55"/>
<ellipse cx="689.6" cy="847.0" rx="1.61" ry="1.15" fill="#f02838" opacity="0.77"/>
<ellipse cx="673.8" cy="851.8" rx="2.02" ry="1.44" fill="#f02838" opacity="1.00"/>
<ellipse cx="691.2" cy="856.6" rx="1.41" ry="1.01" fill="#f02838" opacity="0.55"/>
<ellipse cx="650.5" cy="861.4" rx="1.61" ry="1.15" fill="#f02838" opacity="0.66"/>
<ellipse cx="642.9" cy="853.8" rx="1.31" ry="0.94" fill="#f02838" opacity="0.44"/>
<ellipse cx="627.1" cy="842.2" rx="1.21" ry="0.86" fill="#f02838" opacity="0.33"/>
</g>
<g filter="url(#bl4)">
<ellipse cx="472.8" cy="885.7" rx="1.51" ry="1.08" fill="#ff2838" opacity="0.99"/>
<ellipse cx="460.5" cy="890.1" rx="1.41" ry="1.01" fill="#ff2838" opacity="0.88"/>
<ellipse cx="470.1" cy="892.1" rx="1.21" ry="0.86" fill="#ff2838" opacity="0.66"/>
<ellipse cx="433.0" cy="905.8" rx="1.31" ry="0.94" fill="#ff2838" opacity="0.66"/>
<ellipse cx="445.4" cy="910.0" rx="1.31" ry="0.94" fill="#ff2838" opacity="0.77"/>
<ellipse cx="467.3" cy="912.0" rx="1.31" ry="0.94" fill="#ff2838" opacity="0.66"/>
<ellipse cx="429.6" cy="915.9" rx="1.21" ry="0.86" fill="#ff2838" opacity="0.55"/>
<ellipse cx="453.6" cy="919.6" rx="1.21" ry="0.86" fill="#ff2838" opacity="0.44"/>
<ellipse cx="446.0" cy="899.0" rx="1.11" ry="0.79" fill="#ff2838" opacity="0.39"/>
<ellipse cx="433.7" cy="896.2" rx="1.11" ry="0.79" fill="#ff2838" opacity="0.44"/>
<ellipse cx="464.6" cy="903.8" rx="1.11" ry="0.79" fill="#ff2838" opacity="0.39"/>
<ellipse cx="514.0" cy="947.0" rx="1.01" ry="0.72" fill="#ff2838" opacity="0.66"/>
<ellipse cx="440.0" cy="925.0" rx="1.01" ry="0.72" fill="#ff2838" opacity="0.33"/>
<ellipse cx="458.0" cy="930.0" rx="1.01" ry="0.72" fill="#ff2838" opacity="0.28"/>
<ellipse cx="450.0" cy="888.0" rx="1.01" ry="0.72" fill="#ff2838" opacity="0.33"/>
</g>
<g filter="url(#bl4)">
<ellipse cx="578.8" cy="873.6" rx="1.02" ry="0.73" fill="#3ee050" opacity="0.61"/>
<ellipse cx="563.3" cy="878.0" rx="1.26" ry="0.90" fill="#3ee050" opacity="0.83"/>
<ellipse cx="554.8" cy="883.9" rx="1.16" ry="0.83" fill="#3ee050" opacity="0.67"/>
<ellipse cx="567.1" cy="885.7" rx="1.18" ry="0.84" fill="#3ee050" opacity="0.76"/>
<ellipse cx="587.0" cy="882.9" rx="1.43" ry="1.02" fill="#3ee050" opacity="0.61"/>
<ellipse cx="591.5" cy="889.8" rx="1.39" ry="0.99" fill="#3ee050" opacity="1.00"/>
<ellipse cx="555.5" cy="890.7" rx="1.07" ry="0.76" fill="#3ee050" opacity="1.00"/>
<ellipse cx="564.7" cy="892.5" rx="1.37" ry="0.98" fill="#3ee050" opacity="1.00"/>
<ellipse cx="528.0" cy="896.2" rx="1.15" ry="0.82" fill="#3ee050" opacity="0.79"/>
<ellipse cx="548.6" cy="897.6" rx="1.21" ry="0.86" fill="#3ee050" opacity="1.00"/>
<ellipse cx="558.9" cy="903.8" rx="1.30" ry="0.93" fill="#3ee050" opacity="0.78"/>
<ellipse cx="590.2" cy="899.9" rx="1.22" ry="0.87" fill="#3ee050" opacity="0.74"/>
<ellipse cx="530.8" cy="901.0" rx="1.03" ry="0.74" fill="#3ee050" opacity="0.66"/>
<ellipse cx="540.4" cy="901.7" rx="1.43" ry="1.02" fill="#3ee050" opacity="0.75"/>
<ellipse cx="523.9" cy="907.2" rx="1.48" ry="1.06" fill="#3ee050" opacity="0.73"/>
<ellipse cx="527.3" cy="906.2" rx="1.14" ry="0.82" fill="#3ee050" opacity="0.86"/>
<ellipse cx="567.8" cy="908.6" rx="1.10" ry="0.79" fill="#3ee050" opacity="0.79"/>
<ellipse cx="535.6" cy="910.0" rx="1.49" ry="1.06" fill="#3ee050" opacity="1.00"/>
<ellipse cx="539.7" cy="909.3" rx="1.42" ry="1.01" fill="#3ee050" opacity="0.92"/>
<ellipse cx="561.6" cy="912.7" rx="1.47" ry="1.05" fill="#3ee050" opacity="1.00"/>
<ellipse cx="575.1" cy="917.5" rx="1.28" ry="0.92" fill="#3ee050" opacity="0.96"/>
<ellipse cx="523.2" cy="916.8" rx="1.03" ry="0.74" fill="#3ee050" opacity="0.97"/>
<ellipse cx="552.0" cy="917.5" rx="1.24" ry="0.88" fill="#3ee050" opacity="0.98"/>
<ellipse cx="532.1" cy="923.3" rx="1.33" ry="0.95" fill="#3ee050" opacity="0.75"/>
<ellipse cx="536.3" cy="924.4" rx="1.03" ry="0.74" fill="#3ee050" opacity="1.00"/>
<ellipse cx="548.6" cy="923.3" rx="1.07" ry="0.77" fill="#3ee050" opacity="0.84"/>
<ellipse cx="523.9" cy="923.7" rx="1.18" ry="0.84" fill="#3ee050" opacity="0.75"/>
<ellipse cx="527.3" cy="930.1" rx="1.38" ry="0.99" fill="#3ee050" opacity="1.00"/>
<ellipse cx="582.5" cy="928.2" rx="1.14" ry="0.81" fill="#3ee050" opacity="0.93"/>
<ellipse cx="564.4" cy="940.1" rx="1.16" ry="0.83" fill="#3ee050" opacity="0.88"/>
<ellipse cx="582.9" cy="939.4" rx="1.21" ry="0.86" fill="#3ee050" opacity="0.69"/>
<ellipse cx="526.7" cy="947.0" rx="1.09" ry="0.78" fill="#3ee050" opacity="0.71"/>
<ellipse cx="609.0" cy="947.0" rx="1.46" ry="1.05" fill="#3ee050" opacity="0.85"/>
<ellipse cx="519.1" cy="943.6" rx="1.12" ry="0.80" fill="#3ee050" opacity="1.00"/>
<ellipse cx="545.0" cy="935.0" rx="1.51" ry="1.08" fill="#3ee050" opacity="0.83"/>
<ellipse cx="570.0" cy="925.0" rx="1.08" ry="0.77" fill="#3ee050" opacity="0.70"/>
<ellipse cx="598.0" cy="915.0" rx="1.05" ry="0.75" fill="#3ee050" opacity="0.77"/>
<ellipse cx="604.0" cy="935.0" rx="1.05" ry="0.75" fill="#3ee050" opacity="0.72"/>
<ellipse cx="585.0" cy="905.0" rx="1.14" ry="0.81" fill="#3ee050" opacity="0.89"/>
<ellipse cx="548.0" cy="912.0" rx="1.46" ry="1.04" fill="#3ee050" opacity="0.98"/>
<ellipse cx="586.9" cy="890.8" rx="1.08" ry="0.77" fill="#3ee050" opacity="0.48"/>
<ellipse cx="602.6" cy="908.7" rx="1.05" ry="0.75" fill="#3ee050" opacity="0.36"/>
<ellipse cx="599.4" cy="900.0" rx="1.08" ry="0.77" fill="#3ee050" opacity="0.33"/>
<ellipse cx="578.1" cy="935.7" rx="1.19" ry="0.85" fill="#3ee050" opacity="0.48"/>
<ellipse cx="588.2" cy="907.2" rx="0.92" ry="0.65" fill="#3ee050" opacity="0.28"/>
<ellipse cx="537.9" cy="946.2" rx="0.99" ry="0.71" fill="#3ee050" opacity="0.62"/>
<ellipse cx="573.3" cy="945.3" rx="0.89" ry="0.64" fill="#3ee050" opacity="0.63"/>
<ellipse cx="534.2" cy="931.4" rx="1.20" ry="0.86" fill="#3ee050" opacity="0.64"/>
<ellipse cx="578.1" cy="874.8" rx="1.00" ry="0.71" fill="#3ee050" opacity="0.59"/>
<ellipse cx="527.1" cy="903.9" rx="0.93" ry="0.67" fill="#3ee050" opacity="0.28"/>
<ellipse cx="549.0" cy="911.3" rx="1.12" ry="0.80" fill="#3ee050" opacity="0.30"/>
<ellipse cx="555.6" cy="929.3" rx="1.09" ry="0.78" fill="#3ee050" opacity="0.63"/>
<ellipse cx="531.5" cy="936.8" rx="1.11" ry="0.79" fill="#3ee050" opacity="0.51"/>
<ellipse cx="538.3" cy="914.1" rx="1.13" ry="0.81" fill="#3ee050" opacity="0.60"/>
<ellipse cx="530.3" cy="933.7" rx="0.84" ry="0.60" fill="#3ee050" opacity="0.39"/>
<ellipse cx="571.5" cy="875.6" rx="0.97" ry="0.69" fill="#3ee050" opacity="0.59"/>
<ellipse cx="555.1" cy="903.1" rx="0.84" ry="0.60" fill="#3ee050" opacity="0.61"/>
<ellipse cx="601.2" cy="926.1" rx="0.99" ry="0.70" fill="#3ee050" opacity="0.39"/>
<ellipse cx="577.6" cy="921.0" rx="1.16" ry="0.83" fill="#3ee050" opacity="0.55"/>
<ellipse cx="539.2" cy="932.7" rx="0.91" ry="0.65" fill="#3ee050" opacity="0.39"/>
<ellipse cx="586.1" cy="878.0" rx="1.20" ry="0.85" fill="#3ee050" opacity="0.37"/>
<ellipse cx="564.3" cy="940.0" rx="1.12" ry="0.80" fill="#3ee050" opacity="0.48"/>
<ellipse cx="556.0" cy="921.4" rx="0.92" ry="0.66" fill="#3ee050" opacity="0.54"/>
<ellipse cx="573.2" cy="946.0" rx="0.98" ry="0.70" fill="#3ee050" opacity="0.42"/>
<ellipse cx="581.1" cy="944.3" rx="1.07" ry="0.77" fill="#3ee050" opacity="0.34"/>
<ellipse cx="576.3" cy="921.3" rx="1.16" ry="0.83" fill="#3ee050" opacity="0.36"/>
<ellipse cx="595.7" cy="897.9" rx="0.85" ry="0.61" fill="#3ee050" opacity="0.48"/>
<ellipse cx="579.2" cy="928.1" rx="1.12" ry="0.80" fill="#3ee050" opacity="0.45"/>
<ellipse cx="538.1" cy="928.1" rx="1.00" ry="0.71" fill="#3ee050" opacity="0.48"/>
<ellipse cx="574.5" cy="919.4" rx="1.12" ry="0.80" fill="#3ee050" opacity="0.35"/>
<ellipse cx="547.1" cy="915.5" rx="0.97" ry="0.70" fill="#3ee050" opacity="0.42"/>
<ellipse cx="569.0" cy="943.1" rx="0.93" ry="0.66" fill="#3ee050" opacity="0.57"/>
<ellipse cx="607.3" cy="931.5" rx="0.88" ry="0.63" fill="#3ee050" opacity="0.45"/>
<ellipse cx="559.3" cy="935.8" rx="0.98" ry="0.70" fill="#3ee050" opacity="0.64"/>
</g>
<g filter="url(#bl4)">
<ellipse cx="673.8" cy="873.6" rx="1.02" ry="0.73" fill="#3ee050" opacity="0.61"/>
<ellipse cx="658.3" cy="878.0" rx="1.26" ry="0.90" fill="#3ee050" opacity="0.83"/>
<ellipse cx="649.8" cy="883.9" rx="1.16" ry="0.83" fill="#3ee050" opacity="0.67"/>
<ellipse cx="662.1" cy="885.7" rx="1.18" ry="0.84" fill="#3ee050" opacity="0.76"/>
<ellipse cx="682.0" cy="882.9" rx="1.43" ry="1.02" fill="#3ee050" opacity="0.61"/>
<ellipse cx="686.5" cy="889.8" rx="1.39" ry="0.99" fill="#3ee050" opacity="1.00"/>
<ellipse cx="650.5" cy="890.7" rx="1.07" ry="0.76" fill="#3ee050" opacity="1.00"/>
<ellipse cx="659.7" cy="892.5" rx="1.37" ry="0.98" fill="#3ee050" opacity="1.00"/>
<ellipse cx="623.0" cy="896.2" rx="1.15" ry="0.82" fill="#3ee050" opacity="0.79"/>
<ellipse cx="643.6" cy="897.6" rx="1.21" ry="0.86" fill="#3ee050" opacity="1.00"/>
<ellipse cx="653.9" cy="903.8" rx="1.30" ry="0.93" fill="#3ee050" opacity="0.78"/>
<ellipse cx="685.2" cy="899.9" rx="1.22" ry="0.87" fill="#3ee050" opacity="0.74"/>
<ellipse cx="625.8" cy="901.0" rx="1.03" ry="0.74" fill="#3ee050" opacity="0.66"/>
<ellipse cx="635.4" cy="901.7" rx="1.43" ry="1.02" fill="#3ee050" opacity="0.75"/>
<ellipse cx="618.9" cy="907.2" rx="1.48" ry="1.06" fill="#3ee050" opacity="0.73"/>
<ellipse cx="622.3" cy="906.2" rx="1.14" ry="0.82" fill="#3ee050" opacity="0.86"/>
<ellipse cx="662.8" cy="908.6" rx="1.10" ry="0.79" fill="#3ee050" opacity="0.79"/>
<ellipse cx="630.6" cy="910.0" rx="1.49" ry="1.06" fill="#3ee050" opacity="1.00"/>
<ellipse cx="634.7" cy="909.3" rx="1.42" ry="1.01" fill="#3ee050" opacity="0.92"/>
<ellipse cx="656.6" cy="912.7" rx="1.47" ry="1.05" fill="#3ee050" opacity="1.00"/>
<ellipse cx="670.1" cy="917.5" rx="1.28" ry="0.92" fill="#3ee050" opacity="0.96"/>
<ellipse cx="618.2" cy="916.8" rx="1.03" ry="0.74" fill="#3ee050" opacity="0.97"/>
<ellipse cx="647.0" cy="917.5" rx="1.24" ry="0.88" fill="#3ee050" opacity="0.98"/>
<ellipse cx="627.1" cy="923.3" rx="1.33" ry="0.95" fill="#3ee050" opacity="0.75"/>
<ellipse cx="631.3" cy="924.4" rx="1.03" ry="0.74" fill="#3ee050" opacity="1.00"/>
<ellipse cx="643.6" cy="923.3" rx="1.07" ry="0.77" fill="#3ee050" opacity="0.84"/>
<ellipse cx="618.9" cy="923.7" rx="1.18" ry="0.84" fill="#3ee050" opacity="0.75"/>
<ellipse cx="622.3" cy="930.1" rx="1.38" ry="0.99" fill="#3ee050" opacity="1.00"/>
<ellipse cx="677.5" cy="928.2" rx="1.14" ry="0.81" fill="#3ee050" opacity="0.93"/>
<ellipse cx="659.4" cy="940.1" rx="1.16" ry="0.83" fill="#3ee050" opacity="0.88"/>
<ellipse cx="677.9" cy="939.4" rx="1.21" ry="0.86" fill="#3ee050" opacity="0.69"/>
<ellipse cx="621.7" cy="947.0" rx="1.09" ry="0.78" fill="#3ee050" opacity="0.71"/>
<ellipse cx="704.0" cy="947.0" rx="1.46" ry="1.05" fill="#3ee050" opacity="0.85"/>
<ellipse cx="614.1" cy="943.6" rx="1.12" ry="0.80" fill="#3ee050" opacity="1.00"/>
<ellipse cx="640.0" cy="935.0" rx="1.51" ry="1.08" fill="#3ee050" opacity="0.83"/>
<ellipse cx="665.0" cy="925.0" rx="1.08" ry="0.77" fill="#3ee050" opacity="0.70"/>
<ellipse cx="693.0" cy="915.0" rx="1.05" ry="0.75" fill="#3ee050" opacity="0.77"/>
<ellipse cx="699.0" cy="935.0" rx="1.05" ry="0.75" fill="#3ee050" opacity="0.72"/>
<ellipse cx="680.0" cy="905.0" rx="1.14" ry="0.81" fill="#3ee050" opacity="0.89"/>
<ellipse cx="643.0" cy="912.0" rx="1.46" ry="1.04" fill="#3ee050" opacity="0.98"/>
<ellipse cx="681.9" cy="890.8" rx="1.08" ry="0.77" fill="#3ee050" opacity="0.48"/>
<ellipse cx="697.6" cy="908.7" rx="1.05" ry="0.75" fill="#3ee050" opacity="0.36"/>
<ellipse cx="694.4" cy="900.0" rx="1.08" ry="0.77" fill="#3ee050" opacity="0.33"/>
<ellipse cx="673.1" cy="935.7" rx="1.19" ry="0.85" fill="#3ee050" opacity="0.48"/>
<ellipse cx="683.2" cy="907.2" rx="0.92" ry="0.65" fill="#3ee050" opacity="0.28"/>
<ellipse cx="632.9" cy="946.2" rx="0.99" ry="0.71" fill="#3ee050" opacity="0.62"/>
<ellipse cx="668.3" cy="945.3" rx="0.89" ry="0.64" fill="#3ee050" opacity="0.63"/>
<ellipse cx="629.2" cy="931.4" rx="1.20" ry="0.86" fill="#3ee050" opacity="0.64"/>
<ellipse cx="673.1" cy="874.8" rx="1.00" ry="0.71" fill="#3ee050" opacity="0.59"/>
<ellipse cx="622.1" cy="903.9" rx="0.93" ry="0.67" fill="#3ee050" opacity="0.28"/>
<ellipse cx="644.0" cy="911.3" rx="1.12" ry="0.80" fill="#3ee050" opacity="0.30"/>
<ellipse cx="650.6" cy="929.3" rx="1.09" ry="0.78" fill="#3ee050" opacity="0.63"/>
<ellipse cx="626.5" cy="936.8" rx="1.11" ry="0.79" fill="#3ee050" opacity="0.51"/>
<ellipse cx="633.3" cy="914.1" rx="1.13" ry="0.81" fill="#3ee050" opacity="0.60"/>
<ellipse cx="625.3" cy="933.7" rx="0.84" ry="0.60" fill="#3ee050" opacity="0.39"/>
<ellipse cx="666.5" cy="875.6" rx="0.97" ry="0.69" fill="#3ee050" opacity="0.59"/>
<ellipse cx="650.1" cy="903.1" rx="0.84" ry="0.60" fill="#3ee050" opacity="0.61"/>
<ellipse cx="696.2" cy="926.1" rx="0.99" ry="0.70" fill="#3ee050" opacity="0.39"/>
<ellipse cx="672.6" cy="921.0" rx="1.16" ry="0.83" fill="#3ee050" opacity="0.55"/>
<ellipse cx="634.2" cy="932.7" rx="0.91" ry="0.65" fill="#3ee050" opacity="0.39"/>
<ellipse cx="681.1" cy="878.0" rx="1.20" ry="0.85" fill="#3ee050" opacity="0.37"/>
<ellipse cx="659.3" cy="940.0" rx="1.12" ry="0.80" fill="#3ee050" opacity="0.48"/>
<ellipse cx="651.0" cy="921.4" rx="0.92" ry="0.66" fill="#3ee050" opacity="0.54"/>
<ellipse cx="668.2" cy="946.0" rx="0.98" ry="0.70" fill="#3ee050" opacity="0.42"/>
<ellipse cx="676.1" cy="944.3" rx="1.07" ry="0.77" fill="#3ee050" opacity="0.34"/>
<ellipse cx="671.3" cy="921.3" rx="1.16" ry="0.83" fill="#3ee050" opacity="0.36"/>
<ellipse cx="690.7" cy="897.9" rx="0.85" ry="0.61" fill="#3ee050" opacity="0.48"/>
<ellipse cx="674.2" cy="928.1" rx="1.12" ry="0.80" fill="#3ee050" opacity="0.45"/>
<ellipse cx="633.1" cy="928.1" rx="1.00" ry="0.71" fill="#3ee050" opacity="0.48"/>
<ellipse cx="669.5" cy="919.4" rx="1.12" ry="0.80" fill="#3ee050" opacity="0.35"/>
<ellipse cx="642.1" cy="915.5" rx="0.97" ry="0.70" fill="#3ee050" opacity="0.42"/>
<ellipse cx="664.0" cy="943.1" rx="0.93" ry="0.66" fill="#3ee050" opacity="0.57"/>
<ellipse cx="702.3" cy="931.5" rx="0.88" ry="0.63" fill="#3ee050" opacity="0.45"/>
<ellipse cx="654.3" cy="935.8" rx="0.98" ry="0.70" fill="#3ee050" opacity="0.64"/>
</g>
<g filter="url(#bl4)" style="mix-blend-mode:screen">
<ellipse cx="662.8" cy="885.7" rx="1.51" ry="1.08" fill="#f02838" opacity="0.99"/>
<ellipse cx="650.5" cy="890.1" rx="1.41" ry="1.01" fill="#f02838" opacity="0.88"/>
<ellipse cx="660.1" cy="892.1" rx="1.21" ry="0.86" fill="#f02838" opacity="0.66"/>
<ellipse cx="623.0" cy="905.8" rx="1.31" ry="0.94" fill="#f02838" opacity="0.66"/>
<ellipse cx="635.4" cy="910.0" rx="1.31" ry="0.94" fill="#f02838" opacity="0.77"/>
<ellipse cx="657.3" cy="912.0" rx="1.31" ry="0.94" fill="#f02838" opacity="0.66"/>
<ellipse cx="619.6" cy="915.9" rx="1.21" ry="0.86" fill="#f02838" opacity="0.55"/>
<ellipse cx="643.6" cy="919.6" rx="1.21" ry="0.86" fill="#f02838" opacity="0.44"/>
<ellipse cx="636.0" cy="899.0" rx="1.11" ry="0.79" fill="#f02838" opacity="0.39"/>
<ellipse cx="623.7" cy="896.2" rx="1.11" ry="0.79" fill="#f02838" opacity="0.44"/>
<ellipse cx="654.6" cy="903.8" rx="1.11" ry="0.79" fill="#f02838" opacity="0.39"/>
<ellipse cx="704.0" cy="947.0" rx="1.01" ry="0.72" fill="#f02838" opacity="0.66"/>
<ellipse cx="630.0" cy="925.0" rx="1.01" ry="0.72" fill="#f02838" opacity="0.33"/>
<ellipse cx="648.0" cy="930.0" rx="1.01" ry="0.72" fill="#f02838" opacity="0.28"/>
<ellipse cx="640.0" cy="888.0" rx="1.01" ry="0.72" fill="#f02838" opacity="0.33"/>
</g>
<circle cx="561.9" cy="929.8" r="3" fill="none" stroke="#40d050" stroke-width="1.1"/>
<circle cx="600.0" cy="904" r="2" fill="none" stroke="#30b040" stroke-width="1"/>
<circle cx="534.2" cy="929.2" r="2.5" fill="none" stroke="#207a30" stroke-width="0.9"/>
<circle cx="656.9" cy="929.8" r="3" fill="none" stroke="#40d050" stroke-width="1.1"/>
<circle cx="695.0" cy="904" r="2" fill="none" stroke="#30b040" stroke-width="1"/>
<circle cx="629.2" cy="929.2" r="2.5" fill="none" stroke="#207a30" stroke-width="0.9"/>
</g>
<rect x="426.30" y="794.40" width="3.50" height="23.00" fill="url(#cbr)"/>
<rect x="521.80" y="794.90" width="3.50" height="22.60" fill="url(#cbg)"/>
<rect x="426.30" y="871.50" width="3.50" height="23.00" fill="url(#cbr)"/>
<rect x="521.80" y="872.00" width="3.50" height="22.60" fill="url(#cbg)"/>
<text x="432" y="804.5" font-size="11.3" fill="#fff" font-weight="bold">3400</text>
<text x="432" y="818.6" font-size="11.3" fill="#fff" font-weight="bold">2800</text>
<text x="432" y="880.5" font-size="11.3" fill="#fff" font-weight="bold">3400</text>
<text x="432" y="895" font-size="11.3" fill="#fff" font-weight="bold">2800</text>
<text x="527.6" y="804.5" font-size="11.3" fill="#fff" font-weight="bold">5300</text>
<text x="527.6" y="818.6" font-size="11.3" fill="#fff" font-weight="bold">3300</text>
<text x="527.6" y="880.5" font-size="11.3" fill="#fff" font-weight="bold">5300</text>
<text x="527.6" y="895" font-size="11.3" fill="#fff" font-weight="bold">3300</text>
<line x1="615.2" y1="862.3" x2="678.6" y2="862.3" stroke="#fff" stroke-width="1.6"/>
<line x1="615.1" y1="946.2" x2="654.2" y2="946.2" stroke="#fff" stroke-width="1.6"/>
<path d="M613.4,829.8 Q628,845 642.9,863.4" stroke="#fff" stroke-width="1.0" fill="none" stroke-dasharray="2.5,2.5"/>
<path d="M613.6,882.5 Q645,874 672.2,871.4 Q690,874 704.7,897.5" stroke="#fff" stroke-width="1.0" fill="none" stroke-dasharray="2.5,2.5"/>
<text x="389.0" y="816.2" font-size="15" text-anchor="middle" fill="#1c1c1c" stroke="#1c1c1c" stroke-width="0.3">− PFN</text>
<text x="389.0" y="833.5" font-size="15" text-anchor="middle" fill="#1c1c1c" stroke="#1c1c1c" stroke-width="0.3">+ dextran</text>
<text x="389.0" y="851.0" font-size="15" text-anchor="middle" fill="#1c1c1c" stroke="#1c1c1c" stroke-width="0.3">(10 min)</text>
<text x="389.0" y="896.5" font-size="15" text-anchor="middle" fill="#1c1c1c" stroke="#1c1c1c" stroke-width="0.3">+ PFN</text>
<text x="389.0" y="914.7" font-size="15" text-anchor="middle" fill="#1c1c1c" stroke="#1c1c1c" stroke-width="0.3">+ dextran</text>
<text x="389.0" y="931.8" font-size="15" text-anchor="middle" fill="#1c1c1c" stroke="#1c1c1c" stroke-width="0.3">(10 min)</text>
</svg>
</body></html>
